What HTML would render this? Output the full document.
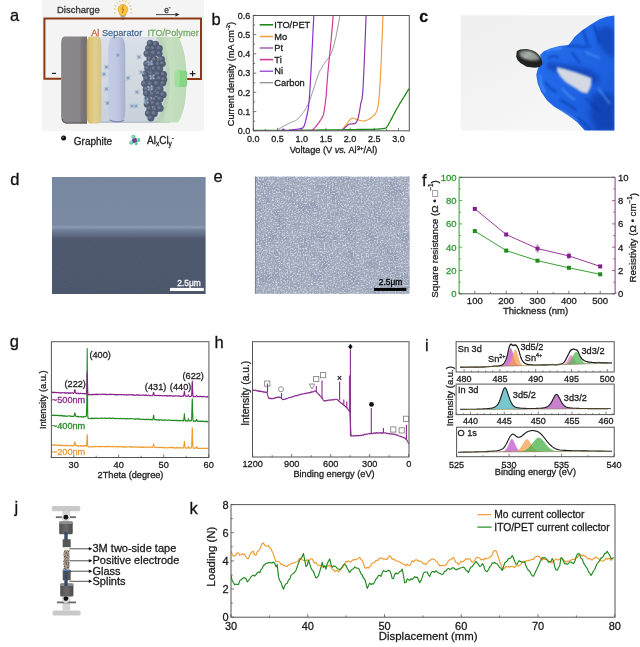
<!DOCTYPE html>
<html><head><meta charset="utf-8"><style>
html,body{margin:0;padding:0;background:#fff;}
body{width:640px;height:647px;overflow:hidden;}
svg{display:block;font-family:"Liberation Sans",sans-serif;will-change:transform;}
</style></head><body>
<svg width="640" height="647" viewBox="0 0 640 647">
<defs><linearGradient id="tube" x1="0" y1="0" x2="0" y2="1"><stop offset="0" stop-color="#d8dfe6"/><stop offset="0.5" stop-color="#d2d9e1"/><stop offset="1" stop-color="#c8d0da"/></linearGradient>
<linearGradient id="grdisk" x1="0" y1="0" x2="1" y2="0"><stop offset="0" stop-color="#827e81"/><stop offset="0.1" stop-color="#8b878a"/><stop offset="0.72" stop-color="#888487"/><stop offset="0.8" stop-color="#7a7679"/><stop offset="1" stop-color="#737072"/></linearGradient>
<linearGradient id="aldisk" x1="0" y1="0" x2="1" y2="0"><stop offset="0" stop-color="#c9a94a"/><stop offset="0.15" stop-color="#d9c074"/><stop offset="0.6" stop-color="#e2cf90"/><stop offset="1" stop-color="#d5c286"/></linearGradient>
<linearGradient id="sepdisk" x1="0" y1="0" x2="1" y2="0"><stop offset="0" stop-color="#c4cbe6"/><stop offset="0.5" stop-color="#c0c7e3"/><stop offset="0.75" stop-color="#b4bcda"/><stop offset="1" stop-color="#a7b0cf"/></linearGradient>
<linearGradient id="itocap" x1="0" y1="0" x2="1" y2="0"><stop offset="0" stop-color="#b9d7b5"/><stop offset="0.4" stop-color="#c6e0c1"/><stop offset="1" stop-color="#bcd9b6"/></linearGradient>
<clipPath id="clipb"><rect x="253.3" y="15.5" width="156.0" height="115.30000000000001"/></clipPath>
<linearGradient id="cbg" x1="0" y1="0" x2="0.6" y2="1"><stop offset="0" stop-color="#efefef"/><stop offset="0.5" stop-color="#f2f2f2"/><stop offset="1" stop-color="#f7f7f7"/></linearGradient>
<linearGradient id="glv" x1="0" y1="0" x2="1" y2="1"><stop offset="0" stop-color="#2a74f0"/><stop offset="0.45" stop-color="#2066e6"/><stop offset="1" stop-color="#1a56d4"/></linearGradient>
<clipPath id="clipglove"><polygon points="614.4,15.6 614.4,130.5 585,130.5 583.4,129.1 577.8,122.8 570.8,117.2 562.3,111.6 553.9,106.6 546.9,100.3 541.2,91.9 537.7,83.4 536.3,75 537.6,69.3 540.3,63.9 540.3,54.8 543.9,51.2 550.2,48.5 559.3,46.1 568.3,44.9 571,42.1 574.7,36.7 581,31.3 590,25 599.1,19.5 606.3,16.8"/></clipPath>
<filter id="blur1"><feGaussianBlur stdDeviation="1.0"/></filter>
<filter id="blur2"><feGaussianBlur stdDeviation="2.2"/></filter>
<linearGradient id="sampg" x1="0" y1="0" x2="1" y2="0.5"><stop offset="0" stop-color="#6a706a"/><stop offset="0.45" stop-color="#a8aea8"/><stop offset="1" stop-color="#8a908a"/></linearGradient>
<linearGradient id="dgrad" x1="0" y1="0" x2="0" y2="1"><stop offset="0" stop-color="#7686a0"/><stop offset="0.413" stop-color="#7888a2"/><stop offset="0.42" stop-color="#8696ae"/><stop offset="0.436" stop-color="#8393ab"/><stop offset="0.452" stop-color="#6f7e98"/><stop offset="0.51" stop-color="#55617a"/><stop offset="0.522" stop-color="#4a556b"/><stop offset="1" stop-color="#485369"/></linearGradient>
<filter id="noiseD" x="0" y="0" width="100%" height="100%"><feTurbulence type="fractalNoise" baseFrequency="0.9" numOctaves="2" seed="3" result="n"/><feColorMatrix type="matrix" values="0 0 0 0 0.5  0 0 0 0 0.5  0 0 0 0 0.55  0 0 0 0.25 0"/></filter>
<filter id="noiseE" x="0" y="0" width="100%" height="100%" color-interpolation-filters="sRGB"><feTurbulence type="fractalNoise" baseFrequency="0.07" numOctaves="2" seed="5" result="lo"/><feColorMatrix in="lo" type="matrix" values="0 0 0 0 0.52  0 0 0 0 0.56  0 0 0 0 0.65  1.5 0 0 0 -0.68" result="dk"/><feTurbulence type="fractalNoise" baseFrequency="0.62" numOctaves="2" seed="11" result="n"/><feColorMatrix in="n" type="matrix" values="0 0 0 0 0.82  0 0 0 0 0.85  0 0 0 0 0.91  3.0 0 0 0 -1.36" result="w"/><feTurbulence type="fractalNoise" baseFrequency="0.7" numOctaves="1" seed="29" result="n2"/><feColorMatrix in="n2" type="matrix" values="0 0 0 0 0.52  0 0 0 0 0.56  0 0 0 0 0.65  2.2 0 0 0 -1.1" result="d2"/><feMerge result="m"><feMergeNode in="dk"/><feMergeNode in="d2"/><feMergeNode in="w"/></feMerge><feGaussianBlur in="m" stdDeviation="0.3"/></filter>
<clipPath id="clipg"><rect x="51.4" y="341.7" width="157.5" height="115.80000000000001"/></clipPath>
<clipPath id="cliph"><rect x="252.5" y="341.7" width="156.5" height="115.30000000000001"/></clipPath>
<clipPath id="clipsn"><rect x="456.1" y="341.7" width="158.10000000000002" height="30.30000000000001"/></clipPath>
<clipPath id="clipin"><rect x="456.1" y="384.1" width="158.10000000000002" height="30.5"/></clipPath>
<clipPath id="clipo"><rect x="456.6" y="427.2" width="157.60000000000002" height="29.5"/></clipPath>
<linearGradient id="clmp" x1="0" y1="0" x2="1" y2="0"><stop offset="0" stop-color="#505050"/><stop offset="0.5" stop-color="#6a6a6a"/><stop offset="1" stop-color="#4a4a4a"/></linearGradient>
<filter id="sandf" x="0" y="0" width="100%" height="100%" color-interpolation-filters="sRGB"><feTurbulence type="fractalNoise" baseFrequency="0.8" numOctaves="2" seed="4"/><feColorMatrix type="matrix" values="0 0 0 0 0.35  0 0 0 0 0.3  0 0 0 0 0.25  3 0 0 0 -1.3"/></filter>
<clipPath id="clipk"><rect x="231.0" y="504.6" width="384.0" height="112.60000000000002"/></clipPath></defs>
<rect width="640" height="647" fill="#fff"/>
<text x="9.9" y="20.6" font-size="16.5" fill="#111" stroke="#111" stroke-width="0.28" text-anchor="start" >a</text>
<text x="211.6" y="24.9" font-size="16.5" fill="#111" stroke="#111" stroke-width="0.28" text-anchor="start" >b</text>
<text x="10.3" y="185" font-size="16.5" fill="#111" stroke="#111" stroke-width="0.28" text-anchor="start" >d</text>
<text x="213.6" y="181.9" font-size="16.5" fill="#111" stroke="#111" stroke-width="0.28" text-anchor="start" >e</text>
<text x="422.1" y="185.6" font-size="16.5" fill="#111" stroke="#111" stroke-width="0.28" text-anchor="start" >f</text>
<text x="9.7" y="347.3" font-size="16.5" fill="#111" stroke="#111" stroke-width="0.28" text-anchor="start" >g</text>
<text x="214.6" y="348.1" font-size="16.5" fill="#111" stroke="#111" stroke-width="0.28" text-anchor="start" >h</text>
<text x="425.1" y="350.9" font-size="16.5" fill="#111" stroke="#111" stroke-width="0.28" text-anchor="start" >i</text>
<text x="14.6" y="512.9" font-size="16.5" fill="#111" stroke="#111" stroke-width="0.28" text-anchor="start" >j</text>
<text x="189.6" y="513.8" font-size="16.5" fill="#111" stroke="#111" stroke-width="0.28" text-anchor="start" >k</text>
<text x="419.2" y="21.6" font-size="16" fill="#111" stroke="#111" stroke-width="0.28" text-anchor="start" font-weight="bold">c</text>
<rect x="42" y="0" width="162" height="130.8" fill="#f4f4f4" stroke="none" stroke-width="1" />
<text x="57" y="12.6" font-size="9.5" fill="#333" stroke="#333" stroke-width="0.28" text-anchor="start" >Discharge</text>
<line x1="115.5" y1="9" x2="113.9" y2="9" stroke="#d8b040" stroke-width="0.9"/>
<line x1="116.1" y1="6.2" x2="114.6" y2="5.6" stroke="#d8b040" stroke-width="0.9"/>
<line x1="117.7" y1="3.8" x2="116.5" y2="2.6" stroke="#d8b040" stroke-width="0.9"/>
<line x1="120.1" y1="2.2" x2="119.5" y2="0.7" stroke="#d8b040" stroke-width="0.9"/>
<line x1="122.9" y1="1.6" x2="122.9" y2="0" stroke="#d8b040" stroke-width="0.9"/>
<line x1="125.7" y1="2.2" x2="126.3" y2="0.7" stroke="#d8b040" stroke-width="0.9"/>
<line x1="128.1" y1="3.8" x2="129.3" y2="2.6" stroke="#d8b040" stroke-width="0.9"/>
<line x1="129.7" y1="6.2" x2="131.2" y2="5.6" stroke="#d8b040" stroke-width="0.9"/>
<line x1="130.3" y1="9" x2="131.9" y2="9" stroke="#d8b040" stroke-width="0.9"/>
<line x1="115.3" y1="12.5" x2="113.9" y2="13.2" stroke="#d8b040" stroke-width="0.9"/>
<line x1="130.5" y1="12.5" x2="131.9" y2="13.2" stroke="#d8b040" stroke-width="0.9"/>
<path d="M119.2,12.6 A4.9,4.9 0 1 1 126.6,12.6 L125.4,15.6 L120.4,15.6 Z" fill="#f8c640" stroke="#e0a020" stroke-width="0.7"/>
<path d="M123.7,5.6 L121.8,9.4 L123.9,9.4 L122.2,13.2" fill="none" stroke="#c85a1a" stroke-width="0.8"/>
<rect x="120.6" y="15.4" width="4.6" height="2" fill="#b0b0b0" stroke="none" stroke-width="1" />
<circle cx="122.9" cy="18.6" r="1.6" fill="#a8a8a8"/>
<text x="164.2" y="12.9" font-size="8.2" fill="#333" stroke="#333" stroke-width="0.28" text-anchor="start" >e</text>
<rect x="168.6" y="7.4" width="2" height="0.8" fill="#333" stroke="none" stroke-width="1" />
<line x1="156" y1="14.6" x2="176" y2="14.6" stroke="#333" stroke-width="0.9"/>
<path d="M179.5,14.6 L175.5,12.8 L175.5,16.4 Z" fill="#222"/>
<path d="M61,78.7 L44.4,78.7 L44.4,18.4 L201,18.4 L201,78.9 L187,78.9" fill="none" stroke="#8c3a14" stroke-width="2"/>
<rect x="52" y="72.8" width="4" height="1.2" fill="#222" stroke="none" stroke-width="1" />
<line x1="192.6" y1="70.8" x2="192.6" y2="76.6" stroke="#111" stroke-width="1.1"/>
<line x1="189.7" y1="73.7" x2="195.5" y2="73.7" stroke="#111" stroke-width="1.1"/>
<path d="M95,36.8 L170,36.8 L170,122.5 L95,122.5 Z" fill="url(#tube)"/>
<line x1="95" y1="122.2" x2="170" y2="122.2" stroke="#aab4c0" stroke-width="1"/>
<path d="M64.5,36.5 L87,36.5 L87,123.4 L65.5,123.4 Q61.2,123 61.2,116 L61.2,43 Q61.2,37 64.5,36.5 Z" fill="url(#grdisk)"/>
<path d="M62.2,119 Q63,122.8 66,123 L87,123" fill="none" stroke="#5a5659" stroke-width="1"/>
<path d="M89.5,36.5 L98.5,36.5 Q101.3,37.5 101.3,45 L101.3,115 Q101.3,122.8 98.5,123.4 L89.5,123.4 Q86.7,122.5 86.7,115 L86.7,45 Q86.7,37.5 89.5,36.5 Z" fill="url(#aldisk)"/>
<path d="M112,37 L121.5,37 Q125.3,39 125.3,50 L125.3,110 Q125.3,121.5 121.5,122.5 L112,122.5 Q108.3,121.5 108.3,110 L108.3,50 Q108.3,39 112,37 Z" fill="url(#sepdisk)"/>
<path d="M109.5,120 Q116,123.5 124,120.5" fill="none" stroke="#8088a8" stroke-width="1.2"/>
<path d="M158.5,37 L178,37 Q186.5,50 186.5,80 Q186.5,110 178,122.5 L158.5,122.5 Q170,108 170,80 Q170,52 158.5,37 Z" fill="url(#itocap)"/>
<path d="M156,37 Q165.5,52 165.5,80 Q165.5,108 156,122.5 L160,122.5 Q170,108 170,80 Q170,52 160,37 Z" fill="#b4d2b0" opacity="0.8"/>
<circle cx="150.2" cy="43.2" r="3.2" fill="#535f75" stroke="#46506a" stroke-width="0.4"/>
<circle cx="155.6" cy="44.4" r="3.4" fill="#535f75" stroke="#46506a" stroke-width="0.4"/>
<circle cx="148.6" cy="48.3" r="3.3" fill="#535f75" stroke="#46506a" stroke-width="0.4"/>
<circle cx="153.2" cy="48.5" r="3.3" fill="#535f75" stroke="#46506a" stroke-width="0.4"/>
<circle cx="159.2" cy="48.5" r="3.4" fill="#535f75" stroke="#46506a" stroke-width="0.4"/>
<circle cx="147.1" cy="53.6" r="3.4" fill="#535f75" stroke="#46506a" stroke-width="0.4"/>
<circle cx="153.5" cy="53.2" r="3.5" fill="#535f75" stroke="#46506a" stroke-width="0.4"/>
<circle cx="159.3" cy="53.7" r="3.1" fill="#535f75" stroke="#46506a" stroke-width="0.4"/>
<circle cx="149.7" cy="58.7" r="3.1" fill="#535f75" stroke="#46506a" stroke-width="0.4"/>
<circle cx="154.4" cy="59.6" r="3.4" fill="#535f75" stroke="#46506a" stroke-width="0.4"/>
<circle cx="161.5" cy="59.4" r="3.3" fill="#535f75" stroke="#46506a" stroke-width="0.4"/>
<circle cx="146.8" cy="63.8" r="3.3" fill="#535f75" stroke="#46506a" stroke-width="0.4"/>
<circle cx="152.5" cy="64.2" r="3.5" fill="#535f75" stroke="#46506a" stroke-width="0.4"/>
<circle cx="158.1" cy="64.3" r="3.0" fill="#535f75" stroke="#46506a" stroke-width="0.4"/>
<circle cx="162.6" cy="63.7" r="3.0" fill="#535f75" stroke="#46506a" stroke-width="0.4"/>
<circle cx="147.6" cy="68.4" r="3.2" fill="#535f75" stroke="#46506a" stroke-width="0.4"/>
<circle cx="154.2" cy="68.8" r="3.2" fill="#535f75" stroke="#46506a" stroke-width="0.4"/>
<circle cx="159.5" cy="68.6" r="3.6" fill="#535f75" stroke="#46506a" stroke-width="0.4"/>
<circle cx="145.2" cy="74.2" r="3.1" fill="#535f75" stroke="#46506a" stroke-width="0.4"/>
<circle cx="151.4" cy="73.5" r="3.2" fill="#535f75" stroke="#46506a" stroke-width="0.4"/>
<circle cx="157.8" cy="74.2" r="3.3" fill="#535f75" stroke="#46506a" stroke-width="0.4"/>
<circle cx="163.3" cy="74.5" r="3.5" fill="#535f75" stroke="#46506a" stroke-width="0.4"/>
<circle cx="146.6" cy="78.3" r="3.2" fill="#535f75" stroke="#46506a" stroke-width="0.4"/>
<circle cx="152.6" cy="78.5" r="3.6" fill="#535f75" stroke="#46506a" stroke-width="0.4"/>
<circle cx="159.6" cy="78.7" r="3.4" fill="#535f75" stroke="#46506a" stroke-width="0.4"/>
<circle cx="163.8" cy="79.7" r="3.3" fill="#535f75" stroke="#46506a" stroke-width="0.4"/>
<circle cx="144.6" cy="83.6" r="3.3" fill="#535f75" stroke="#46506a" stroke-width="0.4"/>
<circle cx="150.6" cy="84.1" r="3.5" fill="#535f75" stroke="#46506a" stroke-width="0.4"/>
<circle cx="156.8" cy="83.6" r="3.6" fill="#535f75" stroke="#46506a" stroke-width="0.4"/>
<circle cx="163.0" cy="83.3" r="3.0" fill="#535f75" stroke="#46506a" stroke-width="0.4"/>
<circle cx="146.4" cy="89.2" r="3.5" fill="#535f75" stroke="#46506a" stroke-width="0.4"/>
<circle cx="152.9" cy="88.3" r="3.2" fill="#535f75" stroke="#46506a" stroke-width="0.4"/>
<circle cx="159.8" cy="89.0" r="3.6" fill="#535f75" stroke="#46506a" stroke-width="0.4"/>
<circle cx="146.6" cy="93.2" r="3.4" fill="#535f75" stroke="#46506a" stroke-width="0.4"/>
<circle cx="152.3" cy="94.1" r="3.2" fill="#535f75" stroke="#46506a" stroke-width="0.4"/>
<circle cx="158.2" cy="93.4" r="3.3" fill="#535f75" stroke="#46506a" stroke-width="0.4"/>
<circle cx="162.9" cy="94.7" r="3.5" fill="#535f75" stroke="#46506a" stroke-width="0.4"/>
<circle cx="147.6" cy="99.0" r="3.1" fill="#535f75" stroke="#46506a" stroke-width="0.4"/>
<circle cx="154.7" cy="99.6" r="3.2" fill="#535f75" stroke="#46506a" stroke-width="0.4"/>
<circle cx="160.2" cy="99.2" r="3.1" fill="#535f75" stroke="#46506a" stroke-width="0.4"/>
<circle cx="147.4" cy="104.1" r="3.5" fill="#535f75" stroke="#46506a" stroke-width="0.4"/>
<circle cx="153.0" cy="103.2" r="3.2" fill="#535f75" stroke="#46506a" stroke-width="0.4"/>
<circle cx="158.2" cy="104.7" r="3.5" fill="#535f75" stroke="#46506a" stroke-width="0.4"/>
<circle cx="149.5" cy="108.7" r="3.0" fill="#535f75" stroke="#46506a" stroke-width="0.4"/>
<circle cx="155.6" cy="109.7" r="3.1" fill="#535f75" stroke="#46506a" stroke-width="0.4"/>
<circle cx="160.0" cy="108.3" r="3.5" fill="#535f75" stroke="#46506a" stroke-width="0.4"/>
<circle cx="148.4" cy="113.4" r="3.3" fill="#535f75" stroke="#46506a" stroke-width="0.4"/>
<circle cx="154.1" cy="113.6" r="3.5" fill="#535f75" stroke="#46506a" stroke-width="0.4"/>
<circle cx="150.9" cy="118.0" r="3.3" fill="#535f75" stroke="#46506a" stroke-width="0.4"/>
<circle cx="149.3" cy="42.3" r="1.6" fill="#74819a" opacity="0.75"/>
<circle cx="154.7" cy="43.5" r="1.7" fill="#74819a" opacity="0.75"/>
<circle cx="147.7" cy="47.4" r="1.6" fill="#74819a" opacity="0.75"/>
<circle cx="152.3" cy="47.6" r="1.7" fill="#74819a" opacity="0.75"/>
<circle cx="158.3" cy="47.6" r="1.7" fill="#74819a" opacity="0.75"/>
<circle cx="146.2" cy="52.7" r="1.7" fill="#74819a" opacity="0.75"/>
<circle cx="152.6" cy="52.3" r="1.7" fill="#74819a" opacity="0.75"/>
<circle cx="158.4" cy="52.8" r="1.5" fill="#74819a" opacity="0.75"/>
<circle cx="148.8" cy="57.8" r="1.5" fill="#74819a" opacity="0.75"/>
<circle cx="153.5" cy="58.7" r="1.7" fill="#74819a" opacity="0.75"/>
<circle cx="160.6" cy="58.5" r="1.7" fill="#74819a" opacity="0.75"/>
<circle cx="145.9" cy="62.9" r="1.7" fill="#74819a" opacity="0.75"/>
<circle cx="151.6" cy="63.3" r="1.8" fill="#74819a" opacity="0.75"/>
<circle cx="157.2" cy="63.4" r="1.5" fill="#74819a" opacity="0.75"/>
<circle cx="161.7" cy="62.8" r="1.5" fill="#74819a" opacity="0.75"/>
<circle cx="146.7" cy="67.5" r="1.6" fill="#74819a" opacity="0.75"/>
<circle cx="153.3" cy="67.9" r="1.6" fill="#74819a" opacity="0.75"/>
<circle cx="158.6" cy="67.7" r="1.8" fill="#74819a" opacity="0.75"/>
<circle cx="144.3" cy="73.3" r="1.6" fill="#74819a" opacity="0.75"/>
<circle cx="150.5" cy="72.6" r="1.6" fill="#74819a" opacity="0.75"/>
<circle cx="156.9" cy="73.3" r="1.7" fill="#74819a" opacity="0.75"/>
<circle cx="162.4" cy="73.6" r="1.7" fill="#74819a" opacity="0.75"/>
<circle cx="145.7" cy="77.4" r="1.6" fill="#74819a" opacity="0.75"/>
<circle cx="151.7" cy="77.6" r="1.8" fill="#74819a" opacity="0.75"/>
<circle cx="158.7" cy="77.8" r="1.7" fill="#74819a" opacity="0.75"/>
<circle cx="162.9" cy="78.8" r="1.6" fill="#74819a" opacity="0.75"/>
<circle cx="143.7" cy="82.7" r="1.7" fill="#74819a" opacity="0.75"/>
<circle cx="149.7" cy="83.2" r="1.8" fill="#74819a" opacity="0.75"/>
<circle cx="155.9" cy="82.7" r="1.8" fill="#74819a" opacity="0.75"/>
<circle cx="162.1" cy="82.4" r="1.5" fill="#74819a" opacity="0.75"/>
<circle cx="145.5" cy="88.3" r="1.7" fill="#74819a" opacity="0.75"/>
<circle cx="152.0" cy="87.4" r="1.6" fill="#74819a" opacity="0.75"/>
<circle cx="158.9" cy="88.1" r="1.8" fill="#74819a" opacity="0.75"/>
<circle cx="145.7" cy="92.3" r="1.7" fill="#74819a" opacity="0.75"/>
<circle cx="151.4" cy="93.2" r="1.6" fill="#74819a" opacity="0.75"/>
<circle cx="157.3" cy="92.5" r="1.6" fill="#74819a" opacity="0.75"/>
<circle cx="162.0" cy="93.8" r="1.8" fill="#74819a" opacity="0.75"/>
<circle cx="146.7" cy="98.1" r="1.6" fill="#74819a" opacity="0.75"/>
<circle cx="153.8" cy="98.7" r="1.6" fill="#74819a" opacity="0.75"/>
<circle cx="159.3" cy="98.3" r="1.5" fill="#74819a" opacity="0.75"/>
<circle cx="146.5" cy="103.2" r="1.7" fill="#74819a" opacity="0.75"/>
<circle cx="152.1" cy="102.3" r="1.6" fill="#74819a" opacity="0.75"/>
<circle cx="157.3" cy="103.8" r="1.8" fill="#74819a" opacity="0.75"/>
<circle cx="148.6" cy="107.8" r="1.5" fill="#74819a" opacity="0.75"/>
<circle cx="154.7" cy="108.8" r="1.5" fill="#74819a" opacity="0.75"/>
<circle cx="159.1" cy="107.4" r="1.7" fill="#74819a" opacity="0.75"/>
<circle cx="147.5" cy="112.5" r="1.6" fill="#74819a" opacity="0.75"/>
<circle cx="153.2" cy="112.7" r="1.8" fill="#74819a" opacity="0.75"/>
<circle cx="150.0" cy="117.1" r="1.7" fill="#74819a" opacity="0.75"/>
<circle cx="108.2" cy="68.3" r="1.1" fill="#98d0c8" opacity="0.75"/>
<circle cx="104.8" cy="65.9" r="1.1" fill="#98d0c8" opacity="0.75"/>
<circle cx="108.0" cy="65.4" r="1.1" fill="#98d0c8" opacity="0.75"/>
<circle cx="105.2" cy="68.7" r="1.1" fill="#98d0c8" opacity="0.75"/>
<circle cx="106.5" cy="67" r="1.5" fill="#9a80c8" opacity="0.8"/>
<circle cx="105.7" cy="75.3" r="1.1" fill="#98d0c8" opacity="0.75"/>
<circle cx="102.3" cy="72.9" r="1.1" fill="#98d0c8" opacity="0.75"/>
<circle cx="105.5" cy="72.4" r="1.1" fill="#98d0c8" opacity="0.75"/>
<circle cx="102.7" cy="75.7" r="1.1" fill="#98d0c8" opacity="0.75"/>
<circle cx="104" cy="74" r="1.5" fill="#9a80c8" opacity="0.8"/>
<circle cx="108.2" cy="90.3" r="1.1" fill="#98d0c8" opacity="0.75"/>
<circle cx="104.8" cy="87.9" r="1.1" fill="#98d0c8" opacity="0.75"/>
<circle cx="108.0" cy="87.4" r="1.1" fill="#98d0c8" opacity="0.75"/>
<circle cx="105.2" cy="90.7" r="1.1" fill="#98d0c8" opacity="0.75"/>
<circle cx="106.5" cy="89" r="1.5" fill="#9a80c8" opacity="0.8"/>
<circle cx="109.2" cy="104.3" r="1.1" fill="#98d0c8" opacity="0.75"/>
<circle cx="105.8" cy="101.9" r="1.1" fill="#98d0c8" opacity="0.75"/>
<circle cx="109.0" cy="101.4" r="1.1" fill="#98d0c8" opacity="0.75"/>
<circle cx="106.2" cy="104.7" r="1.1" fill="#98d0c8" opacity="0.75"/>
<circle cx="107.5" cy="103" r="1.5" fill="#9a80c8" opacity="0.8"/>
<circle cx="119.7" cy="56.3" r="1.1" fill="#98d0c8" opacity="0.75"/>
<circle cx="116.3" cy="53.9" r="1.1" fill="#98d0c8" opacity="0.75"/>
<circle cx="119.5" cy="53.4" r="1.1" fill="#98d0c8" opacity="0.75"/>
<circle cx="116.7" cy="56.7" r="1.1" fill="#98d0c8" opacity="0.75"/>
<circle cx="118" cy="55" r="1.5" fill="#9a80c8" opacity="0.8"/>
<circle cx="129.7" cy="79.3" r="1.1" fill="#98d0c8" opacity="0.75"/>
<circle cx="126.3" cy="76.9" r="1.1" fill="#98d0c8" opacity="0.75"/>
<circle cx="129.5" cy="76.4" r="1.1" fill="#98d0c8" opacity="0.75"/>
<circle cx="126.7" cy="79.7" r="1.1" fill="#98d0c8" opacity="0.75"/>
<circle cx="128" cy="78" r="1.5" fill="#9a80c8" opacity="0.8"/>
<circle cx="140.7" cy="58.3" r="1.1" fill="#98d0c8" opacity="0.75"/>
<circle cx="137.3" cy="55.9" r="1.1" fill="#98d0c8" opacity="0.75"/>
<circle cx="140.5" cy="55.4" r="1.1" fill="#98d0c8" opacity="0.75"/>
<circle cx="137.7" cy="58.7" r="1.1" fill="#98d0c8" opacity="0.75"/>
<circle cx="139" cy="57" r="1.5" fill="#9a80c8" opacity="0.8"/>
<circle cx="142.7" cy="73.3" r="1.1" fill="#98d0c8" opacity="0.75"/>
<circle cx="139.3" cy="70.9" r="1.1" fill="#98d0c8" opacity="0.75"/>
<circle cx="142.5" cy="70.4" r="1.1" fill="#98d0c8" opacity="0.75"/>
<circle cx="139.7" cy="73.7" r="1.1" fill="#98d0c8" opacity="0.75"/>
<circle cx="141" cy="72" r="1.5" fill="#9a80c8" opacity="0.8"/>
<circle cx="138.7" cy="93.3" r="1.1" fill="#98d0c8" opacity="0.75"/>
<circle cx="135.3" cy="90.9" r="1.1" fill="#98d0c8" opacity="0.75"/>
<circle cx="138.5" cy="90.4" r="1.1" fill="#98d0c8" opacity="0.75"/>
<circle cx="135.7" cy="93.7" r="1.1" fill="#98d0c8" opacity="0.75"/>
<circle cx="137" cy="92" r="1.5" fill="#9a80c8" opacity="0.8"/>
<circle cx="137.7" cy="107.3" r="1.1" fill="#98d0c8" opacity="0.75"/>
<circle cx="134.3" cy="104.9" r="1.1" fill="#98d0c8" opacity="0.75"/>
<circle cx="137.5" cy="104.4" r="1.1" fill="#98d0c8" opacity="0.75"/>
<circle cx="134.7" cy="107.7" r="1.1" fill="#98d0c8" opacity="0.75"/>
<circle cx="136" cy="106" r="1.5" fill="#9a80c8" opacity="0.8"/>
<circle cx="133.7" cy="107.3" r="1.1" fill="#98d0c8" opacity="0.75"/>
<circle cx="130.3" cy="104.9" r="1.1" fill="#98d0c8" opacity="0.75"/>
<circle cx="133.5" cy="104.4" r="1.1" fill="#98d0c8" opacity="0.75"/>
<circle cx="130.7" cy="107.7" r="1.1" fill="#98d0c8" opacity="0.75"/>
<circle cx="132" cy="106" r="1.5" fill="#9a80c8" opacity="0.8"/>
<circle cx="151.7" cy="64.3" r="1.1" fill="#98d0c8" opacity="0.75"/>
<circle cx="148.3" cy="61.9" r="1.1" fill="#98d0c8" opacity="0.75"/>
<circle cx="151.5" cy="61.4" r="1.1" fill="#98d0c8" opacity="0.75"/>
<circle cx="148.7" cy="64.7" r="1.1" fill="#98d0c8" opacity="0.75"/>
<circle cx="150" cy="63" r="1.5" fill="#9a80c8" opacity="0.8"/>
<circle cx="151.7" cy="89.3" r="1.1" fill="#98d0c8" opacity="0.75"/>
<circle cx="148.3" cy="86.9" r="1.1" fill="#98d0c8" opacity="0.75"/>
<circle cx="151.5" cy="86.4" r="1.1" fill="#98d0c8" opacity="0.75"/>
<circle cx="148.7" cy="89.7" r="1.1" fill="#98d0c8" opacity="0.75"/>
<circle cx="150" cy="88" r="1.5" fill="#9a80c8" opacity="0.8"/>
<circle cx="147.7" cy="102.3" r="1.1" fill="#98d0c8" opacity="0.75"/>
<circle cx="144.3" cy="99.9" r="1.1" fill="#98d0c8" opacity="0.75"/>
<circle cx="147.5" cy="99.4" r="1.1" fill="#98d0c8" opacity="0.75"/>
<circle cx="144.7" cy="102.7" r="1.1" fill="#98d0c8" opacity="0.75"/>
<circle cx="146" cy="101" r="1.5" fill="#9a80c8" opacity="0.8"/>
<circle cx="153.7" cy="78.3" r="1.1" fill="#98d0c8" opacity="0.75"/>
<circle cx="150.3" cy="75.9" r="1.1" fill="#98d0c8" opacity="0.75"/>
<circle cx="153.5" cy="75.4" r="1.1" fill="#98d0c8" opacity="0.75"/>
<circle cx="150.7" cy="78.7" r="1.1" fill="#98d0c8" opacity="0.75"/>
<circle cx="152" cy="77" r="1.5" fill="#9a80c8" opacity="0.8"/>
<rect x="174.8" y="70.5" width="12.4" height="16.6" rx="3" fill="#86d686"/>
<rect x="174.8" y="70.5" width="5" height="16.6" rx="2.5" fill="#9ee09c"/>
<text x="91.2" y="35.8" font-size="9.2" fill="#cc6428" stroke="#cc6428" stroke-width="0.28" text-anchor="start" >Al</text>
<text x="101.9" y="35.8" font-size="9.2" fill="#4a6d96" stroke="#4a6d96" stroke-width="0.28" text-anchor="start" >Separator</text>
<text x="147.4" y="35.8" font-size="9.2" fill="#76ad66" stroke="#76ad66" stroke-width="0.28" text-anchor="start" >ITO/Polymer</text>
<circle cx="63.6" cy="138.1" r="2.5" fill="#111"/>
<circle cx="63" cy="137.4" r="0.8" fill="#777"/>
<text x="73.8" y="144.5" font-size="10" fill="#222" stroke="#222" stroke-width="0.28" text-anchor="start" >Graphite</text>
<circle cx="134.6" cy="140.4" r="2.6" fill="#7a2a9a"/>
<circle cx="133.4" cy="136.9" r="2.1" fill="#5cc89a"/>
<circle cx="132.9" cy="136.4" r="0.9450000000000001" fill="#8ee8c0"/>
<circle cx="138.4" cy="139.9" r="2.0" fill="#5cc89a"/>
<circle cx="137.9" cy="139.4" r="0.9" fill="#8ee8c0"/>
<circle cx="131.3" cy="142.7" r="2.1" fill="#5cc89a"/>
<circle cx="130.8" cy="142.2" r="0.9450000000000001" fill="#8ee8c0"/>
<circle cx="136.2" cy="143.6" r="1.6" fill="#5cc89a"/>
<circle cx="135.7" cy="143.1" r="0.7200000000000001" fill="#8ee8c0"/>
<circle cx="134.8" cy="140.6" r="1.3" fill="#8a3aa8"/>
<text x="147" y="143.9" font-size="10" fill="#222" stroke="#222" stroke-width="0.28" text-anchor="start" >Al<tspan font-size="6.5" dy="2">x</tspan><tspan dy="-2">Cl</tspan><tspan font-size="6.5" dy="2">y</tspan><tspan font-size="6.5" dy="-6">-</tspan></text>
<line x1="253.3" y1="130.8" x2="256.3" y2="130.8" stroke="#555" stroke-width="0.8"/>
<line x1="253.3" y1="121.2" x2="255.1" y2="121.2" stroke="#555" stroke-width="0.8"/>
<line x1="253.3" y1="111.6" x2="256.3" y2="111.6" stroke="#555" stroke-width="0.8"/>
<line x1="253.3" y1="101.9" x2="255.1" y2="101.9" stroke="#555" stroke-width="0.8"/>
<line x1="253.3" y1="92.3" x2="256.3" y2="92.3" stroke="#555" stroke-width="0.8"/>
<line x1="253.3" y1="82.7" x2="255.1" y2="82.7" stroke="#555" stroke-width="0.8"/>
<line x1="253.3" y1="73.1" x2="256.3" y2="73.1" stroke="#555" stroke-width="0.8"/>
<line x1="253.3" y1="63.4" x2="255.1" y2="63.4" stroke="#555" stroke-width="0.8"/>
<line x1="253.3" y1="53.8" x2="256.3" y2="53.8" stroke="#555" stroke-width="0.8"/>
<line x1="253.3" y1="44.2" x2="255.1" y2="44.2" stroke="#555" stroke-width="0.8"/>
<line x1="253.3" y1="34.6" x2="256.3" y2="34.6" stroke="#555" stroke-width="0.8"/>
<line x1="253.3" y1="24.9" x2="255.1" y2="24.9" stroke="#555" stroke-width="0.8"/>
<line x1="253.3" y1="15.3" x2="256.3" y2="15.3" stroke="#555" stroke-width="0.8"/>
<line x1="253.3" y1="130.8" x2="253.3" y2="127.8" stroke="#555" stroke-width="0.8"/>
<line x1="265.4" y1="130.8" x2="265.4" y2="129" stroke="#555" stroke-width="0.8"/>
<line x1="277.5" y1="130.8" x2="277.5" y2="127.8" stroke="#555" stroke-width="0.8"/>
<line x1="289.6" y1="130.8" x2="289.6" y2="129" stroke="#555" stroke-width="0.8"/>
<line x1="301.7" y1="130.8" x2="301.7" y2="127.8" stroke="#555" stroke-width="0.8"/>
<line x1="313.8" y1="130.8" x2="313.8" y2="129" stroke="#555" stroke-width="0.8"/>
<line x1="325.9" y1="130.8" x2="325.9" y2="127.8" stroke="#555" stroke-width="0.8"/>
<line x1="338" y1="130.8" x2="338" y2="129" stroke="#555" stroke-width="0.8"/>
<line x1="350.1" y1="130.8" x2="350.1" y2="127.8" stroke="#555" stroke-width="0.8"/>
<line x1="362.2" y1="130.8" x2="362.2" y2="129" stroke="#555" stroke-width="0.8"/>
<line x1="374.3" y1="130.8" x2="374.3" y2="127.8" stroke="#555" stroke-width="0.8"/>
<line x1="386.4" y1="130.8" x2="386.4" y2="129" stroke="#555" stroke-width="0.8"/>
<line x1="398.5" y1="130.8" x2="398.5" y2="127.8" stroke="#555" stroke-width="0.8"/>
<text x="250.3" y="134.1" font-size="9" fill="#1a1a1a" stroke="#1a1a1a" stroke-width="0.28" text-anchor="end" >0.0</text>
<text x="250.3" y="114.9" font-size="9" fill="#1a1a1a" stroke="#1a1a1a" stroke-width="0.28" text-anchor="end" >0.1</text>
<text x="250.3" y="95.6" font-size="9" fill="#1a1a1a" stroke="#1a1a1a" stroke-width="0.28" text-anchor="end" >0.2</text>
<text x="250.3" y="76.4" font-size="9" fill="#1a1a1a" stroke="#1a1a1a" stroke-width="0.28" text-anchor="end" >0.3</text>
<text x="250.3" y="57.1" font-size="9" fill="#1a1a1a" stroke="#1a1a1a" stroke-width="0.28" text-anchor="end" >0.4</text>
<text x="250.3" y="37.9" font-size="9" fill="#1a1a1a" stroke="#1a1a1a" stroke-width="0.28" text-anchor="end" >0.5</text>
<text x="250.3" y="18.6" font-size="9" fill="#1a1a1a" stroke="#1a1a1a" stroke-width="0.28" text-anchor="end" >0.6</text>
<text x="253.3" y="141.7" font-size="9" fill="#1a1a1a" stroke="#1a1a1a" stroke-width="0.28" text-anchor="middle" >0.0</text>
<text x="277.5" y="141.7" font-size="9" fill="#1a1a1a" stroke="#1a1a1a" stroke-width="0.28" text-anchor="middle" >0.5</text>
<text x="301.7" y="141.7" font-size="9" fill="#1a1a1a" stroke="#1a1a1a" stroke-width="0.28" text-anchor="middle" >1.0</text>
<text x="325.9" y="141.7" font-size="9" fill="#1a1a1a" stroke="#1a1a1a" stroke-width="0.28" text-anchor="middle" >1.5</text>
<text x="350.1" y="141.7" font-size="9" fill="#1a1a1a" stroke="#1a1a1a" stroke-width="0.28" text-anchor="middle" >2.0</text>
<text x="374.3" y="141.7" font-size="9" fill="#1a1a1a" stroke="#1a1a1a" stroke-width="0.28" text-anchor="middle" >2.5</text>
<text x="398.5" y="141.7" font-size="9" fill="#1a1a1a" stroke="#1a1a1a" stroke-width="0.28" text-anchor="middle" >3.0</text>
<text transform="translate(231.1,74) rotate(-90)" font-size="9.2" fill="#1a1a1a" stroke="#1a1a1a" stroke-width="0.28" text-anchor="middle" dominant-baseline="central">Current density (mA cm<tspan font-size="6" dy="-3.5">-2</tspan><tspan dy="3.5">)</tspan></text>
<text x="333.5" y="153.3" font-size="9.2" fill="#1a1a1a" stroke="#1a1a1a" stroke-width="0.28" text-anchor="middle" >Voltage (V <tspan font-style="italic">vs.</tspan> Al<tspan font-size="6" dy="-3.5">3+</tspan><tspan dy="3.5">/Al)</tspan></text>
<g clip-path="url(#clipb)">
<polyline points="277,130.2 277.4,130 277.9,129.6 278.5,129.3 279.2,128.8 280,128.4 280.7,127.9 281.5,127.4 282.3,127 283.2,126.5 284,126 284.9,125.5 285.9,125 286.8,124.5 287.8,124 288.7,123.5 289.6,123.1 290.5,122.7 291.4,122.3 292.2,122 293.1,121.7 294,121.3 294.8,120.9 295.6,120.5 296.4,120 297.1,119.5 297.8,118.9 298.4,118.3 299.1,117.6 299.7,117 300.3,116.2 301,115.4 301.7,114.4 302.4,113.5 303.2,112.4 304,111.3 304.8,110.2 305.6,109 306.4,107.6 307.2,106.2 308,104.6 308.7,102.9 309.5,101 310.2,99 311,96.8 311.7,94.7 312.4,92.5 313.1,90.5 313.8,88.5 314.4,86.5 315.1,84.5 315.6,82.6 316.2,80.7 316.8,78.8 317.4,77 318,75.3 318.6,73.6 319.3,72.1 320,70.7 320.7,69.4 321.5,68.2 322.2,67 322.9,65.8 323.7,64.6 324.4,63.4 325.2,62.3 326,61.2 326.8,60.3 327.7,59.3 328.5,58.2 329.3,57.1 330,55.8 330.7,54.4 331.4,52.8 332.1,51 332.7,49.2 333.3,47.3 333.9,45.2 334.4,43.1 335,40.8 335.6,38.4 336.2,35.8 336.7,32.9 337.3,29.9 337.9,26.8 338.4,23.7 339,20.7 339.5,17.9 339.9,15.3 340.4,12.9 340.8,10.5 341.3,8.3 341.7,6.2 342,4.2 342.4,2.5 342.6,1 342.8,-0.1" fill="none" stroke="#8a8a8a" stroke-width="0.9" stroke-linejoin="round" />
<polyline points="253.3,130.4 257,130.4 262,130.4 267.9,130.4 274.5,130.4 281.4,130.3 288.5,130.3 295.3,130.3 301.7,130.2 307.9,130.2 314.4,130.1 320.9,130 327.4,129.9 333.7,129.9 339.7,129.8 345.2,129.7 350.1,129.6 354.4,129.6 358.2,129.5 361.6,129.5 364.6,129.5 367.4,129.4 369.8,129.4 372.1,129.3 374.3,129.3 376.3,129.2 377.9,129.1 379.3,129 380.5,128.9 381.5,128.9 382.4,128.7 383.2,128.6 384,128.5 384.7,128.4 385.1,128.3 385.5,128.2 385.8,128.2 386,128 386.2,127.8 386.5,127.4 386.9,127 387.3,126.3 387.8,125.6 388.3,124.8 388.8,123.8 389.3,122.8 389.9,121.7 390.5,120.5 391.2,119.3 392,117.9 392.8,116.4 393.6,114.8 394.5,113.1 395.4,111.4 396.4,109.5 397.4,107.7 398.5,105.8 399.7,103.7 401.2,101.3 402.7,98.8 404.3,96.3 405.8,93.8 407.2,91.7 408.3,89.8 409.1,88.5" fill="none" stroke="#1e8a1e" stroke-width="1.3" stroke-linejoin="round" />
<polyline points="341.4,130.8 341.7,130.4 342.1,130 342.5,129.4 343,128.8 343.6,128.1 344.1,127.4 344.7,126.7 345.3,126 345.8,125.2 346.4,124.4 347.1,123.5 347.7,122.6 348.4,121.7 349,120.9 349.6,120.2 350.1,119.6 350.5,119.2 350.9,118.8 351.3,118.6 351.6,118.4 351.9,118.2 352.2,118.2 352.6,118.1 353,118.1 353.5,118.1 353.9,118.3 354.4,118.5 355,118.7 355.5,118.9 356.1,119.2 356.7,119.4 357.4,119.6 358.1,119.8 358.8,120.1 359.6,120.3 360.4,120.5 361.2,120.7 362.1,120.9 362.9,121 363.7,121 364.4,120.9 365.1,120.8 365.9,120.6 366.6,120.3 367.3,120 368,119.7 368.7,119.3 369.5,118.9 370.2,118.4 371,117.8 371.8,117.3 372.6,116.6 373.3,115.9 374.1,115.3 374.7,114.6 375.3,113.9 375.7,113.2 376.1,112.5 376.5,111.8 376.8,111.1 377,110.4 377.2,109.6 377.5,108.7 377.7,107.7 377.9,106.7 378.1,105.9 378.3,105.1 378.4,104.1 378.6,103 378.8,101.5 378.9,99.6 379.1,97.1 379.4,94.1 379.6,90.7 379.8,86.8 380.1,82.6 380.3,78.1 380.6,73.4 380.8,68.5 381.1,63.4 381.3,57.9 381.6,51.7 381.8,45.2 382.1,38.5 382.4,31.9 382.6,25.6 382.8,20 383,15.3 383.2,11.4 383.3,8 383.5,5.1 383.6,2.7 383.7,0.6 383.8,-1.2 383.9,-2.7 384,-3.9" fill="none" stroke="#f0a040" stroke-width="1.2" stroke-linejoin="round" />
<polyline points="341.4,130.8 341.7,130.5 342.1,130.2 342.6,129.7 343.1,129.3 343.6,128.8 344.2,128.3 344.7,127.8 345.3,127.3 345.7,126.9 346.2,126.5 346.7,126 347.2,125.6 347.7,125.2 348.2,124.8 348.6,124.5 349.1,124.3 349.6,124.1 350.1,124 350.6,123.9 351.1,123.9 351.6,124 352.1,124 352.6,123.9 353,123.9 353.4,123.8 353.8,123.7 354.2,123.7 354.5,123.6 354.9,123.5 355.2,123.3 355.6,123.1 355.9,122.7 356.2,122.3 356.5,121.9 356.9,121.4 357.1,120.8 357.4,120.1 357.7,119.3 358,118.4 358.3,117.3 358.6,116 358.9,114.5 359.3,112.7 359.6,110.9 359.9,109.1 360.2,107.2 360.5,105.5 360.7,103.9 361,102.6 361.3,101.6 361.5,100.9 361.7,100.1 362,99.1 362.2,97.7 362.4,95.8 362.7,93.1 362.9,89.5 363.2,85.2 363.4,80.4 363.7,75.2 363.9,69.7 364.2,64.2 364.4,58.9 364.6,53.8 364.8,48.8 365,43.7 365.2,38.5 365.4,33.3 365.6,28.3 365.8,23.6 365.9,19.2 366.1,15.3 366.2,11.8 366.3,8.7 366.3,5.8 366.4,3.3 366.5,1 366.5,-0.9 366.5,-2.6 366.6,-3.9" fill="none" stroke="#8a3aa0" stroke-width="1.2" stroke-linejoin="round" />
<polyline points="253.3,130.8 257.7,130.8 264,130.8 271.5,130.8 279.6,130.8 287.7,130.9 295.4,130.9 301.8,130.8 306.5,130.8 309.5,130.8 311.3,130.7 312.1,130.7 312.3,130.7 312,130.6 311.7,130.5 311.6,130.3 311.9,130 312.5,129.7 313,129.3 313.5,128.9 314.1,128.4 314.6,127.8 315.1,127.3 315.7,126.6 316.2,126 316.8,125.3 317.5,124.5 318.1,123.6 318.8,122.7 319.4,121.8 320,120.9 320.6,120 321.1,119.3 321.5,118.6 321.8,118.1 322.1,117.7 322.4,117.3 322.7,116.9 322.9,116.2 323.2,115.4 323.5,114.2 323.8,112.8 324.1,111.2 324.4,109.4 324.7,107.4 325,105.3 325.3,103 325.6,100.6 325.9,98.1 326.2,95.4 326.4,92.5 326.6,89.5 326.8,86.4 327.1,83.1 327.3,79.8 327.6,76.4 327.8,73.1 328.2,69.6 328.5,66.1 328.9,62.5 329.3,58.9 329.6,55.2 330,51.5 330.4,47.8 330.7,44.2 331.1,40.5 331.4,36.7 331.7,32.9 332.1,29.1 332.4,25.4 332.7,21.8 332.9,18.4 333.2,15.3 333.4,12.3 333.5,9.4 333.7,6.5 333.8,3.9 333.9,1.4 334,-0.7 334.1,-2.5 334.1,-3.9" fill="none" stroke="#d03a9a" stroke-width="1.2" stroke-linejoin="round" />
<polyline points="281.4,130.8 281.5,130.7 281.6,130.5 281.8,130.3 282,130 282.2,129.8 282.4,129.5 282.6,129.4 282.8,129.3 283,129.2 283.2,129.2 283.3,129.2 283.5,129.3 283.7,129.4 283.9,129.4 284.1,129.5 284.3,129.6 284.5,129.8 284.6,129.9 284.8,130.1 285,130.3 285.2,130.5 285.4,130.6 285.8,130.8 286.2,130.8 286.7,130.8 287.4,130.7 288,130.6 288.8,130.5 289.6,130.3 290.4,130.1 291.2,130 292,129.8 292.9,129.7 293.8,129.6 294.8,129.5 295.8,129.4 296.7,129.3 297.7,129.2 298.5,129 299.3,128.9 299.9,128.7 300.5,128.6 301,128.5 301.5,128.4 302,128.3 302.4,128.1 302.8,127.8 303.2,127.3 303.5,126.9 303.8,126.4 304.1,125.9 304.4,125.3 304.7,124.6 304.9,123.7 305.2,122.6 305.6,121.2 306,119.6 306.4,117.9 306.8,116.1 307.3,114 307.7,111.7 308.2,109.1 308.6,106.1 309,102.7 309.3,98.8 309.6,94.5 309.9,89.9 310.2,84.9 310.5,79.7 310.8,74.4 311.1,68.9 311.4,63.4 311.7,57.6 312,51.3 312.4,44.8 312.7,38.1 313,31.6 313.3,25.5 313.6,20 313.8,15.3 314,11.4 314.2,8 314.3,5.1 314.4,2.7 314.5,0.6 314.6,-1.2 314.7,-2.7 314.8,-3.9" fill="none" stroke="#8a30d0" stroke-width="1.2" stroke-linejoin="round" />
</g>
<rect x="253.3" y="15.5" width="156" height="115.3" fill="none" stroke="#555" stroke-width="1" />
<line x1="259.7" y1="24.8" x2="273.2" y2="24.8" stroke="#1e8a1e" stroke-width="1.6"/>
<text x="274.3" y="27.9" font-size="9.3" fill="#1a1a1a" stroke="#1a1a1a" stroke-width="0.28" text-anchor="start" >ITO/PET</text>
<line x1="259.7" y1="36.5" x2="273.2" y2="36.5" stroke="#f0a040" stroke-width="1.6"/>
<text x="274.3" y="39.6" font-size="9.3" fill="#1a1a1a" stroke="#1a1a1a" stroke-width="0.28" text-anchor="start" >Mo</text>
<line x1="259.7" y1="48" x2="273.2" y2="48" stroke="#8a3aa0" stroke-width="1.2"/>
<text x="274.3" y="51.1" font-size="9.3" fill="#1a1a1a" stroke="#1a1a1a" stroke-width="0.28" text-anchor="start" >Pt</text>
<line x1="259.7" y1="59.6" x2="273.2" y2="59.6" stroke="#d03a9a" stroke-width="1.6"/>
<text x="274.3" y="62.7" font-size="9.3" fill="#1a1a1a" stroke="#1a1a1a" stroke-width="0.28" text-anchor="start" >Ti</text>
<line x1="259.7" y1="71.2" x2="273.2" y2="71.2" stroke="#8a30d0" stroke-width="1.2"/>
<text x="274.3" y="74.3" font-size="9.3" fill="#1a1a1a" stroke="#1a1a1a" stroke-width="0.28" text-anchor="start" >Ni</text>
<line x1="259.7" y1="82.7" x2="273.2" y2="82.7" stroke="#8a8a8a" stroke-width="1.2"/>
<text x="274.3" y="85.8" font-size="9.3" fill="#1a1a1a" stroke="#1a1a1a" stroke-width="0.28" text-anchor="start" >Carbon</text>
<rect x="460.8" y="15.3" width="153.6" height="115.2" fill="url(#cbg)" stroke="none" stroke-width="1" />
<polygon points="614.4,15.6 614.4,130.5 585,130.5 583.4,129.1 577.8,122.8 570.8,117.2 562.3,111.6 553.9,106.6 546.9,100.3 541.2,91.9 537.7,83.4 536.3,75 537.6,69.3 540.3,63.9 540.3,54.8 543.9,51.2 550.2,48.5 559.3,46.1 568.3,44.9 571,42.1 574.7,36.7 581,31.3 590,25 599.1,19.5 606.3,16.8" fill="url(#glv)"/>
<g clip-path="url(#clipglove)">
<g filter="url(#blur2)" opacity="0.6">
<polygon points="548,62 560,64 575,66 590,70 600,78 596,84 585,78 570,74 556,72 546,68" fill="#0a36a0"/>
<polygon points="592,95 605,92 614,96 614,130 596,130 590,115" fill="#0a36a0"/>
<polygon points="596,30 606,26 614,30 614,58 604,52 598,42" fill="#0c3aa8"/>
</g>
<g filter="url(#blur1)" opacity="0.8">
<polyline points="567,46.5 575,46 583,47 591,46" fill="none" stroke="#0a38a8" stroke-width="1.6" stroke-linejoin="round" />
<polyline points="582.5,27.5 585,36 587.5,44" fill="none" stroke="#0a38a8" stroke-width="1.6" stroke-linejoin="round" />
<polyline points="593.5,25 597,34 600,43" fill="none" stroke="#0a38a8" stroke-width="1.6" stroke-linejoin="round" />
<polyline points="572,52 576,58 580,63" fill="none" stroke="#0a38a8" stroke-width="1.6" stroke-linejoin="round" />
<polyline points="548,58 553,56 559,57" fill="none" stroke="#0a38a8" stroke-width="1.6" stroke-linejoin="round" />
<polyline points="545,82 550,88 556,92" fill="none" stroke="#0a38a8" stroke-width="1.6" stroke-linejoin="round" />
<polyline points="560,100 568,104 576,110" fill="none" stroke="#0a38a8" stroke-width="1.6" stroke-linejoin="round" />
<polyline points="585,98 592,104 600,112" fill="none" stroke="#0a38a8" stroke-width="1.6" stroke-linejoin="round" />
<polyline points="578,118 585,124 590,130" fill="none" stroke="#0a38a8" stroke-width="1.6" stroke-linejoin="round" />
</g>
<g filter="url(#blur1)" opacity="0.7">
<polyline points="546,51 553,49 562,48" fill="none" stroke="#58a0ff" stroke-width="1.8" stroke-linejoin="round" />
<polyline points="578,30 586,24 596,20" fill="none" stroke="#58a0ff" stroke-width="1.8" stroke-linejoin="round" />
<polyline points="540,75 541,85 545,93" fill="none" stroke="#58a0ff" stroke-width="1.8" stroke-linejoin="round" />
<polyline points="562,88 568,95 575,100" fill="none" stroke="#58a0ff" stroke-width="1.8" stroke-linejoin="round" />
<polyline points="598,88 604,96 610,104" fill="none" stroke="#58a0ff" stroke-width="1.8" stroke-linejoin="round" />
<polyline points="585,52 592,55 600,58" fill="none" stroke="#58a0ff" stroke-width="1.8" stroke-linejoin="round" />
<polyline points="560,110 570,116 578,122" fill="none" stroke="#58a0ff" stroke-width="1.8" stroke-linejoin="round" />
</g>
</g>
<polygon points="557,67 563,68.5 570,70.5 578,73 585,75.5 591.5,78 591,86 587.5,93.5 582,92.5 576,88.5 570,85 565,81.5 560,76 557,71" fill="#d4d8e2" filter="url(#blur1)"/>
<polygon points="516.8,51.2 520,49.4 526.7,49 532,50.2 535.8,52.1 539,55 541.2,58.4 542.3,62 542.1,64.8 539.5,67 535,67.8 526.7,66.8 520.4,63 517.5,60 516.2,56.6" fill="#202220"/>
<polygon points="518.8,52.2 522,50.6 528.5,50.6 533.5,52.2 537.5,55 540,59.3 536,60.6 530,60.4 524,58.8 520,56.2" fill="url(#sampg)" filter="url(#blur1)"/>
<rect x="52" y="177" width="153.6" height="117" fill="url(#dgrad)" stroke="none" stroke-width="1" />
<rect x="52" y="177" width="153.6" height="117" fill="#000" stroke="none" stroke-width="1" filter="url(#noiseD)" opacity="0.35"/>
<rect x="170" y="287.9" width="33.8" height="3.1" fill="#fff" stroke="none" stroke-width="1" />
<text x="189" y="286.3" font-size="8.4" fill="#fff" stroke="#fff" stroke-width="0.28" text-anchor="middle" >2.5μm</text>
<rect x="255" y="176.8" width="154.5" height="117" fill="#a4acbc" stroke="none" stroke-width="1" />
<rect x="255" y="176.8" width="154.5" height="117" fill="#000" stroke="none" stroke-width="1" filter="url(#noiseE)"/>
<line x1="255.4" y1="176.8" x2="255.4" y2="293.8" stroke="#6a7488" stroke-width="0.8"/>
<rect x="374" y="287.9" width="32.3" height="3" fill="#000" stroke="none" stroke-width="1" />
<text x="390.6" y="285.3" font-size="8.4" fill="#000" stroke="#000" stroke-width="0.28" text-anchor="middle" >2.5μm</text>
<line x1="459.1" y1="293.8" x2="462.1" y2="293.8" stroke="#2e9a2e" stroke-width="0.8"/>
<line x1="615.1" y1="293.8" x2="612.1" y2="293.8" stroke="#96329a" stroke-width="0.8"/>
<line x1="459.1" y1="282.2" x2="460.9" y2="282.2" stroke="#2e9a2e" stroke-width="0.8"/>
<line x1="615.1" y1="282.2" x2="613.3" y2="282.2" stroke="#96329a" stroke-width="0.8"/>
<line x1="459.1" y1="270.5" x2="462.1" y2="270.5" stroke="#2e9a2e" stroke-width="0.8"/>
<line x1="615.1" y1="270.5" x2="612.1" y2="270.5" stroke="#96329a" stroke-width="0.8"/>
<line x1="459.1" y1="258.9" x2="460.9" y2="258.9" stroke="#2e9a2e" stroke-width="0.8"/>
<line x1="615.1" y1="258.9" x2="613.3" y2="258.9" stroke="#96329a" stroke-width="0.8"/>
<line x1="459.1" y1="247.2" x2="462.1" y2="247.2" stroke="#2e9a2e" stroke-width="0.8"/>
<line x1="615.1" y1="247.2" x2="612.1" y2="247.2" stroke="#96329a" stroke-width="0.8"/>
<line x1="459.1" y1="235.6" x2="460.9" y2="235.6" stroke="#2e9a2e" stroke-width="0.8"/>
<line x1="615.1" y1="235.6" x2="613.3" y2="235.6" stroke="#96329a" stroke-width="0.8"/>
<line x1="459.1" y1="223.9" x2="462.1" y2="223.9" stroke="#2e9a2e" stroke-width="0.8"/>
<line x1="615.1" y1="223.9" x2="612.1" y2="223.9" stroke="#96329a" stroke-width="0.8"/>
<line x1="459.1" y1="212.2" x2="460.9" y2="212.2" stroke="#2e9a2e" stroke-width="0.8"/>
<line x1="615.1" y1="212.2" x2="613.3" y2="212.2" stroke="#96329a" stroke-width="0.8"/>
<line x1="459.1" y1="200.6" x2="462.1" y2="200.6" stroke="#2e9a2e" stroke-width="0.8"/>
<line x1="615.1" y1="200.6" x2="612.1" y2="200.6" stroke="#96329a" stroke-width="0.8"/>
<line x1="459.1" y1="188.9" x2="460.9" y2="188.9" stroke="#2e9a2e" stroke-width="0.8"/>
<line x1="615.1" y1="188.9" x2="613.3" y2="188.9" stroke="#96329a" stroke-width="0.8"/>
<line x1="459.1" y1="177.3" x2="462.1" y2="177.3" stroke="#2e9a2e" stroke-width="0.8"/>
<line x1="615.1" y1="177.3" x2="612.1" y2="177.3" stroke="#96329a" stroke-width="0.8"/>
<line x1="459.1" y1="293.8" x2="459.1" y2="292" stroke="#555" stroke-width="0.8"/>
<line x1="474.8" y1="293.8" x2="474.8" y2="290.8" stroke="#555" stroke-width="0.8"/>
<line x1="490.5" y1="293.8" x2="490.5" y2="292" stroke="#555" stroke-width="0.8"/>
<line x1="506.2" y1="293.8" x2="506.2" y2="290.8" stroke="#555" stroke-width="0.8"/>
<line x1="521.8" y1="293.8" x2="521.8" y2="292" stroke="#555" stroke-width="0.8"/>
<line x1="537.5" y1="293.8" x2="537.5" y2="290.8" stroke="#555" stroke-width="0.8"/>
<line x1="553.2" y1="293.8" x2="553.2" y2="292" stroke="#555" stroke-width="0.8"/>
<line x1="568.9" y1="293.8" x2="568.9" y2="290.8" stroke="#555" stroke-width="0.8"/>
<line x1="584.5" y1="293.8" x2="584.5" y2="292" stroke="#555" stroke-width="0.8"/>
<line x1="600.2" y1="293.8" x2="600.2" y2="290.8" stroke="#555" stroke-width="0.8"/>
<line x1="615.9" y1="293.8" x2="615.9" y2="292" stroke="#555" stroke-width="0.8"/>
<line x1="459.1" y1="177.3" x2="615.1" y2="177.3" stroke="#555" stroke-width="1"/>
<line x1="459.1" y1="293.8" x2="615.1" y2="293.8" stroke="#555" stroke-width="1"/>
<line x1="459.1" y1="177.3" x2="459.1" y2="293.8" stroke="#2e9a2e" stroke-width="1"/>
<line x1="615.1" y1="177.3" x2="615.1" y2="293.8" stroke="#96329a" stroke-width="1"/>
<text x="456.6" y="297.2" font-size="9.5" fill="#2e9a2e" stroke="#2e9a2e" stroke-width="0.28" text-anchor="end" >0</text>
<text x="618" y="297.2" font-size="9.5" fill="#1a1a1a" stroke="#1a1a1a" stroke-width="0.28" text-anchor="start" >0</text>
<text x="456.6" y="273.9" font-size="9.5" fill="#2e9a2e" stroke="#2e9a2e" stroke-width="0.28" text-anchor="end" >20</text>
<text x="618" y="273.9" font-size="9.5" fill="#1a1a1a" stroke="#1a1a1a" stroke-width="0.28" text-anchor="start" >2</text>
<text x="456.6" y="250.6" font-size="9.5" fill="#2e9a2e" stroke="#2e9a2e" stroke-width="0.28" text-anchor="end" >40</text>
<text x="618" y="250.6" font-size="9.5" fill="#1a1a1a" stroke="#1a1a1a" stroke-width="0.28" text-anchor="start" >4</text>
<text x="456.6" y="227.3" font-size="9.5" fill="#2e9a2e" stroke="#2e9a2e" stroke-width="0.28" text-anchor="end" >60</text>
<text x="618" y="227.3" font-size="9.5" fill="#1a1a1a" stroke="#1a1a1a" stroke-width="0.28" text-anchor="start" >6</text>
<text x="456.6" y="204" font-size="9.5" fill="#2e9a2e" stroke="#2e9a2e" stroke-width="0.28" text-anchor="end" >80</text>
<text x="618" y="204" font-size="9.5" fill="#1a1a1a" stroke="#1a1a1a" stroke-width="0.28" text-anchor="start" >8</text>
<text x="456.6" y="180.7" font-size="9.5" fill="#2e9a2e" stroke="#2e9a2e" stroke-width="0.28" text-anchor="end" >100</text>
<text x="618" y="180.7" font-size="9.5" fill="#1a1a1a" stroke="#1a1a1a" stroke-width="0.28" text-anchor="start" >10</text>
<text x="474.8" y="304.2" font-size="9.5" fill="#1a1a1a" stroke="#1a1a1a" stroke-width="0.28" text-anchor="middle" >100</text>
<text x="506.2" y="304.2" font-size="9.5" fill="#1a1a1a" stroke="#1a1a1a" stroke-width="0.28" text-anchor="middle" >200</text>
<text x="537.5" y="304.2" font-size="9.5" fill="#1a1a1a" stroke="#1a1a1a" stroke-width="0.28" text-anchor="middle" >300</text>
<text x="568.9" y="304.2" font-size="9.5" fill="#1a1a1a" stroke="#1a1a1a" stroke-width="0.28" text-anchor="middle" >400</text>
<text x="600.2" y="304.2" font-size="9.5" fill="#1a1a1a" stroke="#1a1a1a" stroke-width="0.28" text-anchor="middle" >500</text>
<text x="535.6" y="313.6" font-size="9.55" fill="#1a1a1a" stroke="#1a1a1a" stroke-width="0.28" text-anchor="middle" >Thickness (nm)</text>
<text transform="translate(434,238.9) rotate(-90)" font-size="9.8" fill="#1a1a1a" stroke="#1a1a1a" stroke-width="0.28" text-anchor="middle" dominant-baseline="central">Square resistance (Ω • <tspan fill="#8a8a8a" stroke="#8a8a8a">□</tspan><tspan font-size="6.3" dy="-3.7">−1</tspan><tspan dy="3.7">)</tspan></text>
<text transform="translate(632.7,237.7) rotate(-90)" font-size="9.77" fill="#1a1a1a" stroke="#1a1a1a" stroke-width="0.28" text-anchor="middle" dominant-baseline="central">Resistivity (Ω • cm<tspan font-size="6.3" dy="-3.7">−1</tspan><tspan dy="3.7">)</tspan></text>
<polyline points="474.8,231.1 506.2,250.6 537.5,260.7 568.9,267.8 600.2,274.3" fill="none" stroke="#3aa03a" stroke-width="1" stroke-linejoin="round" />
<polyline points="474.8,208.9 506.2,234.5 537.5,248.6 568.9,255.9 600.2,266.4" fill="none" stroke="#9a3a9e" stroke-width="1" stroke-linejoin="round" />
<line x1="537.5" y1="245.1" x2="537.5" y2="252.1" stroke="#b070b0" stroke-width="0.8"/>
<line x1="536" y1="245.1" x2="539" y2="245.1" stroke="#b070b0" stroke-width="0.6"/>
<line x1="536" y1="252.1" x2="539" y2="252.1" stroke="#b070b0" stroke-width="0.6"/>
<line x1="568.9" y1="253.1" x2="568.9" y2="258.7" stroke="#b070b0" stroke-width="0.8"/>
<line x1="567.4" y1="253.1" x2="570.4" y2="253.1" stroke="#b070b0" stroke-width="0.6"/>
<line x1="567.4" y1="258.7" x2="570.4" y2="258.7" stroke="#b070b0" stroke-width="0.6"/>
<line x1="506.2" y1="233.3" x2="506.2" y2="235.7" stroke="#b070b0" stroke-width="0.8"/>
<line x1="504.7" y1="233.3" x2="507.7" y2="233.3" stroke="#b070b0" stroke-width="0.6"/>
<line x1="504.7" y1="235.7" x2="507.7" y2="235.7" stroke="#b070b0" stroke-width="0.6"/>
<line x1="474.8" y1="207.9" x2="474.8" y2="209.8" stroke="#b070b0" stroke-width="0.8"/>
<line x1="473.3" y1="207.9" x2="476.3" y2="207.9" stroke="#b070b0" stroke-width="0.6"/>
<line x1="473.3" y1="209.8" x2="476.3" y2="209.8" stroke="#b070b0" stroke-width="0.6"/>
<line x1="600.2" y1="265.5" x2="600.2" y2="267.4" stroke="#b070b0" stroke-width="0.8"/>
<line x1="598.7" y1="265.5" x2="601.7" y2="265.5" stroke="#b070b0" stroke-width="0.6"/>
<line x1="598.7" y1="267.4" x2="601.7" y2="267.4" stroke="#b070b0" stroke-width="0.6"/>
<rect x="472.8" y="229.1" width="4" height="4" fill="#1f8a1f" stroke="none" stroke-width="1" />
<rect x="504.2" y="248.6" width="4" height="4" fill="#1f8a1f" stroke="none" stroke-width="1" />
<rect x="535.5" y="258.7" width="4" height="4" fill="#1f8a1f" stroke="none" stroke-width="1" />
<rect x="566.9" y="265.8" width="4" height="4" fill="#1f8a1f" stroke="none" stroke-width="1" />
<rect x="598.2" y="272.3" width="4" height="4" fill="#1f8a1f" stroke="none" stroke-width="1" />
<rect x="472.8" y="206.9" width="4" height="4" fill="#80208a" stroke="none" stroke-width="1" />
<rect x="504.2" y="232.5" width="4" height="4" fill="#80208a" stroke="none" stroke-width="1" />
<rect x="535.5" y="246.6" width="4" height="4" fill="#80208a" stroke="none" stroke-width="1" />
<rect x="566.9" y="253.9" width="4" height="4" fill="#80208a" stroke="none" stroke-width="1" />
<rect x="598.2" y="264.4" width="4" height="4" fill="#80208a" stroke="none" stroke-width="1" />
<line x1="51.2" y1="457.5" x2="51.2" y2="455.7" stroke="#555" stroke-width="0.8"/>
<line x1="73.7" y1="457.5" x2="73.7" y2="454.5" stroke="#555" stroke-width="0.8"/>
<line x1="96.2" y1="457.5" x2="96.2" y2="455.7" stroke="#555" stroke-width="0.8"/>
<line x1="118.7" y1="457.5" x2="118.7" y2="454.5" stroke="#555" stroke-width="0.8"/>
<line x1="141.2" y1="457.5" x2="141.2" y2="455.7" stroke="#555" stroke-width="0.8"/>
<line x1="163.7" y1="457.5" x2="163.7" y2="454.5" stroke="#555" stroke-width="0.8"/>
<line x1="186.2" y1="457.5" x2="186.2" y2="455.7" stroke="#555" stroke-width="0.8"/>
<line x1="208.7" y1="457.5" x2="208.7" y2="454.5" stroke="#555" stroke-width="0.8"/>
<text x="73.7" y="467.5" font-size="9.2" fill="#1a1a1a" stroke="#1a1a1a" stroke-width="0.28" text-anchor="middle" >30</text>
<text x="118.7" y="467.5" font-size="9.2" fill="#1a1a1a" stroke="#1a1a1a" stroke-width="0.28" text-anchor="middle" >40</text>
<text x="163.7" y="467.5" font-size="9.2" fill="#1a1a1a" stroke="#1a1a1a" stroke-width="0.28" text-anchor="middle" >50</text>
<text x="208.7" y="467.5" font-size="9.2" fill="#1a1a1a" stroke="#1a1a1a" stroke-width="0.28" text-anchor="middle" >60</text>
<text x="130.5" y="477.8" font-size="9.2" fill="#1a1a1a" stroke="#1a1a1a" stroke-width="0.28" text-anchor="middle" >2Theta (degree)</text>
<text transform="translate(43,399.8) rotate(-90)" font-size="9.26" fill="#1a1a1a" stroke="#1a1a1a" stroke-width="0.28" text-anchor="middle" dominant-baseline="central">Intensity (a.u.)</text>
<g clip-path="url(#clipg)">
<polyline points="51.2,444.7 51.6,445 52,444.9 52.4,445 52.8,445.1 53.2,444.7 53.6,444.7 54,445.3 54.4,444.9 54.8,444.9 55.2,445.4 55.7,445.1 56.1,445.4 56.5,445.1 56.9,445.2 57.3,444.9 57.7,445.3 58.1,445.4 58.5,445.2 58.9,445.4 59.3,445.3 59.7,444.9 60.1,445.4 60.5,445.3 60.9,445.1 61.3,445 61.7,445.6 62.1,445.3 62.5,445.5 62.9,445.6 63.3,445.5 63.8,445.7 64.2,445.3 64.6,445.6 65,445.4 65.4,445.7 65.8,445.7 66.2,445.2 66.6,445.2 67,445.3 67.4,445.8 67.8,445.4 68.2,445.6 68.6,445.4 69,445.5 69.4,445.4 69.8,445.4 70.2,445.6 70.6,445.6 71,445.9 71.4,445.7 71.9,445.9 72.3,445.8 72.7,446 73.1,445.7 73.5,445.4 73.9,445.7 74.3,444.5 74.6,442.8 74.7,442 74.8,441.8 75.1,442.4 75.1,442.8 75.5,444.9 75.9,445.5 76.3,445.4 76.7,446 77.1,446.1 77.5,445.4 77.9,446 78.3,445.7 78.7,445.5 79.1,445.6 79.5,446 80,446.1 80.4,445.5 80.8,445.9 81.2,445.5 81.6,446 82,445.7 82.4,446.1 82.8,446.2 83.2,445.9 83.6,446.2 84,445.8 84.4,445.6 84.8,446 85.2,445.6 85.6,445.7 86,445.9 86.4,446 86.8,442.6 87,436.7 87.2,434.7 87.2,434.6 87.4,437.3 87.7,445.8 88.1,446.9 88.5,446.9 88.9,446.9 89.3,447 89.7,446.9 90.1,446.9 90.5,446.9 90.9,447.1 91.3,446.8 91.7,446.7 92.1,446.9 92.5,446.6 92.9,446.6 93.3,447.1 93.7,446.7 94.1,446.7 94.5,446.3 94.9,446.6 95.3,446.7 95.8,446.3 96.2,446.7 96.6,446.7 97,446.3 97.4,446.7 97.8,446.6 98.2,446.7 98.6,446.5 99,446.8 99.4,446.8 99.8,446.3 100.2,446.3 100.6,446.7 101,446.9 101.4,446.4 101.8,446.6 102.2,446.7 102.6,446.5 103,446.5 103.4,446.5 103.9,446.5 104.3,446.7 104.7,446.5 105.1,446.5 105.5,446.8 105.9,446.3 106.3,446.6 106.7,446.8 107.1,446.5 107.5,446.4 107.9,446.8 108.3,446.4 108.7,446.4 109.1,446.6 109.5,446.8 109.9,446.3 110.3,446.5 110.7,446.5 111.1,446.9 111.5,446.6 112,446.9 112.4,446.4 112.8,446.5 113.2,446.8 113.6,446.9 114,446.6 114.4,446.5 114.8,446.4 115.2,446.7 115.6,446.5 116,446.9 116.4,446.9 116.8,446.5 117.2,446.6 117.6,446.9 118,446.8 118.4,447 118.8,446.6 119.2,446.5 119.6,446.6 120.1,447 120.5,446.6 120.9,446.7 121.3,446.7 121.7,446.7 122.1,446.7 122.5,447.1 122.9,446.6 123.3,446.5 123.7,447.1 124.1,447.1 124.5,447.2 124.9,446.8 125.3,447.2 125.7,447.2 126.1,446.7 126.5,447 126.9,447.1 127.3,447 127.7,446.9 128.2,446.8 128.6,446.8 129,446.7 129.4,446.6 129.8,447 130.2,446.8 130.6,447.2 131,446.6 131.4,447.2 131.8,447.1 132.2,447.3 132.6,447.3 133,447.3 133.4,447.1 133.8,446.7 134.2,447.2 134.6,446.8 135,446.9 135.4,447.1 135.8,447.1 136.3,447 136.7,447.4 137.1,447.1 137.5,447 137.9,446.9 138.3,447.3 138.7,447.1 139.1,447.3 139.5,447 139.9,446.9 140.3,447.2 140.7,447.4 141.1,446.9 141.5,447.4 141.9,447.5 142.3,447.4 142.7,447.4 143.1,446.8 143.5,447.3 143.9,447.5 144.4,446.9 144.8,447.1 145.2,447.1 145.6,447.2 146,447.2 146.4,447.2 146.8,447.4 147.2,446.9 147.6,447 148,447 148.4,447 148.8,447 149.2,447.6 149.6,447.6 150,447 150.4,447.3 150.8,447.2 151.2,447.2 151.6,447.2 152,447.5 152.5,447.4 152.9,447.1 153.3,445.3 153.4,444.6 153.6,443.7 153.7,444.2 153.8,444.9 154.1,446.5 154.5,447.1 154.9,447.2 155.3,447.3 155.7,447.5 156.1,447.6 156.5,447.4 156.9,447.7 157.3,447.5 157.7,447.4 158.1,447.4 158.5,447.5 158.9,447.6 159.3,447.4 159.7,447.6 160.1,447.5 160.6,447.3 161,447.5 161.4,447.7 161.8,447.2 162.2,447.5 162.6,447.5 163,447.8 163.4,447.9 163.8,447.5 164.2,447.9 164.6,447.8 165,447.4 165.4,447.6 165.8,447.4 166.2,447.8 166.6,447.7 167,447.9 167.4,447.9 167.8,447.8 168.2,447.8 168.7,447.7 169.1,447.4 169.5,447.7 169.9,447.3 170.3,447.4 170.7,447.9 171.1,447.4 171.5,447.4 171.9,447.4 172.3,448 172.7,447.5 173.1,447.4 173.5,448 173.9,447.5 174.3,448 174.7,447.9 175.1,448 175.5,448.1 175.9,447.9 176.3,448 176.8,447.5 177.2,448 177.6,447.8 178,448 178.4,447.6 178.8,448 179.2,448.2 179.6,447.6 180,447.8 180.4,447.9 180.8,448.1 181.2,447.7 181.6,447.7 182,447.7 182.4,448 182.8,448.1 183.2,447.9 183.6,447.7 184,444.9 184.2,442.8 184.4,441.4 184.4,441.2 184.6,442.9 184.9,446.4 185.3,447.8 185.7,448.2 186.1,447.8 186.5,448.1 186.9,448.2 187.3,448.1 187.7,448 188.1,447.5 188.3,447 188.4,446.8 188.5,446.3 188.6,446.6 188.9,447.9 189.3,448.3 189.7,448.1 190.1,448 190.5,448.2 190.9,447.9 191.3,447.9 191.7,445.8 192.1,432.6 192.1,430.6 192.3,427.9 192.5,432.7 192.5,437 193,447.4 193.4,448.3 193.8,448.1 194.2,448.4 194.6,448.2 195,448 195.4,448 195.8,447.8 196.2,447.6 196.4,446.9 196.6,446.5 196.6,446.6 196.7,446.9 197,448.1 197.4,447.9 197.8,448.5 198.2,448.2 198.6,448.3 199,448.2 199.4,448.5 199.8,448.5 200.2,448.3 200.6,448.2 201.1,448.4 201.5,448.5 201.9,448.2 202.3,448.4 202.7,448.6 203.1,448.3 203.5,448.1 203.9,448.1 204.3,448.5 204.7,448.5 205.1,448.7 205.5,448.6 205.9,448.2 206.3,448.1 206.7,448.2 207.1,448.2 207.5,448.5 207.9,448.6 208.3,448.7" fill="none" stroke="#ef9a2a" stroke-width="1.1" stroke-linejoin="round" />
<polyline points="51.2,415.1 51.6,415.2 52,415.3 52.4,415.4 52.8,415.3 53.2,415.5 53.6,414.9 54,415.2 54.4,415.6 54.8,415.4 55.2,415.6 55.7,415.1 56.1,415.4 56.5,415.3 56.9,415.5 57.3,415.5 57.7,415.2 58.1,415.3 58.5,415.4 58.9,415.9 59.3,415.8 59.7,415.4 60.1,415.9 60.5,415.4 60.9,415.8 61.3,415.5 61.7,415.4 62.1,416 62.5,415.6 62.9,415.6 63.3,416.2 63.8,416.1 64.2,415.7 64.6,416.2 65,416 65.4,416.1 65.8,415.8 66.2,416.3 66.6,416.2 67,416.4 67.4,416.3 67.8,416 68.2,416 68.6,415.9 69,415.9 69.4,415.9 69.8,416.1 70.2,416.3 70.6,415.9 71,416.4 71.4,416.2 71.9,416.2 72.3,416.5 72.7,416.3 73.1,416.2 73.5,416.4 73.9,416.4 74.3,414.8 74.6,414 74.7,412.8 74.8,413.1 75.1,414 75.1,413.4 75.5,415.9 75.9,416.3 76.3,416.6 76.7,416.2 77.1,416.2 77.5,416.4 77.9,416.9 78.3,416.4 78.7,416.8 79.1,417 79.5,417 80,416.6 80.4,416.6 80.8,416.7 81.2,416.9 81.6,416.5 82,417 82.4,417 82.8,417.1 83.2,416.5 83.6,417.2 84,416.6 84.4,416.7 84.8,416.8 85.2,416.9 85.6,416.3 86,416.4 86.2,416.1 86.4,415.8 86.8,404.4 87,382.1 87.1,363.3 87.2,348.6 87.2,350.8 87.3,364.1 87.7,413.4 87.8,416.7 88.1,418.4 88.5,418.3 88.9,418.4 89.3,418.4 89.7,418.6 90.1,418.8 90.5,418.5 90.9,418.5 91.3,418.2 91.7,418.8 92.1,418.1 92.5,418.4 92.9,418.6 93.3,418.1 93.7,418.5 94.1,418.7 94.5,418.4 94.9,418.5 95.3,418 95.8,418.2 96.2,418 96.6,418.5 97,418.1 97.4,418.2 97.8,418.6 98.2,418.5 98.6,418.5 99,418.2 99.4,418.2 99.8,418.3 100.2,418.2 100.6,418 101,418.1 101.4,417.9 101.8,418.1 102.2,418.5 102.6,418.5 103,418.3 103.4,418.2 103.9,418.1 104.3,417.9 104.7,418 105.1,418.4 105.5,418.4 105.9,418.1 106.3,418.4 106.7,418.4 107.1,418.3 107.5,418.3 107.9,418.4 108.3,418.1 108.7,418.4 109.1,418.1 109.5,418.2 109.9,418.4 110.3,418.4 110.7,418.1 111.1,418.6 111.5,418.4 112,418.3 112.4,418 112.8,418.3 113.2,418.1 113.6,418.4 114,418.3 114.4,418.6 114.8,418.5 115.2,418.6 115.6,418.3 116,418.5 116.4,418.6 116.8,418.6 117.2,418.3 117.6,418.7 118,418.7 118.4,418.6 118.8,418.8 119.2,418.8 119.6,418.5 120.1,418.5 120.5,418.3 120.9,418.8 121.3,418.8 121.7,418.5 122.1,418.7 122.5,418.7 122.9,418.8 123.3,418.4 123.7,418.8 124.1,418.7 124.5,418.8 124.9,418.6 125.3,418.8 125.7,418.9 126.1,418.8 126.5,418.9 126.9,418.4 127.3,418.5 127.7,418.7 128.2,418.9 128.6,418.6 129,418.9 129.4,418.9 129.8,418.5 130.2,418.8 130.6,418.7 131,418.6 131.4,418.6 131.8,418.8 132.2,418.7 132.6,418.7 133,418.6 133.4,418.9 133.8,418.9 134.2,419.1 134.6,419.1 135,418.8 135.4,419.3 135.8,418.7 136.3,419 136.7,418.9 137.1,419 137.5,418.8 137.9,419.3 138.3,419 138.7,418.8 139.1,419.2 139.5,418.9 139.9,419.2 140.3,419.1 140.7,419.3 141.1,419.6 141.5,419.5 141.9,419.2 142.3,419.5 142.7,419.4 143.1,419.2 143.5,419.1 143.9,419.4 144.4,419.4 144.8,419.7 145.2,419.7 145.6,419.5 146,419.3 146.4,419.7 146.8,419.1 147.2,419.2 147.6,419.5 148,419.6 148.4,419.2 148.8,419.6 149.2,419.8 149.6,419.5 150,419.5 150.4,419.4 150.8,419.4 151.2,419.9 151.6,419.5 152,419.9 152.5,419.9 152.9,419.5 153.3,417 153.4,416.5 153.6,415.2 153.7,415.3 153.8,416.1 154.1,419 154.5,419.7 154.9,419.6 155.3,419.7 155.7,419.5 156.1,419.9 156.5,419.7 156.9,419.7 157.3,420 157.7,420.1 158.1,419.5 158.5,419.9 158.9,419.7 159.3,420.2 159.7,420.1 160.1,419.7 160.6,419.8 161,419.7 161.4,420.3 161.8,419.8 162.2,420.1 162.6,420 163,420.1 163.4,420.1 163.8,420.2 164.2,419.8 164.6,420.3 165,420 165.4,420.1 165.8,420 166.2,420 166.6,420.2 167,420.1 167.4,420.1 167.8,420.4 168.2,420.3 168.7,419.9 169.1,420.1 169.5,420.2 169.9,420.6 170.3,420.5 170.7,420.3 171.1,420 171.5,420.5 171.9,420.3 172.3,420.4 172.7,420.5 173.1,420.5 173.5,420.4 173.9,420.7 174.3,420.3 174.7,420.4 175.1,420.7 175.5,420.3 175.9,420.3 176.3,420.7 176.8,420.2 177.2,420.8 177.6,420.7 178,420.5 178.4,420.4 178.8,420.8 179.2,420.9 179.6,420.4 180,420.6 180.4,420.7 180.8,420.6 181.2,420.5 181.6,420.4 182,420.7 182.4,420.9 182.8,420.4 183.2,420.5 183.6,420.8 184,418 184.2,415.7 184.4,413.8 184.4,414.4 184.6,416 184.9,419.2 185.3,420.9 185.7,420.5 186.1,421.1 186.5,420.6 186.9,421 187.3,421.2 187.7,421 188.1,419.9 188.3,419.2 188.4,419.2 188.5,418.7 188.6,419.4 188.9,420.4 189.3,420.7 189.7,421 190.1,420.6 190.5,420.7 190.9,420.9 191.3,420.7 191.7,418.3 192.1,403.6 192.1,401.7 192.3,398.8 192.5,403.3 192.5,408.2 193,420.3 193.4,421.1 193.8,421.1 194.2,421.4 194.6,421 195,420.8 195.4,421.3 195.8,420.9 196.2,420.5 196.4,419.6 196.6,419.5 196.6,419.3 196.7,419.7 197,420.6 197.4,421.2 197.8,421.1 198.2,421.4 198.6,421.3 199,421 199.4,421.1 199.8,421.2 200.2,421.5 200.6,421.1 201.1,421.5 201.5,421.5 201.9,421.1 202.3,421.5 202.7,421.1 203.1,421.1 203.5,421.5 203.9,421.3 204.3,421.7 204.7,421.5 205.1,421.4 205.5,421.7 205.9,421.2 206.3,421.7 206.7,421.2 207.1,421.3 207.5,421.9 207.9,421.7 208.3,421.4" fill="none" stroke="#1f8a1f" stroke-width="1.1" stroke-linejoin="round" />
<polyline points="51.2,392.3 51.6,392.2 52,392.1 52.4,392.6 52.8,392.1 53.2,392.4 53.6,392.7 54,392.2 54.4,392.5 54.8,392.6 55.2,392.2 55.7,392.5 56.1,392.7 56.5,392.6 56.9,392.8 57.3,392.4 57.7,392.5 58.1,392.4 58.5,392.7 58.9,393 59.3,392.8 59.7,392.9 60.1,392.7 60.5,392.9 60.9,392.5 61.3,392.7 61.7,392.9 62.1,393 62.5,392.8 62.9,392.6 63.3,392.7 63.8,392.7 64.2,392.8 64.6,393.1 65,392.7 65.4,393.2 65.8,393.2 66.2,392.7 66.6,392.9 67,393 67.4,392.7 67.8,393 68.2,393.3 68.6,392.8 69,393.2 69.4,392.8 69.8,393.2 70.2,393.4 70.6,392.9 71,392.8 71.4,392.9 71.9,393.2 72.3,392.9 72.7,392.9 73.1,393.2 73.5,393.5 73.9,393 74.3,391.9 74.6,390.6 74.7,389.7 74.8,389.8 75.1,390.3 75.1,390.6 75.5,392.9 75.9,392.9 76.3,393.4 76.7,393.4 77.1,393.1 77.5,393.2 77.9,393.7 78.3,393.8 78.7,393.2 79.1,393.6 79.5,393.8 80,393.3 80.4,393.5 80.8,393.2 81.2,393.4 81.6,393.6 82,393.6 82.4,393.7 82.8,393.3 83.2,393.5 83.6,393.8 84,393.6 84.4,393.6 84.8,393.5 85.2,394 85.6,393.7 86,393.3 86.4,393.8 86.8,387.7 87,376.9 87.2,372 87.2,372.6 87.4,376.8 87.7,391.6 88.1,394.7 88.5,394.4 88.9,394.8 89.3,394.3 89.7,394.8 90.1,394.8 90.5,394.6 90.9,394.7 91.3,394.4 91.7,394.7 92.1,394.5 92.5,394.3 92.9,394.8 93.3,394.4 93.7,394.4 94.1,394.7 94.5,394.4 94.9,394.6 95.3,394.2 95.8,394.7 96.2,394.3 96.6,394.1 97,394.7 97.4,394.2 97.8,394.7 98.2,394.7 98.6,394.5 99,394.1 99.4,394.1 99.8,394.2 100.2,394.3 100.6,394.5 101,394.7 101.4,394.3 101.8,394.1 102.2,394.4 102.6,394.1 103,394.1 103.4,394.4 103.9,394.5 104.3,394.1 104.7,394.4 105.1,394.6 105.5,394.6 105.9,394.3 106.3,394.7 106.7,394.2 107.1,394.6 107.5,394.6 107.9,394.7 108.3,394.5 108.7,394.2 109.1,394.2 109.5,394.5 109.9,394.3 110.3,394.6 110.7,394.2 111.1,394.7 111.5,394.3 112,394.2 112.4,394.3 112.8,394.5 113.2,394.6 113.6,394.5 114,394.3 114.4,394.5 114.8,394.9 115.2,394.6 115.6,394.9 116,394.3 116.4,394.9 116.8,394.9 117.2,394.6 117.6,394.6 118,394.7 118.4,394.9 118.8,394.3 119.2,394.8 119.6,394.7 120.1,394.5 120.5,394.8 120.9,394.8 121.3,394.4 121.7,394.9 122.1,394.7 122.5,394.7 122.9,394.8 123.3,394.4 123.7,394.8 124.1,394.7 124.5,395 124.9,394.6 125.3,395 125.7,395 126.1,394.9 126.5,395.1 126.9,394.5 127.3,394.9 127.7,394.9 128.2,395 128.6,394.8 129,394.6 129.4,394.7 129.8,395 130.2,394.7 130.6,394.6 131,394.8 131.4,394.9 131.8,395 132.2,394.6 132.6,395.2 133,394.9 133.4,395.2 133.8,394.7 134.2,395.3 134.6,395.1 135,395.4 135.4,395.4 135.8,395.3 136.3,394.8 136.7,395 137.1,394.9 137.5,395.3 137.9,394.9 138.3,394.9 138.7,394.8 139.1,394.9 139.5,395.4 139.9,395.5 140.3,395.1 140.7,395.3 141.1,395.2 141.5,395.2 141.9,395.1 142.3,395.3 142.7,395 143.1,395.1 143.5,395.3 143.9,395 144.4,395.2 144.8,395.6 145.2,394.9 145.6,395 146,395.5 146.4,395 146.8,395.1 147.2,395.6 147.6,395.4 148,395.2 148.4,395.1 148.8,395.2 149.2,395.2 149.6,395.6 150,395.7 150.4,395.6 150.8,395.7 151.2,395.7 151.6,395.7 152,395.7 152.5,395.8 152.9,395.1 153.3,393.6 153.4,392.8 153.6,392.4 153.7,392.4 153.8,392.9 154.1,395 154.5,395.4 154.9,395.3 155.3,395.4 155.7,395.5 156.1,395.6 156.5,395.6 156.9,395.5 157.3,395.4 157.7,395.5 158.1,395.5 158.5,395.4 158.9,395.7 159.3,395.4 159.7,395.8 160.1,395.8 160.6,395.4 161,395.8 161.4,395.6 161.8,395.7 162.2,395.8 162.6,395.9 163,396 163.4,395.9 163.8,395.5 164.2,395.8 164.6,395.6 165,395.4 165.4,395.8 165.8,395.8 166.2,396.1 166.6,395.7 167,396.1 167.4,395.8 167.8,395.6 168.2,396 168.7,395.7 169.1,395.9 169.5,395.6 169.9,395.5 170.3,396.2 170.7,395.6 171.1,395.7 171.5,395.7 171.9,395.7 172.3,396.2 172.7,396.3 173.1,396.1 173.5,395.9 173.9,396.3 174.3,396 174.7,395.7 175.1,396.1 175.5,395.9 175.9,395.9 176.3,395.9 176.8,396 177.2,395.8 177.6,396.2 178,396.3 178.4,396.1 178.8,395.8 179.2,396.2 179.6,395.8 180,396.1 180.4,396.4 180.8,396.3 181.2,396.4 181.6,396.3 182,396 182.4,395.9 182.8,396.2 183.2,396.3 183.6,395.9 184,393.8 184.2,392.5 184.4,391.1 184.4,391.4 184.6,392.4 184.9,395.1 185.3,395.9 185.7,396 186.1,396.5 186.5,396.4 186.9,396 187.3,396 187.7,396.1 188.1,395.9 188.3,395.7 188.4,394.9 188.5,394.9 188.6,395.5 188.9,396 189.3,396.6 189.7,396.7 190.1,396.7 190.5,396.5 190.9,396.4 191.3,396.1 191.7,395 192.1,384.3 192.1,382.9 192.3,381 192.5,384.7 192.5,387.6 193,396.3 193.4,396.8 193.8,396.2 194.2,396.4 194.6,396.7 195,396.7 195.4,396.8 195.8,396.3 196.2,396.1 196.4,395.9 196.6,395.3 196.6,395.5 196.7,395.9 197,396.1 197.4,396.2 197.8,396.8 198.2,396.6 198.6,396.4 199,396.8 199.4,396.4 199.8,396.3 200.2,396.5 200.6,396.3 201.1,396.6 201.5,396.8 201.9,396.6 202.3,397 202.7,396.3 203.1,396.4 203.5,396.4 203.9,396.7 204.3,396.5 204.7,396.8 205.1,396.7 205.5,396.8 205.9,397 206.3,396.9 206.7,397.1 207.1,396.5 207.5,396.7 207.9,397.1 208.3,396.7" fill="none" stroke="#8a1f8e" stroke-width="1.1" stroke-linejoin="round" />
</g>
<rect x="51.4" y="341.7" width="157.5" height="115.8" fill="none" stroke="#555" stroke-width="1" />
<text x="51.8" y="403.2" font-size="9.2" fill="#8a2a8e" stroke="#8a2a8e" stroke-width="0.28" text-anchor="start" >~500nm</text>
<text x="51.8" y="429.1" font-size="9.2" fill="#2a8a2a" stroke="#2a8a2a" stroke-width="0.28" text-anchor="start" >~400nm</text>
<text x="51.8" y="454.7" font-size="9.2" fill="#e89a3a" stroke="#e89a3a" stroke-width="0.28" text-anchor="start" >~200nm</text>
<text x="75.2" y="386.5" font-size="9.2" fill="#1a1a1a" stroke="#1a1a1a" stroke-width="0.28" text-anchor="middle" >(222)</text>
<text x="89.4" y="358.2" font-size="9.2" fill="#1a1a1a" stroke="#1a1a1a" stroke-width="0.28" text-anchor="start" >(400)</text>
<text x="155.6" y="390.4" font-size="9.2" fill="#1a1a1a" stroke="#1a1a1a" stroke-width="0.28" text-anchor="middle" >(431)</text>
<text x="180.6" y="390.2" font-size="9.2" fill="#1a1a1a" stroke="#1a1a1a" stroke-width="0.28" text-anchor="middle" >(440)</text>
<text x="193.2" y="378.8" font-size="9.2" fill="#1a1a1a" stroke="#1a1a1a" stroke-width="0.28" text-anchor="middle" >(622)</text>
<line x1="408.7" y1="457" x2="408.7" y2="454" stroke="#555" stroke-width="0.8"/>
<line x1="389.2" y1="457" x2="389.2" y2="455.2" stroke="#555" stroke-width="0.8"/>
<line x1="369.7" y1="457" x2="369.7" y2="454" stroke="#555" stroke-width="0.8"/>
<line x1="350.2" y1="457" x2="350.2" y2="455.2" stroke="#555" stroke-width="0.8"/>
<line x1="330.7" y1="457" x2="330.7" y2="454" stroke="#555" stroke-width="0.8"/>
<line x1="311.2" y1="457" x2="311.2" y2="455.2" stroke="#555" stroke-width="0.8"/>
<line x1="291.7" y1="457" x2="291.7" y2="454" stroke="#555" stroke-width="0.8"/>
<line x1="272.2" y1="457" x2="272.2" y2="455.2" stroke="#555" stroke-width="0.8"/>
<line x1="252.7" y1="457" x2="252.7" y2="454" stroke="#555" stroke-width="0.8"/>
<text x="252.7" y="466.9" font-size="9.2" fill="#1a1a1a" stroke="#1a1a1a" stroke-width="0.28" text-anchor="middle" >1200</text>
<text x="291.7" y="466.9" font-size="9.2" fill="#1a1a1a" stroke="#1a1a1a" stroke-width="0.28" text-anchor="middle" >900</text>
<text x="330.7" y="466.9" font-size="9.2" fill="#1a1a1a" stroke="#1a1a1a" stroke-width="0.28" text-anchor="middle" >600</text>
<text x="369.7" y="466.9" font-size="9.2" fill="#1a1a1a" stroke="#1a1a1a" stroke-width="0.28" text-anchor="middle" >300</text>
<text x="408.7" y="466.9" font-size="9.2" fill="#1a1a1a" stroke="#1a1a1a" stroke-width="0.28" text-anchor="middle" >0</text>
<text x="334" y="477" font-size="9.2" fill="#1a1a1a" stroke="#1a1a1a" stroke-width="0.28" text-anchor="middle" >Binding energy (eV)</text>
<text transform="translate(245.3,393.3) rotate(-90)" font-size="10.25" fill="#1a1a1a" stroke="#1a1a1a" stroke-width="0.28" text-anchor="middle" dominant-baseline="central">Intensity (a.u.)</text>
<g clip-path="url(#cliph)">
<polyline points="252.5,390 252.8,390.3 253.2,390.4 253.5,390 253.9,390.4 254.2,390.4 254.6,390.4 254.9,390.1 255.3,390.1 255.6,390.4 256,390.7 256.3,390.4 256.7,390.7 257.1,390.6 257.4,391 257.8,391.1 258.1,390.8 258.5,391.3 258.8,390.7 259.2,391.3 259.5,391.4 259.9,390.9 260.2,391.4 260.6,391.3 260.9,391.6 261.3,391.2 261.6,391.5 262,391.8 262.3,391.7 262.7,391.5 263,391.4 263.4,392.1 263.7,391.8 264.1,392.3 264.4,391.7 264.8,392.3 265.1,392.3 265.5,392.5 265.8,391.9 266.2,392.2 266.5,392.1 266.9,392.6 267.2,393.1 267.6,394.8 267.9,395.7 268.3,397.3 268.6,398.3 269,397.9 269.3,398.2 269.7,398.6 270,398.4 270.4,398.3 270.7,398.3 271.1,398.8 271.4,398.4 271.8,398.8 272.1,398.8 272.5,398.7 272.8,398.3 273.2,398.6 273.5,398.7 273.9,398.2 274.2,398.1 274.6,398.4 274.9,398.1 275.3,397.8 275.6,397.5 276,397.9 276.3,397.5 276.7,397.5 277,397.3 277.4,397.5 277.7,397.4 278.1,397.1 278.4,396.9 278.8,397.6 279.1,397.6 279.5,397 279.8,397.4 280.2,397.5 280.5,397.4 280.9,397.6 281.2,398.1 281.6,398.4 281.9,398.8 282.3,399.2 282.6,399.6 283,399.4 283.3,399.3 283.7,399.2 284,399.6 284.4,399.3 284.7,399.3 285.1,399.3 285.4,399.1 285.8,398.5 286.1,399 286.5,398.3 286.8,398.7 287.2,398.6 287.5,398.4 287.9,398.1 288.2,397.8 288.6,397.7 288.9,397.9 289.3,397.5 289.6,397.6 290,397.4 290.3,397.2 290.7,397.2 291,397.4 291.4,397.1 291.7,396.9 292.1,396.9 292.4,396.8 292.8,396.7 293.1,396.5 293.5,396.8 293.8,396.5 294.2,396.1 294.5,396 294.9,395.8 295.2,395.8 295.6,395.5 295.9,395.9 296.3,395.7 296.6,395.5 297,395.7 297.3,395.2 297.7,395.3 298,395.4 298.4,395 298.7,395 299.1,394.7 299.4,395 299.8,394.8 300.1,394.3 300.5,394.3 300.8,394.4 301.2,394.3 301.5,394.2 301.9,393.9 302.2,394.1 302.6,394.1 302.9,394.1 303.3,393.8 303.6,393.7 304,393.7 304.3,393.7 304.7,393.6 305,393.2 305.4,393.3 305.7,393.7 306.1,393.5 306.4,393.2 306.8,393.3 307.1,392.9 307.5,392.8 307.8,393 308.2,393 308.5,392.5 308.9,392.7 309.2,392.9 309.6,392.7 309.9,392.9 310.3,392.2 310.6,392.6 311,392.5 311.3,391.8 311.7,392.1 312,392.1 312.4,391.7 312.7,391.9 313.1,391.9 313.4,391.8 313.8,391.4 314.1,391.1 314.5,391.3 314.8,391 315.2,391.1 315.5,390.8 315.9,391.2 316.2,391.7 316.6,392.3 316.9,392.7 317.3,392.7 317.6,392.8 318,393.6 318.3,393.7 318.7,394.4 319,394.9 319.4,394.7 319.7,395.6 320.1,395.7 320.4,396.1 320.8,396.5 321.1,397.1 321.5,397.3 321.8,397.9 322.2,398.3 322.5,398.6 322.9,399.2 323.2,400 323.6,400.2 323.9,400.7 324.3,400.9 324.6,400.7 325,401.2 325.3,401 325.7,400.5 326,400.5 326.4,400.6 326.7,400.6 327.1,400.4 327.4,400.4 327.8,400.6 328.1,400.1 328.5,400.3 328.8,400 329.2,400.2 329.5,400 329.9,400.2 330.2,400.2 330.6,400.3 330.9,399.9 331.3,400 331.6,399.6 332,400 332.3,400 332.7,399.7 333,399.6 333.4,399.9 333.7,399.9 334.1,399.9 334.4,399.5 334.8,399.4 335.1,399.4 335.5,399.3 335.8,399.2 336.2,399.2 336.5,399.4 336.9,399.4 337.2,399.8 337.6,399.8 337.9,399.9 338.3,400.8 338.6,400.4 339,400.9 339.3,401.5 339.7,401.5 340,402.3 340.4,402.4 340.7,402.4 341.1,403.1 341.4,403.4 341.8,403.4 342.1,403.5 342.5,403.8 342.8,404.6 343.2,404.9 343.5,405 343.9,405.4 344.2,405.7 344.6,405.6 344.9,405.9 345.3,406.6 345.6,406.9 346,406.9 346.3,407.2 346.7,407.5 347,408.2 347.4,409 347.7,408.9 348.1,409.4 348.4,409.6 348.8,410.4 349.1,410.4 349.5,411.2 349.8,411.5 350.2,418.6 350.5,425.6 350.9,432.8 351.2,436.3 351.6,436.3 351.9,436.1 352.3,435.7 352.6,435.7 353,435.8 353.3,436.1 353.7,436.2 354,435.6 354.4,435.9 354.7,435.7 355.1,435.7 355.4,435.5 355.8,435.9 356.1,435.9 356.5,436 356.8,435.7 357.2,435.6 357.5,435.7 357.9,435.4 358.2,435.9 358.6,435.8 358.9,435.4 359.3,435.5 359.6,435.5 360,435.7 360.3,435.6 360.7,435.2 361,435.6 361.4,435.5 361.7,435.4 362.1,435.1 362.4,435 362.8,434.9 363.1,435.2 363.5,434.8 363.8,435.1 364.2,434.5 364.5,434.3 364.9,434.6 365.2,434.3 365.6,434.3 365.9,434.1 366.3,434.1 366.6,434.2 367,433.9 367.3,434 367.7,434.1 368,433.8 368.4,433.8 368.7,433.8 369.1,433.6 369.4,433.8 369.8,433.9 370.1,433.3 370.5,433.6 370.8,433.6 371.2,433.8 371.5,433.6 371.9,433.3 372.2,433.5 372.6,433.6 372.9,433.6 373.3,433.4 373.6,432.9 374,433.1 374.3,433.1 374.7,432.9 375,433.2 375.4,433 375.7,433.3 376.1,432.7 376.4,433.2 376.8,432.7 377.1,433 377.5,432.8 377.8,432.9 378.2,433.1 378.5,433.3 378.9,432.7 379.2,432.9 379.6,432.7 379.9,433.2 380.3,432.8 380.6,432.8 381,433.2 381.3,432.7 381.7,433.3 382,432.8 382.4,433.3 382.7,432.7 383.1,432.7 383.4,433 383.8,432.9 384.1,433.1 384.5,432.9 384.8,432.9 385.2,432.7 385.5,432.8 385.9,432.8 386.2,433.2 386.6,433.5 386.9,433.3 387.3,433.2 387.6,433.4 388,433.6 388.3,433.8 388.7,433.3 389,433.7 389.4,433.5 389.7,434 390.1,433.9 390.4,433.9 390.8,434 391.1,434.1 391.5,433.7 391.8,433.9 392.2,433.7 392.5,433.9 392.9,434.5 393.2,434.3 393.6,434.1 393.9,434.2 394.3,434.3 394.6,434.1 395,434.7 395.3,434.5 395.7,434.4 396,434.9 396.4,434.9 396.7,435.3 397.1,435.1 397.4,435.2 397.8,435.5 398.1,435.5 398.5,435.5 398.8,436 399.2,436.2 399.5,436.3 399.9,436.3 400.2,436.3 400.6,436.7 400.9,436.4 401.3,436.5 401.6,436.7 402,437 402.3,436.9 402.7,437.2 403,437.6 403.4,437.7 403.7,437.5 404.1,437.6 404.4,437.7 404.8,437.9 405.1,438.2 405.5,438.6 405.8,439.1 406.2,439.2 406.5,439.4 406.9,440.2 407.2,440.9 407.6,440.8 407.9,441.9 408.3,442.8 408.6,443.1 409,444" fill="none" stroke="#8a2a8e" stroke-width="1.1" stroke-linejoin="round" />
<line x1="267.5" y1="392.5" x2="267.5" y2="383.5" stroke="#8a2a8e" stroke-width="1.1"/>
<line x1="281.5" y1="398.5" x2="281.5" y2="393" stroke="#8a2a8e" stroke-width="1.1"/>
<line x1="316.3" y1="392" x2="316.3" y2="386" stroke="#8a2a8e" stroke-width="1.1"/>
<line x1="322" y1="398.5" x2="322" y2="380.5" stroke="#8a2a8e" stroke-width="1.1"/>
<line x1="339.6" y1="400" x2="339.6" y2="381.6" stroke="#8a2a8e" stroke-width="1.1"/>
<line x1="343.8" y1="405" x2="343.8" y2="399.5" stroke="#8a2a8e" stroke-width="1.1"/>
<line x1="346.8" y1="408" x2="346.8" y2="401.5" stroke="#8a2a8e" stroke-width="1.1"/>
<line x1="350.4" y1="436" x2="350.4" y2="349.5" stroke="#8a2a8e" stroke-width="1.1"/>
<line x1="371.3" y1="433.8" x2="371.3" y2="408" stroke="#8a2a8e" stroke-width="1.1"/>
<line x1="383.4" y1="433" x2="383.4" y2="428" stroke="#8a2a8e" stroke-width="1.1"/>
<line x1="406.4" y1="440" x2="406.4" y2="425" stroke="#8a2a8e" stroke-width="1.1"/>
<line x1="349.4" y1="375.5" x2="349.4" y2="412" stroke="#8a2a8e" stroke-width="1.0"/>
</g>
<rect x="252.5" y="341.7" width="156.5" height="115.3" fill="none" stroke="#555" stroke-width="1" />
<rect x="264.7" y="381" width="5.2" height="5.2" fill="none" stroke="#777" stroke-width="0.8" />
<rect x="313.6" y="376.4" width="5.2" height="5.2" fill="none" stroke="#777" stroke-width="0.8" />
<rect x="320.5" y="372.6" width="5.2" height="5.2" fill="none" stroke="#777" stroke-width="0.8" />
<rect x="390.7" y="426.9" width="5.2" height="5.2" fill="none" stroke="#777" stroke-width="0.8" />
<rect x="399.1" y="427.8" width="5.2" height="5.2" fill="none" stroke="#777" stroke-width="0.8" />
<rect x="403.4" y="416.2" width="5.2" height="5.2" fill="none" stroke="#777" stroke-width="0.8" />
<circle cx="281" cy="389.3" r="2.5" fill="none" stroke="#777" stroke-width="0.8"/>
<path d="M309.3,384 L314.7,384 L312,389 Z" fill="none" stroke="#777" stroke-width="0.8"/>
<text x="339.6" y="380.5" font-size="8.5" fill="#111" stroke="#111" stroke-width="0.28" text-anchor="middle" >×</text>
<path d="M350.4,343.8 L352.6,346.7 L350.4,349.6 L348.2,346.7 Z" fill="#111"/>
<circle cx="371.5" cy="404.4" r="2.4" fill="#111"/>
<g clip-path="url(#clipsn)">
<polygon points="460.1,367.3 460.7,367.3 461.3,367.3 461.9,367.2 462.5,367.2 463.1,367.2 463.7,367.2 464.3,367.2 464.9,367.2 465.5,367.1 466.1,367.1 466.7,367.1 467.3,367.1 467.9,367.1 468.5,367.1 469.1,367 469.7,367 470.3,367 470.9,367 471.5,367 472.1,367 472.7,366.9 473.3,366.9 473.9,366.9 474.5,366.9 475.1,366.9 475.7,366.9 476.3,366.8 476.9,366.8 477.5,366.8 478.1,366.8 478.7,366.8 479.3,366.8 479.9,366.8 480.5,366.7 481.1,366.7 481.7,366.7 482.3,366.7 482.9,366.7 483.5,366.7 484.1,366.6 484.7,366.6 485.3,366.6 485.9,366.6 486.5,366.6 487.1,366.5 487.7,366.5 488.3,366.5 488.9,366.5 489.5,366.5 490.1,366.5 490.7,366.4 491.3,366.4 491.9,366.4 492.5,366.4 493.1,366.4 493.7,366.3 494.3,366.3 494.9,366.3 495.5,366.3 496.1,366.3 496.7,366.2 497.3,366.2 497.9,366.2 498.5,366.2 499.1,366.1 499.7,366.1 500.3,366.1 500.9,366 501.5,365.9 502.1,365.8 502.7,365.6 503.3,365.3 503.9,364.8 504.5,364.2 505.1,363.2 505.7,362 506.3,360.4 506.9,358.5 507.5,356.4 508.1,354.2 508.7,352.1 509.3,350.2 509.9,348.9 510.5,348.2 511.1,348.3 511.7,349.2 512.3,350.7 512.9,352.6 513.5,354.8 514.1,357 514.7,359 515.3,360.7 515.9,362.1 516.5,363.3 517.1,364.1 517.7,364.6 518.3,365 518.9,365.2 519.5,365.4 520.1,365.5 520.7,365.5 521.3,365.5 521.9,365.5 522.5,365.5 523.1,365.5 523.7,365.5 524.3,365.5 524.9,365.5 525.5,365.5 526.1,365.5 526.7,365.5 527.3,365.5 527.9,365.4 528.5,365.4 529.1,365.4 529.7,365.4 530.3,365.4 530.9,365.4 531.5,365.4 532.1,365.3 532.7,365.3 533.3,365.3 533.9,365.3 534.5,365.3 535.1,365.3 535.7,365.3 536.3,365.2 536.9,365.2 537.5,365.2 538.1,365.2 538.7,365.2 539.3,365.2 539.9,365.2 540.5,365.1 541.1,365.1 541.7,365.1 542.3,365.1 542.9,365.1 543.5,365.1 544.1,365 544.7,365 545.3,365 545.9,365 546.5,365 547.1,365 547.7,365 548.3,364.9 548.9,364.9 549.5,364.9 550.1,364.9 550.7,364.9 551.3,364.9 551.9,364.8 552.5,364.8 553.1,364.8 553.7,364.8 554.3,364.8 554.9,364.8 555.5,364.8 556.1,364.7 556.7,364.7 557.3,364.7 557.9,364.7 558.5,364.7 559.1,364.7 559.7,364.6 560.3,364.6 560.9,364.6 561.5,364.6 562.1,364.6 562.7,364.6 563.3,364.5 563.9,364.5 564.5,364.5 565.1,364.5 565.7,364.5 566.3,364.5 566.9,364.5 567.5,364.4 568.1,364.4 568.7,364.4 569.3,364.4 569.9,364.4 570.5,364.4 571.1,364.3 571.7,364.3 572.3,364.3 572.9,364.3 573.5,364.3 574.1,364.3 574.7,364.2 575.3,364.2 575.9,364.2 576.5,364.2 577.1,364.2 577.7,364.2 578.3,364.2 578.9,364.1 579.5,364.1 580.1,364.1 580.7,364.1 581.3,364.1 581.9,364.1 582.5,364 583.1,364 583.7,364 584.3,364 584.9,364 585.5,364 586.1,363.9 586.7,363.9 587.3,363.9 587.9,363.9 588.5,363.9 589.1,363.9 589.7,363.8 590.3,363.8 590.9,363.8 591.5,363.8 592.1,363.8 592.7,363.8 593.3,363.8 593.9,363.7 594.5,363.7 595.1,363.7 595.7,363.7 596.3,363.7 596.9,363.7 597.5,363.6 598.1,363.6 598.7,363.6 599.3,363.6 599.9,363.6 600.5,363.6 601.1,363.5 601.7,363.5 602.3,363.5 602.9,363.5 603.5,363.5 604.1,363.5 604.7,363.5 605.3,363.4 605.9,363.4 606.5,363.4 607.1,363.4 607.7,363.4 608.3,363.4 608.9,363.3 609.5,363.3 610.1,363.3 610.7,363.3 610.7,363.3 610.1,363.3 609.5,363.3 608.9,363.3 608.3,363.4 607.7,363.4 607.1,363.4 606.5,363.4 605.9,363.4 605.3,363.4 604.7,363.5 604.1,363.5 603.5,363.5 602.9,363.5 602.3,363.5 601.7,363.5 601.1,363.5 600.5,363.6 599.9,363.6 599.3,363.6 598.7,363.6 598.1,363.6 597.5,363.6 596.9,363.7 596.3,363.7 595.7,363.7 595.1,363.7 594.5,363.7 593.9,363.7 593.3,363.8 592.7,363.8 592.1,363.8 591.5,363.8 590.9,363.8 590.3,363.8 589.7,363.9 589.1,363.9 588.5,363.9 587.9,363.9 587.3,363.9 586.7,363.9 586.1,363.9 585.5,364 584.9,364 584.3,364 583.7,364 583.1,364 582.5,364 581.9,364.1 581.3,364.1 580.7,364.1 580.1,364.1 579.5,364.1 578.9,364.1 578.3,364.2 577.7,364.2 577.1,364.2 576.5,364.2 575.9,364.2 575.3,364.2 574.7,364.2 574.1,364.3 573.5,364.3 572.9,364.3 572.3,364.3 571.7,364.3 571.1,364.3 570.5,364.4 569.9,364.4 569.3,364.4 568.7,364.4 568.1,364.4 567.5,364.4 566.9,364.5 566.3,364.5 565.7,364.5 565.1,364.5 564.5,364.5 563.9,364.5 563.3,364.6 562.7,364.6 562.1,364.6 561.5,364.6 560.9,364.6 560.3,364.6 559.7,364.6 559.1,364.7 558.5,364.7 557.9,364.7 557.3,364.7 556.7,364.7 556.1,364.7 555.5,364.8 554.9,364.8 554.3,364.8 553.7,364.8 553.1,364.8 552.5,364.8 551.9,364.9 551.3,364.9 550.7,364.9 550.1,364.9 549.5,364.9 548.9,364.9 548.3,365 547.7,365 547.1,365 546.5,365 545.9,365 545.3,365 544.7,365 544.1,365.1 543.5,365.1 542.9,365.1 542.3,365.1 541.7,365.1 541.1,365.1 540.5,365.2 539.9,365.2 539.3,365.2 538.7,365.2 538.1,365.2 537.5,365.2 536.9,365.3 536.3,365.3 535.7,365.3 535.1,365.3 534.5,365.3 533.9,365.3 533.3,365.3 532.7,365.4 532.1,365.4 531.5,365.4 530.9,365.4 530.3,365.4 529.7,365.4 529.1,365.5 528.5,365.5 527.9,365.5 527.3,365.5 526.7,365.5 526.1,365.5 525.5,365.6 524.9,365.6 524.3,365.6 523.7,365.6 523.1,365.6 522.5,365.6 521.9,365.7 521.3,365.7 520.7,365.7 520.1,365.7 519.5,365.7 518.9,365.7 518.3,365.7 517.7,365.8 517.1,365.8 516.5,365.8 515.9,365.8 515.3,365.8 514.7,365.8 514.1,365.9 513.5,365.9 512.9,365.9 512.3,365.9 511.7,365.9 511.1,365.9 510.5,366 509.9,366 509.3,366 508.7,366 508.1,366 507.5,366 506.9,366.1 506.3,366.1 505.7,366.1 505.1,366.1 504.5,366.1 503.9,366.1 503.3,366.1 502.7,366.2 502.1,366.2 501.5,366.2 500.9,366.2 500.3,366.2 499.7,366.2 499.1,366.3 498.5,366.3 497.9,366.3 497.3,366.3 496.7,366.3 496.1,366.3 495.5,366.4 494.9,366.4 494.3,366.4 493.7,366.4 493.1,366.4 492.5,366.4 491.9,366.4 491.3,366.5 490.7,366.5 490.1,366.5 489.5,366.5 488.9,366.5 488.3,366.5 487.7,366.6 487.1,366.6 486.5,366.6 485.9,366.6 485.3,366.6 484.7,366.6 484.1,366.7 483.5,366.7 482.9,366.7 482.3,366.7 481.7,366.7 481.1,366.7 480.5,366.8 479.9,366.8 479.3,366.8 478.7,366.8 478.1,366.8 477.5,366.8 476.9,366.8 476.3,366.9 475.7,366.9 475.1,366.9 474.5,366.9 473.9,366.9 473.3,366.9 472.7,367 472.1,367 471.5,367 470.9,367 470.3,367 469.7,367 469.1,367.1 468.5,367.1 467.9,367.1 467.3,367.1 466.7,367.1 466.1,367.1 465.5,367.2 464.9,367.2 464.3,367.2 463.7,367.2 463.1,367.2 462.5,367.2 461.9,367.2 461.3,367.3 460.7,367.3 460.1,367.3" fill="#c050c8" fill-opacity="0.75"/>
<polygon points="460.1,367.3 460.7,367.3 461.3,367.3 461.9,367.2 462.5,367.2 463.1,367.2 463.7,367.2 464.3,367.2 464.9,367.2 465.5,367.1 466.1,367.1 466.7,367.1 467.3,367.1 467.9,367.1 468.5,367.1 469.1,367 469.7,367 470.3,367 470.9,367 471.5,367 472.1,367 472.7,367 473.3,366.9 473.9,366.9 474.5,366.9 475.1,366.9 475.7,366.9 476.3,366.9 476.9,366.8 477.5,366.8 478.1,366.8 478.7,366.8 479.3,366.8 479.9,366.8 480.5,366.7 481.1,366.7 481.7,366.7 482.3,366.7 482.9,366.7 483.5,366.7 484.1,366.6 484.7,366.6 485.3,366.6 485.9,366.6 486.5,366.6 487.1,366.6 487.7,366.5 488.3,366.5 488.9,366.5 489.5,366.5 490.1,366.5 490.7,366.5 491.3,366.4 491.9,366.4 492.5,366.4 493.1,366.4 493.7,366.4 494.3,366.4 494.9,366.3 495.5,366.3 496.1,366.3 496.7,366.3 497.3,366.3 497.9,366.2 498.5,366.2 499.1,366.2 499.7,366.2 500.3,366.2 500.9,366.1 501.5,366.1 502.1,366.1 502.7,366.1 503.3,366.1 503.9,366 504.5,366 505.1,366 505.7,365.9 506.3,365.9 506.9,365.8 507.5,365.6 508.1,365.4 508.7,365 509.3,364.5 509.9,363.7 510.5,362.6 511.1,361.2 511.7,359.4 512.3,357.4 512.9,355.3 513.5,353.2 514.1,351.4 514.7,350.1 515.3,349.5 515.9,349.8 516.5,350.8 517.1,352.4 517.7,354.4 518.3,356.5 518.9,358.6 519.5,360.4 520.1,361.9 520.7,363.1 521.3,364 521.9,364.5 522.5,364.9 523.1,365.2 523.7,365.3 524.3,365.4 524.9,365.4 525.5,365.4 526.1,365.4 526.7,365.4 527.3,365.4 527.9,365.4 528.5,365.4 529.1,365.4 529.7,365.4 530.3,365.4 530.9,365.4 531.5,365.3 532.1,365.3 532.7,365.3 533.3,365.3 533.9,365.3 534.5,365.3 535.1,365.3 535.7,365.3 536.3,365.2 536.9,365.2 537.5,365.2 538.1,365.2 538.7,365.2 539.3,365.2 539.9,365.2 540.5,365.1 541.1,365.1 541.7,365.1 542.3,365.1 542.9,365.1 543.5,365.1 544.1,365 544.7,365 545.3,365 545.9,365 546.5,365 547.1,365 547.7,365 548.3,364.9 548.9,364.9 549.5,364.9 550.1,364.9 550.7,364.9 551.3,364.9 551.9,364.8 552.5,364.8 553.1,364.8 553.7,364.8 554.3,364.8 554.9,364.8 555.5,364.8 556.1,364.7 556.7,364.7 557.3,364.7 557.9,364.7 558.5,364.7 559.1,364.7 559.7,364.6 560.3,364.6 560.9,364.6 561.5,364.6 562.1,364.6 562.7,364.6 563.3,364.5 563.9,364.5 564.5,364.5 565.1,364.5 565.7,364.5 566.3,364.5 566.9,364.5 567.5,364.4 568.1,364.4 568.7,364.4 569.3,364.4 569.9,364.4 570.5,364.4 571.1,364.3 571.7,364.3 572.3,364.3 572.9,364.3 573.5,364.3 574.1,364.3 574.7,364.2 575.3,364.2 575.9,364.2 576.5,364.2 577.1,364.2 577.7,364.2 578.3,364.2 578.9,364.1 579.5,364.1 580.1,364.1 580.7,364.1 581.3,364.1 581.9,364.1 582.5,364 583.1,364 583.7,364 584.3,364 584.9,364 585.5,364 586.1,363.9 586.7,363.9 587.3,363.9 587.9,363.9 588.5,363.9 589.1,363.9 589.7,363.8 590.3,363.8 590.9,363.8 591.5,363.8 592.1,363.8 592.7,363.8 593.3,363.8 593.9,363.7 594.5,363.7 595.1,363.7 595.7,363.7 596.3,363.7 596.9,363.7 597.5,363.6 598.1,363.6 598.7,363.6 599.3,363.6 599.9,363.6 600.5,363.6 601.1,363.5 601.7,363.5 602.3,363.5 602.9,363.5 603.5,363.5 604.1,363.5 604.7,363.5 605.3,363.4 605.9,363.4 606.5,363.4 607.1,363.4 607.7,363.4 608.3,363.4 608.9,363.3 609.5,363.3 610.1,363.3 610.7,363.3 610.7,363.3 610.1,363.3 609.5,363.3 608.9,363.3 608.3,363.4 607.7,363.4 607.1,363.4 606.5,363.4 605.9,363.4 605.3,363.4 604.7,363.5 604.1,363.5 603.5,363.5 602.9,363.5 602.3,363.5 601.7,363.5 601.1,363.5 600.5,363.6 599.9,363.6 599.3,363.6 598.7,363.6 598.1,363.6 597.5,363.6 596.9,363.7 596.3,363.7 595.7,363.7 595.1,363.7 594.5,363.7 593.9,363.7 593.3,363.8 592.7,363.8 592.1,363.8 591.5,363.8 590.9,363.8 590.3,363.8 589.7,363.9 589.1,363.9 588.5,363.9 587.9,363.9 587.3,363.9 586.7,363.9 586.1,363.9 585.5,364 584.9,364 584.3,364 583.7,364 583.1,364 582.5,364 581.9,364.1 581.3,364.1 580.7,364.1 580.1,364.1 579.5,364.1 578.9,364.1 578.3,364.2 577.7,364.2 577.1,364.2 576.5,364.2 575.9,364.2 575.3,364.2 574.7,364.2 574.1,364.3 573.5,364.3 572.9,364.3 572.3,364.3 571.7,364.3 571.1,364.3 570.5,364.4 569.9,364.4 569.3,364.4 568.7,364.4 568.1,364.4 567.5,364.4 566.9,364.5 566.3,364.5 565.7,364.5 565.1,364.5 564.5,364.5 563.9,364.5 563.3,364.6 562.7,364.6 562.1,364.6 561.5,364.6 560.9,364.6 560.3,364.6 559.7,364.6 559.1,364.7 558.5,364.7 557.9,364.7 557.3,364.7 556.7,364.7 556.1,364.7 555.5,364.8 554.9,364.8 554.3,364.8 553.7,364.8 553.1,364.8 552.5,364.8 551.9,364.9 551.3,364.9 550.7,364.9 550.1,364.9 549.5,364.9 548.9,364.9 548.3,365 547.7,365 547.1,365 546.5,365 545.9,365 545.3,365 544.7,365 544.1,365.1 543.5,365.1 542.9,365.1 542.3,365.1 541.7,365.1 541.1,365.1 540.5,365.2 539.9,365.2 539.3,365.2 538.7,365.2 538.1,365.2 537.5,365.2 536.9,365.3 536.3,365.3 535.7,365.3 535.1,365.3 534.5,365.3 533.9,365.3 533.3,365.3 532.7,365.4 532.1,365.4 531.5,365.4 530.9,365.4 530.3,365.4 529.7,365.4 529.1,365.5 528.5,365.5 527.9,365.5 527.3,365.5 526.7,365.5 526.1,365.5 525.5,365.6 524.9,365.6 524.3,365.6 523.7,365.6 523.1,365.6 522.5,365.6 521.9,365.7 521.3,365.7 520.7,365.7 520.1,365.7 519.5,365.7 518.9,365.7 518.3,365.7 517.7,365.8 517.1,365.8 516.5,365.8 515.9,365.8 515.3,365.8 514.7,365.8 514.1,365.9 513.5,365.9 512.9,365.9 512.3,365.9 511.7,365.9 511.1,365.9 510.5,366 509.9,366 509.3,366 508.7,366 508.1,366 507.5,366 506.9,366.1 506.3,366.1 505.7,366.1 505.1,366.1 504.5,366.1 503.9,366.1 503.3,366.1 502.7,366.2 502.1,366.2 501.5,366.2 500.9,366.2 500.3,366.2 499.7,366.2 499.1,366.3 498.5,366.3 497.9,366.3 497.3,366.3 496.7,366.3 496.1,366.3 495.5,366.4 494.9,366.4 494.3,366.4 493.7,366.4 493.1,366.4 492.5,366.4 491.9,366.4 491.3,366.5 490.7,366.5 490.1,366.5 489.5,366.5 488.9,366.5 488.3,366.5 487.7,366.6 487.1,366.6 486.5,366.6 485.9,366.6 485.3,366.6 484.7,366.6 484.1,366.7 483.5,366.7 482.9,366.7 482.3,366.7 481.7,366.7 481.1,366.7 480.5,366.8 479.9,366.8 479.3,366.8 478.7,366.8 478.1,366.8 477.5,366.8 476.9,366.8 476.3,366.9 475.7,366.9 475.1,366.9 474.5,366.9 473.9,366.9 473.3,366.9 472.7,367 472.1,367 471.5,367 470.9,367 470.3,367 469.7,367 469.1,367.1 468.5,367.1 467.9,367.1 467.3,367.1 466.7,367.1 466.1,367.1 465.5,367.2 464.9,367.2 464.3,367.2 463.7,367.2 463.1,367.2 462.5,367.2 461.9,367.2 461.3,367.3 460.7,367.3 460.1,367.3" fill="#f5a050" fill-opacity="0.75"/>
<polygon points="460.1,367.3 460.7,367.3 461.3,367.3 461.9,367.2 462.5,367.2 463.1,367.2 463.7,367.2 464.3,367.2 464.9,367.2 465.5,367.1 466.1,367.1 466.7,367.1 467.3,367.1 467.9,367.1 468.5,367.1 469.1,367.1 469.7,367 470.3,367 470.9,367 471.5,367 472.1,367 472.7,367 473.3,366.9 473.9,366.9 474.5,366.9 475.1,366.9 475.7,366.9 476.3,366.9 476.9,366.8 477.5,366.8 478.1,366.8 478.7,366.8 479.3,366.8 479.9,366.8 480.5,366.8 481.1,366.7 481.7,366.7 482.3,366.7 482.9,366.7 483.5,366.7 484.1,366.7 484.7,366.6 485.3,366.6 485.9,366.6 486.5,366.6 487.1,366.6 487.7,366.6 488.3,366.5 488.9,366.5 489.5,366.5 490.1,366.5 490.7,366.5 491.3,366.5 491.9,366.4 492.5,366.4 493.1,366.4 493.7,366.4 494.3,366.4 494.9,366.4 495.5,366.4 496.1,366.3 496.7,366.3 497.3,366.3 497.9,366.3 498.5,366.3 499.1,366.3 499.7,366.2 500.3,366.2 500.9,366.2 501.5,366.2 502.1,366.2 502.7,366.2 503.3,366.1 503.9,366.1 504.5,366.1 505.1,366.1 505.7,366.1 506.3,366.1 506.9,366 507.5,366 508.1,366 508.7,366 509.3,366 509.9,366 510.5,366 511.1,365.9 511.7,365.9 512.3,365.9 512.9,365.9 513.5,365.9 514.1,365.9 514.7,365.8 515.3,365.8 515.9,365.8 516.5,365.8 517.1,365.8 517.7,365.8 518.3,365.7 518.9,365.7 519.5,365.7 520.1,365.7 520.7,365.7 521.3,365.7 521.9,365.6 522.5,365.6 523.1,365.6 523.7,365.6 524.3,365.6 524.9,365.6 525.5,365.6 526.1,365.5 526.7,365.5 527.3,365.5 527.9,365.5 528.5,365.5 529.1,365.5 529.7,365.4 530.3,365.4 530.9,365.4 531.5,365.4 532.1,365.4 532.7,365.4 533.3,365.3 533.9,365.3 534.5,365.3 535.1,365.3 535.7,365.3 536.3,365.3 536.9,365.2 537.5,365.2 538.1,365.2 538.7,365.2 539.3,365.2 539.9,365.2 540.5,365.1 541.1,365.1 541.7,365.1 542.3,365.1 542.9,365.1 543.5,365.1 544.1,365 544.7,365 545.3,365 545.9,365 546.5,365 547.1,365 547.7,364.9 548.3,364.9 548.9,364.9 549.5,364.9 550.1,364.9 550.7,364.9 551.3,364.8 551.9,364.8 552.5,364.8 553.1,364.8 553.7,364.8 554.3,364.8 554.9,364.7 555.5,364.7 556.1,364.7 556.7,364.7 557.3,364.7 557.9,364.6 558.5,364.6 559.1,364.6 559.7,364.6 560.3,364.5 560.9,364.5 561.5,364.5 562.1,364.4 562.7,364.3 563.3,364.2 563.9,364 564.5,363.8 565.1,363.4 565.7,362.8 566.3,362.1 566.9,361.2 567.5,360.2 568.1,359 568.7,357.8 569.3,356.7 569.9,355.8 570.5,355.2 571.1,355.1 571.7,355.3 572.3,356 572.9,356.9 573.5,358.1 574.1,359.2 574.7,360.3 575.3,361.3 575.9,362.1 576.5,362.7 577.1,363.2 577.7,363.5 578.3,363.7 578.9,363.8 579.5,363.9 580.1,364 580.7,364 581.3,364 581.9,364 582.5,364 583.1,364 583.7,364 584.3,363.9 584.9,363.9 585.5,363.9 586.1,363.9 586.7,363.9 587.3,363.9 587.9,363.9 588.5,363.9 589.1,363.8 589.7,363.8 590.3,363.8 590.9,363.8 591.5,363.8 592.1,363.8 592.7,363.8 593.3,363.7 593.9,363.7 594.5,363.7 595.1,363.7 595.7,363.7 596.3,363.7 596.9,363.6 597.5,363.6 598.1,363.6 598.7,363.6 599.3,363.6 599.9,363.6 600.5,363.6 601.1,363.5 601.7,363.5 602.3,363.5 602.9,363.5 603.5,363.5 604.1,363.5 604.7,363.4 605.3,363.4 605.9,363.4 606.5,363.4 607.1,363.4 607.7,363.4 608.3,363.3 608.9,363.3 609.5,363.3 610.1,363.3 610.7,363.3 610.7,363.3 610.1,363.3 609.5,363.3 608.9,363.3 608.3,363.4 607.7,363.4 607.1,363.4 606.5,363.4 605.9,363.4 605.3,363.4 604.7,363.5 604.1,363.5 603.5,363.5 602.9,363.5 602.3,363.5 601.7,363.5 601.1,363.5 600.5,363.6 599.9,363.6 599.3,363.6 598.7,363.6 598.1,363.6 597.5,363.6 596.9,363.7 596.3,363.7 595.7,363.7 595.1,363.7 594.5,363.7 593.9,363.7 593.3,363.8 592.7,363.8 592.1,363.8 591.5,363.8 590.9,363.8 590.3,363.8 589.7,363.9 589.1,363.9 588.5,363.9 587.9,363.9 587.3,363.9 586.7,363.9 586.1,363.9 585.5,364 584.9,364 584.3,364 583.7,364 583.1,364 582.5,364 581.9,364.1 581.3,364.1 580.7,364.1 580.1,364.1 579.5,364.1 578.9,364.1 578.3,364.2 577.7,364.2 577.1,364.2 576.5,364.2 575.9,364.2 575.3,364.2 574.7,364.2 574.1,364.3 573.5,364.3 572.9,364.3 572.3,364.3 571.7,364.3 571.1,364.3 570.5,364.4 569.9,364.4 569.3,364.4 568.7,364.4 568.1,364.4 567.5,364.4 566.9,364.5 566.3,364.5 565.7,364.5 565.1,364.5 564.5,364.5 563.9,364.5 563.3,364.6 562.7,364.6 562.1,364.6 561.5,364.6 560.9,364.6 560.3,364.6 559.7,364.6 559.1,364.7 558.5,364.7 557.9,364.7 557.3,364.7 556.7,364.7 556.1,364.7 555.5,364.8 554.9,364.8 554.3,364.8 553.7,364.8 553.1,364.8 552.5,364.8 551.9,364.9 551.3,364.9 550.7,364.9 550.1,364.9 549.5,364.9 548.9,364.9 548.3,365 547.7,365 547.1,365 546.5,365 545.9,365 545.3,365 544.7,365 544.1,365.1 543.5,365.1 542.9,365.1 542.3,365.1 541.7,365.1 541.1,365.1 540.5,365.2 539.9,365.2 539.3,365.2 538.7,365.2 538.1,365.2 537.5,365.2 536.9,365.3 536.3,365.3 535.7,365.3 535.1,365.3 534.5,365.3 533.9,365.3 533.3,365.3 532.7,365.4 532.1,365.4 531.5,365.4 530.9,365.4 530.3,365.4 529.7,365.4 529.1,365.5 528.5,365.5 527.9,365.5 527.3,365.5 526.7,365.5 526.1,365.5 525.5,365.6 524.9,365.6 524.3,365.6 523.7,365.6 523.1,365.6 522.5,365.6 521.9,365.7 521.3,365.7 520.7,365.7 520.1,365.7 519.5,365.7 518.9,365.7 518.3,365.7 517.7,365.8 517.1,365.8 516.5,365.8 515.9,365.8 515.3,365.8 514.7,365.8 514.1,365.9 513.5,365.9 512.9,365.9 512.3,365.9 511.7,365.9 511.1,365.9 510.5,366 509.9,366 509.3,366 508.7,366 508.1,366 507.5,366 506.9,366.1 506.3,366.1 505.7,366.1 505.1,366.1 504.5,366.1 503.9,366.1 503.3,366.1 502.7,366.2 502.1,366.2 501.5,366.2 500.9,366.2 500.3,366.2 499.7,366.2 499.1,366.3 498.5,366.3 497.9,366.3 497.3,366.3 496.7,366.3 496.1,366.3 495.5,366.4 494.9,366.4 494.3,366.4 493.7,366.4 493.1,366.4 492.5,366.4 491.9,366.4 491.3,366.5 490.7,366.5 490.1,366.5 489.5,366.5 488.9,366.5 488.3,366.5 487.7,366.6 487.1,366.6 486.5,366.6 485.9,366.6 485.3,366.6 484.7,366.6 484.1,366.7 483.5,366.7 482.9,366.7 482.3,366.7 481.7,366.7 481.1,366.7 480.5,366.8 479.9,366.8 479.3,366.8 478.7,366.8 478.1,366.8 477.5,366.8 476.9,366.8 476.3,366.9 475.7,366.9 475.1,366.9 474.5,366.9 473.9,366.9 473.3,366.9 472.7,367 472.1,367 471.5,367 470.9,367 470.3,367 469.7,367 469.1,367.1 468.5,367.1 467.9,367.1 467.3,367.1 466.7,367.1 466.1,367.1 465.5,367.2 464.9,367.2 464.3,367.2 463.7,367.2 463.1,367.2 462.5,367.2 461.9,367.2 461.3,367.3 460.7,367.3 460.1,367.3" fill="#f070c8" fill-opacity="0.75"/>
<polygon points="460.1,367.3 460.7,367.3 461.3,367.3 461.9,367.2 462.5,367.2 463.1,367.2 463.7,367.2 464.3,367.2 464.9,367.2 465.5,367.1 466.1,367.1 466.7,367.1 467.3,367.1 467.9,367.1 468.5,367.1 469.1,367.1 469.7,367 470.3,367 470.9,367 471.5,367 472.1,367 472.7,367 473.3,366.9 473.9,366.9 474.5,366.9 475.1,366.9 475.7,366.9 476.3,366.9 476.9,366.8 477.5,366.8 478.1,366.8 478.7,366.8 479.3,366.8 479.9,366.8 480.5,366.7 481.1,366.7 481.7,366.7 482.3,366.7 482.9,366.7 483.5,366.7 484.1,366.7 484.7,366.6 485.3,366.6 485.9,366.6 486.5,366.6 487.1,366.6 487.7,366.6 488.3,366.5 488.9,366.5 489.5,366.5 490.1,366.5 490.7,366.5 491.3,366.5 491.9,366.4 492.5,366.4 493.1,366.4 493.7,366.4 494.3,366.4 494.9,366.4 495.5,366.3 496.1,366.3 496.7,366.3 497.3,366.3 497.9,366.3 498.5,366.3 499.1,366.3 499.7,366.2 500.3,366.2 500.9,366.2 501.5,366.2 502.1,366.2 502.7,366.2 503.3,366.1 503.9,366.1 504.5,366.1 505.1,366.1 505.7,366.1 506.3,366.1 506.9,366 507.5,366 508.1,366 508.7,366 509.3,366 509.9,366 510.5,365.9 511.1,365.9 511.7,365.9 512.3,365.9 512.9,365.9 513.5,365.9 514.1,365.9 514.7,365.8 515.3,365.8 515.9,365.8 516.5,365.8 517.1,365.8 517.7,365.8 518.3,365.7 518.9,365.7 519.5,365.7 520.1,365.7 520.7,365.7 521.3,365.7 521.9,365.6 522.5,365.6 523.1,365.6 523.7,365.6 524.3,365.6 524.9,365.6 525.5,365.5 526.1,365.5 526.7,365.5 527.3,365.5 527.9,365.5 528.5,365.5 529.1,365.4 529.7,365.4 530.3,365.4 530.9,365.4 531.5,365.4 532.1,365.4 532.7,365.4 533.3,365.3 533.9,365.3 534.5,365.3 535.1,365.3 535.7,365.3 536.3,365.3 536.9,365.2 537.5,365.2 538.1,365.2 538.7,365.2 539.3,365.2 539.9,365.2 540.5,365.1 541.1,365.1 541.7,365.1 542.3,365.1 542.9,365.1 543.5,365.1 544.1,365 544.7,365 545.3,365 545.9,365 546.5,365 547.1,365 547.7,364.9 548.3,364.9 548.9,364.9 549.5,364.9 550.1,364.9 550.7,364.9 551.3,364.8 551.9,364.8 552.5,364.8 553.1,364.8 553.7,364.8 554.3,364.7 554.9,364.7 555.5,364.7 556.1,364.7 556.7,364.7 557.3,364.6 557.9,364.6 558.5,364.6 559.1,364.6 559.7,364.6 560.3,364.5 560.9,364.5 561.5,364.5 562.1,364.5 562.7,364.4 563.3,364.4 563.9,364.3 564.5,364.3 565.1,364.2 565.7,364.1 566.3,363.9 566.9,363.7 567.5,363.4 568.1,363 568.7,362.5 569.3,361.9 569.9,361.1 570.5,360.2 571.1,359.2 571.7,358.1 572.3,357 572.9,355.8 573.5,354.7 574.1,353.7 574.7,352.9 575.3,352.3 575.9,352 576.5,352.1 577.1,352.4 577.7,353.1 578.3,353.9 578.9,354.9 579.5,356 580.1,357.2 580.7,358.3 581.3,359.3 581.9,360.2 582.5,361 583.1,361.7 583.7,362.2 584.3,362.7 584.9,363 585.5,363.2 586.1,363.4 586.7,363.5 587.3,363.6 587.9,363.7 588.5,363.7 589.1,363.7 589.7,363.7 590.3,363.7 590.9,363.7 591.5,363.7 592.1,363.7 592.7,363.7 593.3,363.7 593.9,363.7 594.5,363.7 595.1,363.6 595.7,363.6 596.3,363.6 596.9,363.6 597.5,363.6 598.1,363.6 598.7,363.6 599.3,363.6 599.9,363.5 600.5,363.5 601.1,363.5 601.7,363.5 602.3,363.5 602.9,363.5 603.5,363.5 604.1,363.4 604.7,363.4 605.3,363.4 605.9,363.4 606.5,363.4 607.1,363.4 607.7,363.3 608.3,363.3 608.9,363.3 609.5,363.3 610.1,363.3 610.7,363.3 610.7,363.3 610.1,363.3 609.5,363.3 608.9,363.3 608.3,363.4 607.7,363.4 607.1,363.4 606.5,363.4 605.9,363.4 605.3,363.4 604.7,363.5 604.1,363.5 603.5,363.5 602.9,363.5 602.3,363.5 601.7,363.5 601.1,363.5 600.5,363.6 599.9,363.6 599.3,363.6 598.7,363.6 598.1,363.6 597.5,363.6 596.9,363.7 596.3,363.7 595.7,363.7 595.1,363.7 594.5,363.7 593.9,363.7 593.3,363.8 592.7,363.8 592.1,363.8 591.5,363.8 590.9,363.8 590.3,363.8 589.7,363.9 589.1,363.9 588.5,363.9 587.9,363.9 587.3,363.9 586.7,363.9 586.1,363.9 585.5,364 584.9,364 584.3,364 583.7,364 583.1,364 582.5,364 581.9,364.1 581.3,364.1 580.7,364.1 580.1,364.1 579.5,364.1 578.9,364.1 578.3,364.2 577.7,364.2 577.1,364.2 576.5,364.2 575.9,364.2 575.3,364.2 574.7,364.2 574.1,364.3 573.5,364.3 572.9,364.3 572.3,364.3 571.7,364.3 571.1,364.3 570.5,364.4 569.9,364.4 569.3,364.4 568.7,364.4 568.1,364.4 567.5,364.4 566.9,364.5 566.3,364.5 565.7,364.5 565.1,364.5 564.5,364.5 563.9,364.5 563.3,364.6 562.7,364.6 562.1,364.6 561.5,364.6 560.9,364.6 560.3,364.6 559.7,364.6 559.1,364.7 558.5,364.7 557.9,364.7 557.3,364.7 556.7,364.7 556.1,364.7 555.5,364.8 554.9,364.8 554.3,364.8 553.7,364.8 553.1,364.8 552.5,364.8 551.9,364.9 551.3,364.9 550.7,364.9 550.1,364.9 549.5,364.9 548.9,364.9 548.3,365 547.7,365 547.1,365 546.5,365 545.9,365 545.3,365 544.7,365 544.1,365.1 543.5,365.1 542.9,365.1 542.3,365.1 541.7,365.1 541.1,365.1 540.5,365.2 539.9,365.2 539.3,365.2 538.7,365.2 538.1,365.2 537.5,365.2 536.9,365.3 536.3,365.3 535.7,365.3 535.1,365.3 534.5,365.3 533.9,365.3 533.3,365.3 532.7,365.4 532.1,365.4 531.5,365.4 530.9,365.4 530.3,365.4 529.7,365.4 529.1,365.5 528.5,365.5 527.9,365.5 527.3,365.5 526.7,365.5 526.1,365.5 525.5,365.6 524.9,365.6 524.3,365.6 523.7,365.6 523.1,365.6 522.5,365.6 521.9,365.7 521.3,365.7 520.7,365.7 520.1,365.7 519.5,365.7 518.9,365.7 518.3,365.7 517.7,365.8 517.1,365.8 516.5,365.8 515.9,365.8 515.3,365.8 514.7,365.8 514.1,365.9 513.5,365.9 512.9,365.9 512.3,365.9 511.7,365.9 511.1,365.9 510.5,366 509.9,366 509.3,366 508.7,366 508.1,366 507.5,366 506.9,366.1 506.3,366.1 505.7,366.1 505.1,366.1 504.5,366.1 503.9,366.1 503.3,366.1 502.7,366.2 502.1,366.2 501.5,366.2 500.9,366.2 500.3,366.2 499.7,366.2 499.1,366.3 498.5,366.3 497.9,366.3 497.3,366.3 496.7,366.3 496.1,366.3 495.5,366.4 494.9,366.4 494.3,366.4 493.7,366.4 493.1,366.4 492.5,366.4 491.9,366.4 491.3,366.5 490.7,366.5 490.1,366.5 489.5,366.5 488.9,366.5 488.3,366.5 487.7,366.6 487.1,366.6 486.5,366.6 485.9,366.6 485.3,366.6 484.7,366.6 484.1,366.7 483.5,366.7 482.9,366.7 482.3,366.7 481.7,366.7 481.1,366.7 480.5,366.8 479.9,366.8 479.3,366.8 478.7,366.8 478.1,366.8 477.5,366.8 476.9,366.8 476.3,366.9 475.7,366.9 475.1,366.9 474.5,366.9 473.9,366.9 473.3,366.9 472.7,367 472.1,367 471.5,367 470.9,367 470.3,367 469.7,367 469.1,367.1 468.5,367.1 467.9,367.1 467.3,367.1 466.7,367.1 466.1,367.1 465.5,367.2 464.9,367.2 464.3,367.2 463.7,367.2 463.1,367.2 462.5,367.2 461.9,367.2 461.3,367.3 460.7,367.3 460.1,367.3" fill="#50b850" fill-opacity="0.75"/>
<polyline points="460,367 462.2,366.7 465.4,367.1 469.1,366.7 473,366.5 476.7,366.9 480,367.7 482.9,367.4 485.7,367.2 488.4,366.2 490.9,366.6 493.1,366.1 495,365.8 496.4,365.6 497.5,365.6 498.3,366.6 498.9,366.4 499.4,366.2 500,366.1 500.6,365 501,365.1 501.4,365.5 501.8,365.6 502.1,365.6 502.5,365.4 502.9,363.8 503.4,364.2 503.8,363.9 504.2,363.1 504.6,361.9 505,361.8 505.4,360.4 505.7,360.9 506.1,359.9 506.4,358.5 506.7,357.1 507,357.2 507.3,355.6 507.6,355 507.8,353.8 508,352.2 508.3,351 508.5,350.4 508.7,349.2 508.9,348 509.1,347.5 509.3,347.6 509.4,345.8 509.6,345.3 509.8,345.8 509.9,344.9 510.1,345.1 510.2,344.8 510.4,344.4 510.5,345.3 510.6,343.9 510.7,344.1 510.9,343.7 511,344.4 511.1,343.8 511.2,344 511.3,344.7 511.5,344.1 511.6,344.6 511.8,345.3 511.9,344.1 512.1,344.2 512.2,344.6 512.4,345.6 512.5,345.5 512.7,345 512.8,345.3 513,345.1 513.2,345.5 513.3,344.8 513.5,345.8 513.7,346.1 513.8,346.1 514,345.7 514.2,346 514.3,344.4 514.5,344.7 514.7,345.7 514.8,345.4 515,344.8 515.2,345.6 515.3,345.1 515.5,345.5 515.7,344.7 515.8,344.7 516,345.2 516.2,344.9 516.4,345.4 516.6,346.6 516.8,345.8 517,345.6 517.2,346 517.4,346.6 517.6,348 517.9,347.8 518.1,348.2 518.3,348.4 518.5,350.4 518.7,350.1 518.9,350.4 519.1,350.8 519.3,351.5 519.5,352.4 519.7,353.9 519.9,353.7 520.1,354.3 520.3,355.7 520.5,356 520.8,357.9 521,357.2 521.3,358.5 521.5,359.5 521.8,359.5 522.2,361 522.5,360.8 522.8,360.9 523.1,361.6 523.5,361.4 523.8,362.4 524.2,362.4 524.6,363.7 525,363.9 525.4,363.6 525.8,363.1 526.2,363.7 526.7,363.8 527.3,363.9 528,364.1 528.8,365.2 529.7,364.2 530.8,364.1 531.9,365.6 533.3,365.1 535,365.8 537.1,364.9 539.7,365.6 542.4,365.2 545.2,365.4 547.8,365.2 550,364.8 551.8,364.1 553.3,364.3 554.6,365.4 555.8,365.4 556.9,365.4 558,364.3 559,364.7 559.9,364.7 560.8,364.3 561.5,364.3 562.2,363.5 562.8,363.4 563.3,363.2 563.7,362.2 564,362.9 564.3,362.5 564.6,360.7 565,361.6 565.4,360.9 565.8,359.7 566.3,357.9 566.7,358.4 567.1,356.4 567.5,356.9 567.9,355.7 568.2,354 568.6,353.5 568.9,353.6 569.2,352.8 569.5,352.6 569.8,352.4 570,350.9 570.2,350.2 570.4,351.4 570.6,349.7 570.8,350.9 571,349.5 571.2,350.5 571.4,350.3 571.6,350.4 571.8,349.8 572,350.2 572.2,349 572.4,349.6 572.7,349 572.9,349.7 573.2,349.5 573.4,349 573.7,349.1 573.9,348.3 574.2,348.4 574.4,349.4 574.7,349.4 575,350.1 575.3,349.8 575.6,349.1 575.9,349.5 576.3,350.3 576.6,350 576.9,349.4 577.2,351 577.4,351.3 577.7,350.5 577.9,351.6 578.2,351.9 578.5,353.1 578.8,353 579.2,353.7 579.6,355 580,356.6 580.4,356.1 580.8,356.8 581.2,358.1 581.5,359 581.8,358.8 582.2,359 582.6,360 583,360.2 583.5,359.4 584,361 584.6,360.2 585.1,360.6 585.7,361.7 586.3,361.3 586.8,362.1 587.3,361.2 587.7,362.5 588.3,361.5 589,361.6 590,362.3 591.3,362.2 592.8,362.6 594.5,363.2 596.3,363 598.1,361.9 600,362.5 602,362.9 604.3,362.9 606.6,363.3 608.8,362.9 610.7,362.3 612,362.6" fill="none" stroke="#8a8a7a" stroke-width="0.7" stroke-linejoin="round" />
<polyline points="460,367.4 462.2,367.4 465.4,367.3 469.1,367.2 473,367.2 476.7,367.1 480,367 482.9,366.9 485.7,366.8 488.4,366.7 490.9,366.5 493.1,366.4 495,366.3 496.4,366.2 497.5,366.1 498.3,366 498.9,365.8 499.4,365.7 500,365.6 500.6,365.5 501,365.4 501.4,365.3 501.8,365.2 502.1,365.1 502.5,364.8 502.9,364.5 503.4,364 503.8,363.6 504.2,363.1 504.6,362.5 505,361.8 505.4,361.1 505.7,360.2 506.1,359.4 506.4,358.4 506.7,357.5 507,356.5 507.3,355.5 507.6,354.4 507.8,353.3 508,352.2 508.3,351.1 508.5,350.2 508.7,349.3 508.9,348.5 509.1,347.8 509.3,347.1 509.4,346.5 509.6,346 509.8,345.6 509.9,345.3 510.1,345 510.2,344.8 510.4,344.6 510.5,344.5 510.6,344.4 510.7,344.3 510.9,344.2 511,344.2 511.1,344.2 511.2,344.2 511.3,344.3 511.5,344.4 511.6,344.5 511.8,344.6 511.9,344.8 512.1,344.9 512.2,345 512.4,345.2 512.5,345.3 512.7,345.4 512.8,345.5 513,345.6 513.2,345.6 513.3,345.6 513.5,345.5 513.7,345.4 513.8,345.4 514,345.3 514.2,345.2 514.3,345.1 514.5,345.1 514.7,345 514.8,344.9 515,344.9 515.2,344.9 515.3,344.9 515.5,345 515.7,345.1 515.8,345.2 516,345.3 516.2,345.5 516.4,345.6 516.6,345.8 516.8,346.1 517,346.4 517.2,346.7 517.4,347.1 517.6,347.5 517.9,348 518.1,348.5 518.3,349 518.5,349.6 518.7,350.2 518.9,350.8 519.1,351.5 519.3,352.2 519.5,352.9 519.7,353.6 519.9,354.3 520.1,355 520.3,355.7 520.5,356.4 520.8,357.1 521,357.8 521.3,358.4 521.5,359.1 521.8,359.7 522.2,360.3 522.5,360.8 522.8,361.3 523.1,361.7 523.5,362.1 523.8,362.5 524.2,362.8 524.6,363.1 525,363.4 525.4,363.6 525.8,363.9 526.2,364 526.7,364.2 527.3,364.4 528,364.5 528.8,364.6 529.7,364.7 530.8,364.8 531.9,364.9 533.3,365 535,365 537.1,365 539.7,365 542.4,364.9 545.2,364.9 547.8,364.8 550,364.8 551.8,364.8 553.3,364.8 554.6,364.8 555.8,364.8 556.9,364.7 558,364.6 559,364.4 559.9,364.3 560.8,364 561.5,363.8 562.2,363.5 562.8,363.2 563.3,362.9 563.7,362.6 564,362.2 564.3,361.8 564.6,361.3 565,360.8 565.4,360.2 565.8,359.4 566.3,358.6 566.7,357.8 567.1,357 567.5,356.2 567.9,355.5 568.2,354.7 568.6,354 568.9,353.4 569.2,352.7 569.5,352.2 569.8,351.7 570,351.4 570.2,351 570.4,350.8 570.6,350.5 570.8,350.3 571,350.1 571.2,350 571.4,349.9 571.6,349.8 571.8,349.7 572,349.6 572.2,349.5 572.4,349.4 572.7,349.2 572.9,349.1 573.2,349 573.4,349 573.7,349 573.9,349.1 574.2,349.2 574.4,349.3 574.7,349.4 575,349.5 575.3,349.6 575.6,349.7 575.9,349.7 576.3,349.8 576.6,350 576.9,350.2 577.2,350.5 577.4,350.8 577.7,351.1 577.9,351.6 578.2,352 578.5,352.6 578.8,353.3 579.2,354.1 579.6,355 580,355.9 580.4,356.7 580.8,357.4 581.2,357.9 581.5,358.4 581.8,358.8 582.2,359.1 582.6,359.5 583,359.8 583.5,360.1 584,360.4 584.6,360.7 585.1,360.9 585.7,361.2 586.3,361.4 586.8,361.6 587.3,361.8 587.7,361.9 588.3,362.1 589,362.2 590,362.3 591.3,362.4 592.8,362.5 594.5,362.6 596.3,362.7 598.1,362.7 600,362.8 602,362.9 604.3,362.9 606.6,362.9 608.8,363 610.7,363 612,363" fill="none" stroke="#1a1a1a" stroke-width="1.1" stroke-linejoin="round" />
<line x1="460.1" y1="367.4" x2="611.2" y2="363.2" stroke="#8a7a4a" stroke-width="0.6"/>
</g>
<rect x="456.1" y="341.7" width="158.1" height="30.3" fill="none" stroke="#555" stroke-width="1" />
<line x1="464.1" y1="372" x2="464.1" y2="369" stroke="#555" stroke-width="0.7"/>
<line x1="471.3" y1="372" x2="471.3" y2="370.5" stroke="#555" stroke-width="0.7"/>
<line x1="478.4" y1="372" x2="478.4" y2="370.5" stroke="#555" stroke-width="0.7"/>
<line x1="485.6" y1="372" x2="485.6" y2="370.5" stroke="#555" stroke-width="0.7"/>
<line x1="492.7" y1="372" x2="492.7" y2="370.5" stroke="#555" stroke-width="0.7"/>
<line x1="499.9" y1="372" x2="499.9" y2="369" stroke="#555" stroke-width="0.7"/>
<line x1="507.1" y1="372" x2="507.1" y2="370.5" stroke="#555" stroke-width="0.7"/>
<line x1="514.2" y1="372" x2="514.2" y2="370.5" stroke="#555" stroke-width="0.7"/>
<line x1="521.4" y1="372" x2="521.4" y2="370.5" stroke="#555" stroke-width="0.7"/>
<line x1="528.5" y1="372" x2="528.5" y2="370.5" stroke="#555" stroke-width="0.7"/>
<line x1="535.7" y1="372" x2="535.7" y2="369" stroke="#555" stroke-width="0.7"/>
<line x1="542.9" y1="372" x2="542.9" y2="370.5" stroke="#555" stroke-width="0.7"/>
<line x1="550" y1="372" x2="550" y2="370.5" stroke="#555" stroke-width="0.7"/>
<line x1="557.2" y1="372" x2="557.2" y2="370.5" stroke="#555" stroke-width="0.7"/>
<line x1="564.3" y1="372" x2="564.3" y2="370.5" stroke="#555" stroke-width="0.7"/>
<line x1="571.5" y1="372" x2="571.5" y2="369" stroke="#555" stroke-width="0.7"/>
<line x1="578.7" y1="372" x2="578.7" y2="370.5" stroke="#555" stroke-width="0.7"/>
<line x1="585.8" y1="372" x2="585.8" y2="370.5" stroke="#555" stroke-width="0.7"/>
<line x1="593" y1="372" x2="593" y2="370.5" stroke="#555" stroke-width="0.7"/>
<line x1="600.1" y1="372" x2="600.1" y2="370.5" stroke="#555" stroke-width="0.7"/>
<line x1="607.3" y1="372" x2="607.3" y2="369" stroke="#555" stroke-width="0.7"/>
<text x="464.1" y="382.2" font-size="9" fill="#1a1a1a" stroke="#1a1a1a" stroke-width="0.28" text-anchor="middle" >480</text>
<text x="499.9" y="382.2" font-size="9" fill="#1a1a1a" stroke="#1a1a1a" stroke-width="0.28" text-anchor="middle" >485</text>
<text x="535.7" y="382.2" font-size="9" fill="#1a1a1a" stroke="#1a1a1a" stroke-width="0.28" text-anchor="middle" >490</text>
<text x="571.5" y="382.2" font-size="9" fill="#1a1a1a" stroke="#1a1a1a" stroke-width="0.28" text-anchor="middle" >495</text>
<text x="607.3" y="382.2" font-size="9" fill="#1a1a1a" stroke="#1a1a1a" stroke-width="0.28" text-anchor="middle" >500</text>
<text x="457.8" y="352" font-size="9.2" fill="#1a1a1a" stroke="#1a1a1a" stroke-width="0.28" text-anchor="start" >Sn 3d</text>
<text x="488" y="362.2" font-size="9.2" fill="#1a1a1a" stroke="#1a1a1a" stroke-width="0.28" text-anchor="start" >Sn<tspan font-size="5.5" dy="-4">2+</tspan></text>
<text x="520.4" y="349.5" font-size="9.2" fill="#1a1a1a" stroke="#1a1a1a" stroke-width="0.28" text-anchor="start" >3d5/2</text>
<text x="524.8" y="361" font-size="9.2" fill="#1a1a1a" stroke="#1a1a1a" stroke-width="0.28" text-anchor="start" >Sn<tspan font-size="5.5" dy="-4">4+</tspan></text>
<text x="581.5" y="353.8" font-size="9.2" fill="#1a1a1a" stroke="#1a1a1a" stroke-width="0.28" text-anchor="start" >3d3/2</text>
<g clip-path="url(#clipin)">
<polygon points="460.1,409.5 460.7,409.5 461.3,409.4 461.9,409.4 462.5,409.4 463.1,409.4 463.7,409.4 464.3,409.4 464.9,409.4 465.5,409.4 466.1,409.4 466.7,409.4 467.3,409.4 467.9,409.4 468.5,409.3 469.1,409.3 469.7,409.3 470.3,409.3 470.9,409.3 471.5,409.3 472.1,409.3 472.7,409.3 473.3,409.3 473.9,409.2 474.5,409.2 475.1,409.2 475.7,409.2 476.3,409.2 476.9,409.2 477.5,409.2 478.1,409.1 478.7,409.1 479.3,409.1 479.9,409.1 480.5,409.1 481.1,409 481.7,409 482.3,409 482.9,409 483.5,408.9 484.1,408.9 484.7,408.9 485.3,408.8 485.9,408.8 486.5,408.7 487.1,408.7 487.7,408.6 488.3,408.6 488.9,408.5 489.5,408.5 490.1,408.4 490.7,408.3 491.3,408.2 491.9,408.1 492.5,408 493.1,407.8 493.7,407.6 494.3,407.4 494.9,407.1 495.5,406.7 496.1,406.3 496.7,405.7 497.3,405 497.9,404.2 498.5,403.2 499.1,402 499.7,400.6 500.3,399.1 500.9,397.3 501.5,395.5 502.1,393.6 502.7,391.8 503.3,390.1 503.9,388.8 504.5,388 505.1,387.8 505.7,388.3 506.3,389.3 506.9,390.8 507.5,392.5 508.1,394.4 508.7,396.2 509.3,398 509.9,399.7 510.5,401.1 511.1,402.4 511.7,403.5 512.3,404.5 512.9,405.2 513.5,405.9 514.1,406.4 514.7,406.8 515.3,407.1 515.9,407.3 516.5,407.6 517.1,407.7 517.7,407.9 518.3,408 518.9,408.1 519.5,408.2 520.1,408.2 520.7,408.3 521.3,408.4 521.9,408.4 522.5,408.4 523.1,408.5 523.7,408.5 524.3,408.6 524.9,408.6 525.5,408.6 526.1,408.6 526.7,408.7 527.3,408.7 527.9,408.7 528.5,408.7 529.1,408.7 529.7,408.8 530.3,408.8 530.9,408.8 531.5,408.8 532.1,408.8 532.7,408.8 533.3,408.8 533.9,408.8 534.5,408.8 535.1,408.8 535.7,408.8 536.3,408.9 536.9,408.9 537.5,408.9 538.1,408.9 538.7,408.9 539.3,408.9 539.9,408.9 540.5,408.9 541.1,408.9 541.7,408.9 542.3,408.9 542.9,408.9 543.5,408.9 544.1,408.9 544.7,408.9 545.3,408.9 545.9,408.9 546.5,408.9 547.1,408.9 547.7,408.9 548.3,408.9 548.9,408.9 549.5,408.9 550.1,408.9 550.7,408.9 551.3,408.9 551.9,408.9 552.5,408.9 553.1,408.9 553.7,408.9 554.3,408.9 554.9,408.9 555.5,408.9 556.1,408.9 556.7,408.9 557.3,408.9 557.9,408.9 558.5,408.9 559.1,408.9 559.7,408.9 560.3,408.9 560.9,408.9 561.5,408.9 562.1,408.9 562.7,408.9 563.3,408.9 563.9,408.8 564.5,408.8 565.1,408.8 565.7,408.8 566.3,408.8 566.9,408.8 567.5,408.8 568.1,408.8 568.7,408.8 569.3,408.8 569.9,408.8 570.5,408.8 571.1,408.8 571.7,408.8 572.3,408.8 572.9,408.8 573.5,408.8 574.1,408.8 574.7,408.8 575.3,408.8 575.9,408.8 576.5,408.8 577.1,408.8 577.7,408.8 578.3,408.8 578.9,408.8 579.5,408.8 580.1,408.8 580.7,408.8 581.3,408.8 581.9,408.8 582.5,408.8 583.1,408.8 583.7,408.8 584.3,408.8 584.9,408.7 585.5,408.7 586.1,408.7 586.7,408.7 587.3,408.7 587.9,408.7 588.5,408.7 589.1,408.7 589.7,408.7 590.3,408.7 590.9,408.7 591.5,408.7 592.1,408.7 592.7,408.7 593.3,408.7 593.9,408.7 594.5,408.7 595.1,408.7 595.7,408.7 596.3,408.7 596.9,408.7 597.5,408.7 598.1,408.7 598.7,408.7 599.3,408.7 599.9,408.7 600.5,408.7 601.1,408.7 601.7,408.7 602.3,408.7 602.9,408.6 603.5,408.6 604.1,408.6 604.7,408.6 605.3,408.6 605.9,408.6 606.5,408.6 607.1,408.6 607.7,408.6 608.3,408.6 608.9,408.6 609.5,408.6 610.1,408.6 610.7,408.6 610.7,408.6 610.1,408.6 609.5,408.6 608.9,408.6 608.3,408.6 607.7,408.6 607.1,408.6 606.5,408.6 605.9,408.7 605.3,408.7 604.7,408.7 604.1,408.7 603.5,408.7 602.9,408.7 602.3,408.7 601.7,408.7 601.1,408.7 600.5,408.7 599.9,408.7 599.3,408.7 598.7,408.7 598.1,408.7 597.5,408.7 596.9,408.7 596.3,408.7 595.7,408.7 595.1,408.7 594.5,408.7 593.9,408.7 593.3,408.7 592.7,408.7 592.1,408.7 591.5,408.7 590.9,408.7 590.3,408.8 589.7,408.8 589.1,408.8 588.5,408.8 587.9,408.8 587.3,408.8 586.7,408.8 586.1,408.8 585.5,408.8 584.9,408.8 584.3,408.8 583.7,408.8 583.1,408.8 582.5,408.8 581.9,408.8 581.3,408.8 580.7,408.8 580.1,408.8 579.5,408.8 578.9,408.8 578.3,408.8 577.7,408.8 577.1,408.8 576.5,408.8 575.9,408.8 575.3,408.8 574.7,408.8 574.1,408.9 573.5,408.9 572.9,408.9 572.3,408.9 571.7,408.9 571.1,408.9 570.5,408.9 569.9,408.9 569.3,408.9 568.7,408.9 568.1,408.9 567.5,408.9 566.9,408.9 566.3,408.9 565.7,408.9 565.1,408.9 564.5,408.9 563.9,408.9 563.3,408.9 562.7,408.9 562.1,408.9 561.5,408.9 560.9,408.9 560.3,408.9 559.7,408.9 559.1,408.9 558.5,409 557.9,409 557.3,409 556.7,409 556.1,409 555.5,409 554.9,409 554.3,409 553.7,409 553.1,409 552.5,409 551.9,409 551.3,409 550.7,409 550.1,409 549.5,409 548.9,409 548.3,409 547.7,409 547.1,409 546.5,409 545.9,409 545.3,409 544.7,409 544.1,409 543.5,409 542.9,409.1 542.3,409.1 541.7,409.1 541.1,409.1 540.5,409.1 539.9,409.1 539.3,409.1 538.7,409.1 538.1,409.1 537.5,409.1 536.9,409.1 536.3,409.1 535.7,409.1 535.1,409.1 534.5,409.1 533.9,409.1 533.3,409.1 532.7,409.1 532.1,409.1 531.5,409.1 530.9,409.1 530.3,409.1 529.7,409.1 529.1,409.1 528.5,409.1 527.9,409.1 527.3,409.1 526.7,409.2 526.1,409.2 525.5,409.2 524.9,409.2 524.3,409.2 523.7,409.2 523.1,409.2 522.5,409.2 521.9,409.2 521.3,409.2 520.7,409.2 520.1,409.2 519.5,409.2 518.9,409.2 518.3,409.2 517.7,409.2 517.1,409.2 516.5,409.2 515.9,409.2 515.3,409.2 514.7,409.2 514.1,409.2 513.5,409.2 512.9,409.2 512.3,409.2 511.7,409.2 511.1,409.3 510.5,409.3 509.9,409.3 509.3,409.3 508.7,409.3 508.1,409.3 507.5,409.3 506.9,409.3 506.3,409.3 505.7,409.3 505.1,409.3 504.5,409.3 503.9,409.3 503.3,409.3 502.7,409.3 502.1,409.3 501.5,409.3 500.9,409.3 500.3,409.3 499.7,409.3 499.1,409.3 498.5,409.3 497.9,409.3 497.3,409.3 496.7,409.3 496.1,409.3 495.5,409.4 494.9,409.4 494.3,409.4 493.7,409.4 493.1,409.4 492.5,409.4 491.9,409.4 491.3,409.4 490.7,409.4 490.1,409.4 489.5,409.4 488.9,409.4 488.3,409.4 487.7,409.4 487.1,409.4 486.5,409.4 485.9,409.4 485.3,409.4 484.7,409.4 484.1,409.4 483.5,409.4 482.9,409.4 482.3,409.4 481.7,409.4 481.1,409.4 480.5,409.4 479.9,409.4 479.3,409.5 478.7,409.5 478.1,409.5 477.5,409.5 476.9,409.5 476.3,409.5 475.7,409.5 475.1,409.5 474.5,409.5 473.9,409.5 473.3,409.5 472.7,409.5 472.1,409.5 471.5,409.5 470.9,409.5 470.3,409.5 469.7,409.5 469.1,409.5 468.5,409.5 467.9,409.5 467.3,409.5 466.7,409.5 466.1,409.5 465.5,409.5 464.9,409.5 464.3,409.5 463.7,409.6 463.1,409.6 462.5,409.6 461.9,409.6 461.3,409.6 460.7,409.6 460.1,409.6" fill="#4cb4bc" fill-opacity="0.75"/>
<polygon points="460.1,409.6 460.7,409.6 461.3,409.5 461.9,409.5 462.5,409.5 463.1,409.5 463.7,409.5 464.3,409.5 464.9,409.5 465.5,409.5 466.1,409.5 466.7,409.5 467.3,409.5 467.9,409.5 468.5,409.5 469.1,409.5 469.7,409.5 470.3,409.5 470.9,409.5 471.5,409.5 472.1,409.5 472.7,409.5 473.3,409.5 473.9,409.5 474.5,409.5 475.1,409.5 475.7,409.4 476.3,409.4 476.9,409.4 477.5,409.4 478.1,409.4 478.7,409.4 479.3,409.4 479.9,409.4 480.5,409.4 481.1,409.4 481.7,409.4 482.3,409.4 482.9,409.4 483.5,409.4 484.1,409.4 484.7,409.4 485.3,409.4 485.9,409.4 486.5,409.4 487.1,409.4 487.7,409.4 488.3,409.4 488.9,409.4 489.5,409.3 490.1,409.3 490.7,409.3 491.3,409.3 491.9,409.3 492.5,409.3 493.1,409.3 493.7,409.3 494.3,409.3 494.9,409.3 495.5,409.3 496.1,409.3 496.7,409.3 497.3,409.3 497.9,409.3 498.5,409.3 499.1,409.3 499.7,409.3 500.3,409.3 500.9,409.3 501.5,409.3 502.1,409.2 502.7,409.2 503.3,409.2 503.9,409.2 504.5,409.2 505.1,409.2 505.7,409.2 506.3,409.2 506.9,409.2 507.5,409.2 508.1,409.2 508.7,409.2 509.3,409.2 509.9,409.2 510.5,409.2 511.1,409.2 511.7,409.2 512.3,409.2 512.9,409.1 513.5,409.1 514.1,409.1 514.7,409.1 515.3,409.1 515.9,409.1 516.5,409.1 517.1,409.1 517.7,409.1 518.3,409.1 518.9,409.1 519.5,409.1 520.1,409.1 520.7,409.1 521.3,409 521.9,409 522.5,409 523.1,409 523.7,409 524.3,409 524.9,409 525.5,409 526.1,409 526.7,409 527.3,408.9 527.9,408.9 528.5,408.9 529.1,408.9 529.7,408.9 530.3,408.9 530.9,408.9 531.5,408.8 532.1,408.8 532.7,408.8 533.3,408.8 533.9,408.8 534.5,408.7 535.1,408.7 535.7,408.7 536.3,408.7 536.9,408.6 537.5,408.6 538.1,408.6 538.7,408.5 539.3,408.5 539.9,408.5 540.5,408.4 541.1,408.4 541.7,408.3 542.3,408.2 542.9,408.2 543.5,408.1 544.1,408 544.7,407.8 545.3,407.7 545.9,407.5 546.5,407.3 547.1,407 547.7,406.6 548.3,406.2 548.9,405.7 549.5,405.1 550.1,404.3 550.7,403.5 551.3,402.5 551.9,401.5 552.5,400.3 553.1,399.2 553.7,397.9 554.3,396.8 554.9,395.8 555.5,395 556.1,394.6 556.7,394.5 557.3,394.8 557.9,395.5 558.5,396.4 559.1,397.5 559.7,398.7 560.3,399.9 560.9,401 561.5,402.1 562.1,403.1 562.7,404 563.3,404.7 563.9,405.4 564.5,405.9 565.1,406.4 565.7,406.7 566.3,407 566.9,407.3 567.5,407.5 568.1,407.6 568.7,407.8 569.3,407.9 569.9,408 570.5,408 571.1,408.1 571.7,408.2 572.3,408.2 572.9,408.2 573.5,408.3 574.1,408.3 574.7,408.3 575.3,408.4 575.9,408.4 576.5,408.4 577.1,408.4 577.7,408.4 578.3,408.5 578.9,408.5 579.5,408.5 580.1,408.5 580.7,408.5 581.3,408.5 581.9,408.5 582.5,408.5 583.1,408.6 583.7,408.6 584.3,408.6 584.9,408.6 585.5,408.6 586.1,408.6 586.7,408.6 587.3,408.6 587.9,408.6 588.5,408.6 589.1,408.6 589.7,408.6 590.3,408.6 590.9,408.6 591.5,408.6 592.1,408.6 592.7,408.6 593.3,408.6 593.9,408.6 594.5,408.6 595.1,408.6 595.7,408.6 596.3,408.6 596.9,408.6 597.5,408.6 598.1,408.6 598.7,408.6 599.3,408.6 599.9,408.6 600.5,408.6 601.1,408.6 601.7,408.6 602.3,408.6 602.9,408.6 603.5,408.6 604.1,408.6 604.7,408.6 605.3,408.6 605.9,408.6 606.5,408.6 607.1,408.6 607.7,408.6 608.3,408.6 608.9,408.6 609.5,408.6 610.1,408.6 610.7,408.6 610.7,408.6 610.1,408.6 609.5,408.6 608.9,408.6 608.3,408.6 607.7,408.6 607.1,408.6 606.5,408.6 605.9,408.7 605.3,408.7 604.7,408.7 604.1,408.7 603.5,408.7 602.9,408.7 602.3,408.7 601.7,408.7 601.1,408.7 600.5,408.7 599.9,408.7 599.3,408.7 598.7,408.7 598.1,408.7 597.5,408.7 596.9,408.7 596.3,408.7 595.7,408.7 595.1,408.7 594.5,408.7 593.9,408.7 593.3,408.7 592.7,408.7 592.1,408.7 591.5,408.7 590.9,408.7 590.3,408.8 589.7,408.8 589.1,408.8 588.5,408.8 587.9,408.8 587.3,408.8 586.7,408.8 586.1,408.8 585.5,408.8 584.9,408.8 584.3,408.8 583.7,408.8 583.1,408.8 582.5,408.8 581.9,408.8 581.3,408.8 580.7,408.8 580.1,408.8 579.5,408.8 578.9,408.8 578.3,408.8 577.7,408.8 577.1,408.8 576.5,408.8 575.9,408.8 575.3,408.8 574.7,408.8 574.1,408.9 573.5,408.9 572.9,408.9 572.3,408.9 571.7,408.9 571.1,408.9 570.5,408.9 569.9,408.9 569.3,408.9 568.7,408.9 568.1,408.9 567.5,408.9 566.9,408.9 566.3,408.9 565.7,408.9 565.1,408.9 564.5,408.9 563.9,408.9 563.3,408.9 562.7,408.9 562.1,408.9 561.5,408.9 560.9,408.9 560.3,408.9 559.7,408.9 559.1,408.9 558.5,409 557.9,409 557.3,409 556.7,409 556.1,409 555.5,409 554.9,409 554.3,409 553.7,409 553.1,409 552.5,409 551.9,409 551.3,409 550.7,409 550.1,409 549.5,409 548.9,409 548.3,409 547.7,409 547.1,409 546.5,409 545.9,409 545.3,409 544.7,409 544.1,409 543.5,409 542.9,409.1 542.3,409.1 541.7,409.1 541.1,409.1 540.5,409.1 539.9,409.1 539.3,409.1 538.7,409.1 538.1,409.1 537.5,409.1 536.9,409.1 536.3,409.1 535.7,409.1 535.1,409.1 534.5,409.1 533.9,409.1 533.3,409.1 532.7,409.1 532.1,409.1 531.5,409.1 530.9,409.1 530.3,409.1 529.7,409.1 529.1,409.1 528.5,409.1 527.9,409.1 527.3,409.1 526.7,409.2 526.1,409.2 525.5,409.2 524.9,409.2 524.3,409.2 523.7,409.2 523.1,409.2 522.5,409.2 521.9,409.2 521.3,409.2 520.7,409.2 520.1,409.2 519.5,409.2 518.9,409.2 518.3,409.2 517.7,409.2 517.1,409.2 516.5,409.2 515.9,409.2 515.3,409.2 514.7,409.2 514.1,409.2 513.5,409.2 512.9,409.2 512.3,409.2 511.7,409.2 511.1,409.3 510.5,409.3 509.9,409.3 509.3,409.3 508.7,409.3 508.1,409.3 507.5,409.3 506.9,409.3 506.3,409.3 505.7,409.3 505.1,409.3 504.5,409.3 503.9,409.3 503.3,409.3 502.7,409.3 502.1,409.3 501.5,409.3 500.9,409.3 500.3,409.3 499.7,409.3 499.1,409.3 498.5,409.3 497.9,409.3 497.3,409.3 496.7,409.3 496.1,409.3 495.5,409.4 494.9,409.4 494.3,409.4 493.7,409.4 493.1,409.4 492.5,409.4 491.9,409.4 491.3,409.4 490.7,409.4 490.1,409.4 489.5,409.4 488.9,409.4 488.3,409.4 487.7,409.4 487.1,409.4 486.5,409.4 485.9,409.4 485.3,409.4 484.7,409.4 484.1,409.4 483.5,409.4 482.9,409.4 482.3,409.4 481.7,409.4 481.1,409.4 480.5,409.4 479.9,409.4 479.3,409.5 478.7,409.5 478.1,409.5 477.5,409.5 476.9,409.5 476.3,409.5 475.7,409.5 475.1,409.5 474.5,409.5 473.9,409.5 473.3,409.5 472.7,409.5 472.1,409.5 471.5,409.5 470.9,409.5 470.3,409.5 469.7,409.5 469.1,409.5 468.5,409.5 467.9,409.5 467.3,409.5 466.7,409.5 466.1,409.5 465.5,409.5 464.9,409.5 464.3,409.5 463.7,409.6 463.1,409.6 462.5,409.6 461.9,409.6 461.3,409.6 460.7,409.6 460.1,409.6" fill="#b458bc" fill-opacity="0.75"/>
<polyline points="460.1,409.4 460.7,409.4 461.3,409.4 461.9,409.4 462.5,409.4 463.1,409.4 463.7,409.4 464.3,409.4 464.9,409.4 465.5,409.4 466.1,409.4 466.7,409.3 467.3,409.3 467.9,409.3 468.5,409.3 469.1,409.3 469.7,409.3 470.3,409.3 470.9,409.3 471.5,409.3 472.1,409.3 472.7,409.2 473.3,409.2 473.9,409.2 474.5,409.2 475.1,409.2 475.7,409.2 476.3,409.2 476.9,409.1 477.5,409.1 478.1,409.1 478.7,409.1 479.3,409.1 479.9,409.1 480.5,409 481.1,409 481.7,409 482.3,409 482.9,408.9 483.5,408.9 484.1,408.9 484.7,408.8 485.3,408.8 485.9,408.8 486.5,408.7 487.1,408.7 487.7,408.6 488.3,408.6 488.9,408.5 489.5,408.4 490.1,408.3 490.7,408.3 491.3,408.2 491.9,408.1 492.5,407.9 493.1,407.8 493.7,407.6 494.3,407.3 494.9,407 495.5,406.7 496.1,406.2 496.7,405.7 497.3,405 497.9,404.1 498.5,403.1 499.1,401.9 499.7,400.6 500.3,399 500.9,397.3 501.5,395.5 502.1,393.6 502.7,391.7 503.3,390.1 503.9,388.8 504.5,387.9 505.1,387.7 505.7,388.2 506.3,389.2 506.9,390.7 507.5,392.4 508.1,394.3 508.7,396.1 509.3,397.9 509.9,399.6 510.5,401 511.1,402.3 511.7,403.4 512.3,404.4 512.9,405.1 513.5,405.8 514.1,406.3 514.7,406.7 515.3,407 515.9,407.2 516.5,407.4 517.1,407.6 517.7,407.7 518.3,407.9 518.9,407.9 519.5,408 520.1,408.1 520.7,408.2 521.3,408.2 521.9,408.3 522.5,408.3 523.1,408.3 523.7,408.4 524.3,408.4 524.9,408.4 525.5,408.4 526.1,408.5 526.7,408.5 527.3,408.5 527.9,408.5 528.5,408.5 529.1,408.5 529.7,408.5 530.3,408.5 530.9,408.5 531.5,408.5 532.1,408.5 532.7,408.5 533.3,408.5 533.9,408.5 534.5,408.5 535.1,408.5 535.7,408.5 536.3,408.4 536.9,408.4 537.5,408.4 538.1,408.4 538.7,408.3 539.3,408.3 539.9,408.3 540.5,408.2 541.1,408.2 541.7,408.1 542.3,408.1 542.9,408 543.5,407.9 544.1,407.8 544.7,407.7 545.3,407.5 545.9,407.4 546.5,407.1 547.1,406.8 547.7,406.5 548.3,406.1 548.9,405.5 549.5,404.9 550.1,404.2 550.7,403.4 551.3,402.4 551.9,401.4 552.5,400.2 553.1,399 553.7,397.8 554.3,396.7 554.9,395.7 555.5,394.9 556.1,394.5 556.7,394.4 557.3,394.7 557.9,395.4 558.5,396.3 559.1,397.4 559.7,398.6 560.3,399.8 560.9,401 561.5,402 562.1,403 562.7,403.9 563.3,404.7 563.9,405.3 564.5,405.9 565.1,406.3 565.7,406.7 566.3,407 566.9,407.2 567.5,407.4 568.1,407.6 568.7,407.7 569.3,407.8 569.9,407.9 570.5,408 571.1,408 571.7,408.1 572.3,408.1 572.9,408.2 573.5,408.2 574.1,408.3 574.7,408.3 575.3,408.3 575.9,408.3 576.5,408.4 577.1,408.4 577.7,408.4 578.3,408.4 578.9,408.4 579.5,408.5 580.1,408.5 580.7,408.5 581.3,408.5 581.9,408.5 582.5,408.5 583.1,408.5 583.7,408.5 584.3,408.5 584.9,408.5 585.5,408.5 586.1,408.5 586.7,408.5 587.3,408.5 587.9,408.6 588.5,408.6 589.1,408.6 589.7,408.6 590.3,408.6 590.9,408.6 591.5,408.6 592.1,408.6 592.7,408.6 593.3,408.6 593.9,408.6 594.5,408.6 595.1,408.6 595.7,408.6 596.3,408.6 596.9,408.6 597.5,408.6 598.1,408.6 598.7,408.6 599.3,408.6 599.9,408.6 600.5,408.6 601.1,408.6 601.7,408.6 602.3,408.6 602.9,408.6 603.5,408.6 604.1,408.6 604.7,408.6 605.3,408.6 605.9,408.6 606.5,408.6 607.1,408.6 607.7,408.6 608.3,408.5 608.9,408.5 609.5,408.5 610.1,408.5 610.7,408.5" fill="none" stroke="#1a1a1a" stroke-width="1.1" stroke-linejoin="round" />
<line x1="460.1" y1="409.6" x2="611.2" y2="408.6" stroke="#8a7a4a" stroke-width="0.6"/>
</g>
<rect x="456.1" y="384.1" width="158.1" height="30.5" fill="none" stroke="#555" stroke-width="1" />
<line x1="456.8" y1="414.6" x2="456.8" y2="413.1" stroke="#555" stroke-width="0.7"/>
<line x1="463.6" y1="414.6" x2="463.6" y2="413.1" stroke="#555" stroke-width="0.7"/>
<line x1="470.4" y1="414.6" x2="470.4" y2="411.6" stroke="#555" stroke-width="0.7"/>
<line x1="477.2" y1="414.6" x2="477.2" y2="413.1" stroke="#555" stroke-width="0.7"/>
<line x1="484" y1="414.6" x2="484" y2="413.1" stroke="#555" stroke-width="0.7"/>
<line x1="490.7" y1="414.6" x2="490.7" y2="413.1" stroke="#555" stroke-width="0.7"/>
<line x1="497.5" y1="414.6" x2="497.5" y2="413.1" stroke="#555" stroke-width="0.7"/>
<line x1="504.3" y1="414.6" x2="504.3" y2="411.6" stroke="#555" stroke-width="0.7"/>
<line x1="511.1" y1="414.6" x2="511.1" y2="413.1" stroke="#555" stroke-width="0.7"/>
<line x1="517.9" y1="414.6" x2="517.9" y2="413.1" stroke="#555" stroke-width="0.7"/>
<line x1="524.6" y1="414.6" x2="524.6" y2="413.1" stroke="#555" stroke-width="0.7"/>
<line x1="531.4" y1="414.6" x2="531.4" y2="413.1" stroke="#555" stroke-width="0.7"/>
<line x1="538.2" y1="414.6" x2="538.2" y2="411.6" stroke="#555" stroke-width="0.7"/>
<line x1="545" y1="414.6" x2="545" y2="413.1" stroke="#555" stroke-width="0.7"/>
<line x1="551.8" y1="414.6" x2="551.8" y2="413.1" stroke="#555" stroke-width="0.7"/>
<line x1="558.5" y1="414.6" x2="558.5" y2="413.1" stroke="#555" stroke-width="0.7"/>
<line x1="565.3" y1="414.6" x2="565.3" y2="413.1" stroke="#555" stroke-width="0.7"/>
<line x1="572.1" y1="414.6" x2="572.1" y2="411.6" stroke="#555" stroke-width="0.7"/>
<line x1="578.9" y1="414.6" x2="578.9" y2="413.1" stroke="#555" stroke-width="0.7"/>
<line x1="585.7" y1="414.6" x2="585.7" y2="413.1" stroke="#555" stroke-width="0.7"/>
<line x1="592.4" y1="414.6" x2="592.4" y2="413.1" stroke="#555" stroke-width="0.7"/>
<line x1="599.2" y1="414.6" x2="599.2" y2="413.1" stroke="#555" stroke-width="0.7"/>
<line x1="606" y1="414.6" x2="606" y2="411.6" stroke="#555" stroke-width="0.7"/>
<line x1="612.8" y1="414.6" x2="612.8" y2="413.1" stroke="#555" stroke-width="0.7"/>
<text x="470.4" y="424.3" font-size="9" fill="#1a1a1a" stroke="#1a1a1a" stroke-width="0.28" text-anchor="middle" >440</text>
<text x="504.3" y="424.3" font-size="9" fill="#1a1a1a" stroke="#1a1a1a" stroke-width="0.28" text-anchor="middle" >445</text>
<text x="538.2" y="424.3" font-size="9" fill="#1a1a1a" stroke="#1a1a1a" stroke-width="0.28" text-anchor="middle" >450</text>
<text x="572.1" y="424.3" font-size="9" fill="#1a1a1a" stroke="#1a1a1a" stroke-width="0.28" text-anchor="middle" >455</text>
<text x="606" y="424.3" font-size="9" fill="#1a1a1a" stroke="#1a1a1a" stroke-width="0.28" text-anchor="middle" >460</text>
<text x="458" y="393.2" font-size="9.2" fill="#1a1a1a" stroke="#1a1a1a" stroke-width="0.28" text-anchor="start" >In 3d</text>
<text x="512.8" y="397.8" font-size="9.2" fill="#1a1a1a" stroke="#1a1a1a" stroke-width="0.28" text-anchor="start" >3d5/2</text>
<text x="563.8" y="401.2" font-size="9.2" fill="#1a1a1a" stroke="#1a1a1a" stroke-width="0.28" text-anchor="start" >3d3/2</text>
<g clip-path="url(#clipo)">
<polygon points="460.6,452.2 461.2,452.2 461.8,452.2 462.4,452.2 463,452.1 463.6,452.1 464.2,452.1 464.8,452.1 465.4,452.1 466,452.1 466.6,452.1 467.2,452.1 467.8,452.1 468.4,452.1 469,452.1 469.6,452.1 470.2,452.1 470.8,452.1 471.4,452.1 472,452.1 472.6,452.1 473.2,452.1 473.8,452.1 474.4,452.1 475,452.1 475.6,452.1 476.2,452.1 476.8,452 477.4,452 478,452 478.6,452 479.2,452 479.8,452 480.4,452 481,452 481.6,452 482.2,452 482.8,452 483.4,452 484,452 484.6,452 485.2,452 485.8,452 486.4,452 487,452 487.6,452 488.2,452 488.8,451.9 489.4,451.9 490,451.9 490.6,451.9 491.2,451.9 491.8,451.9 492.4,451.9 493,451.9 493.6,451.9 494.2,451.9 494.8,451.9 495.4,451.9 496,451.8 496.6,451.8 497.2,451.8 497.8,451.8 498.4,451.8 499,451.8 499.6,451.8 500.2,451.7 500.8,451.7 501.4,451.6 502,451.6 502.6,451.5 503.2,451.3 503.8,451.1 504.4,450.8 505,450.4 505.6,449.8 506.2,449.1 506.8,448.2 507.4,447 508,445.8 508.6,444.4 509.2,442.9 509.8,441.6 510.4,440.4 511,439.5 511.6,439 512.2,439 512.8,439.5 513.4,440.4 514,441.5 514.6,442.9 515.2,444.3 515.8,445.7 516.4,447 517,448.1 517.6,449 518.2,449.8 518.8,450.3 519.4,450.7 520,451 520.6,451.2 521.2,451.4 521.8,451.5 522.4,451.5 523,451.6 523.6,451.6 524.2,451.6 524.8,451.6 525.4,451.6 526,451.6 526.6,451.6 527.2,451.6 527.8,451.6 528.4,451.6 529,451.7 529.6,451.7 530.2,451.7 530.8,451.7 531.4,451.7 532,451.7 532.6,451.7 533.2,451.7 533.8,451.7 534.4,451.7 535,451.7 535.6,451.7 536.2,451.6 536.8,451.6 537.4,451.6 538,451.6 538.6,451.6 539.2,451.6 539.8,451.6 540.4,451.6 541,451.6 541.6,451.6 542.2,451.6 542.8,451.6 543.4,451.6 544,451.6 544.6,451.6 545.2,451.6 545.8,451.6 546.4,451.6 547,451.6 547.6,451.6 548.2,451.6 548.8,451.6 549.4,451.6 550,451.6 550.6,451.6 551.2,451.6 551.8,451.6 552.4,451.6 553,451.6 553.6,451.6 554.2,451.6 554.8,451.6 555.4,451.6 556,451.6 556.6,451.6 557.2,451.5 557.8,451.5 558.4,451.5 559,451.5 559.6,451.5 560.2,451.5 560.8,451.5 561.4,451.5 562,451.5 562.6,451.5 563.2,451.5 563.8,451.5 564.4,451.5 565,451.5 565.6,451.5 566.2,451.5 566.8,451.5 567.4,451.5 568,451.5 568.6,451.5 569.2,451.5 569.8,451.5 570.4,451.5 571,451.5 571.6,451.5 572.2,451.5 572.8,451.5 573.4,451.5 574,451.4 574.6,451.4 575.2,451.4 575.8,451.4 576.4,451.4 577,451.4 577.6,451.4 578.2,451.4 578.8,451.4 579.4,451.4 580,451.4 580.6,451.4 581.2,451.4 581.8,451.4 582.4,451.4 583,451.4 583.6,451.4 584.2,451.4 584.8,451.4 585.4,451.4 586,451.4 586.6,451.4 587.2,451.4 587.8,451.4 588.4,451.4 589,451.4 589.6,451.4 590.2,451.3 590.8,451.3 591.4,451.3 592,451.3 592.6,451.3 593.2,451.3 593.8,451.3 594.4,451.3 595,451.3 595.6,451.3 596.2,451.3 596.8,451.3 597.4,451.3 598,451.3 598.6,451.3 599.2,451.3 599.8,451.3 600.4,451.3 601,451.3 601.6,451.3 602.2,451.3 602.8,451.3 603.4,451.3 604,451.3 604.6,451.3 605.2,451.3 605.8,451.3 606.4,451.2 607,451.2 607.6,451.2 608.2,451.2 608.8,451.2 609.4,451.2 610,451.2 610.6,451.2 610.6,451.2 610,451.2 609.4,451.2 608.8,451.2 608.2,451.2 607.6,451.2 607,451.2 606.4,451.2 605.8,451.3 605.2,451.3 604.6,451.3 604,451.3 603.4,451.3 602.8,451.3 602.2,451.3 601.6,451.3 601,451.3 600.4,451.3 599.8,451.3 599.2,451.3 598.6,451.3 598,451.3 597.4,451.3 596.8,451.3 596.2,451.3 595.6,451.3 595,451.3 594.4,451.3 593.8,451.3 593.2,451.3 592.6,451.3 592,451.3 591.4,451.3 590.8,451.3 590.2,451.4 589.6,451.4 589,451.4 588.4,451.4 587.8,451.4 587.2,451.4 586.6,451.4 586,451.4 585.4,451.4 584.8,451.4 584.2,451.4 583.6,451.4 583,451.4 582.4,451.4 581.8,451.4 581.2,451.4 580.6,451.4 580,451.4 579.4,451.4 578.8,451.4 578.2,451.4 577.6,451.4 577,451.4 576.4,451.4 575.8,451.4 575.2,451.4 574.6,451.5 574,451.5 573.4,451.5 572.8,451.5 572.2,451.5 571.6,451.5 571,451.5 570.4,451.5 569.8,451.5 569.2,451.5 568.6,451.5 568,451.5 567.4,451.5 566.8,451.5 566.2,451.5 565.6,451.5 565,451.5 564.4,451.5 563.8,451.5 563.2,451.5 562.6,451.5 562,451.5 561.4,451.5 560.8,451.5 560.2,451.5 559.6,451.5 559,451.6 558.4,451.6 557.8,451.6 557.2,451.6 556.6,451.6 556,451.6 555.4,451.6 554.8,451.6 554.2,451.6 553.6,451.6 553,451.6 552.4,451.6 551.8,451.6 551.2,451.6 550.6,451.6 550,451.6 549.4,451.6 548.8,451.6 548.2,451.6 547.6,451.6 547,451.6 546.4,451.6 545.8,451.6 545.2,451.6 544.6,451.6 544,451.6 543.4,451.6 542.8,451.7 542.2,451.7 541.6,451.7 541,451.7 540.4,451.7 539.8,451.7 539.2,451.7 538.6,451.7 538,451.7 537.4,451.7 536.8,451.7 536.2,451.7 535.6,451.7 535,451.7 534.4,451.7 533.8,451.7 533.2,451.7 532.6,451.7 532,451.7 531.4,451.7 530.8,451.7 530.2,451.7 529.6,451.7 529,451.7 528.4,451.7 527.8,451.7 527.2,451.8 526.6,451.8 526,451.8 525.4,451.8 524.8,451.8 524.2,451.8 523.6,451.8 523,451.8 522.4,451.8 521.8,451.8 521.2,451.8 520.6,451.8 520,451.8 519.4,451.8 518.8,451.8 518.2,451.8 517.6,451.8 517,451.8 516.4,451.8 515.8,451.8 515.2,451.8 514.6,451.8 514,451.8 513.4,451.8 512.8,451.8 512.2,451.8 511.6,451.9 511,451.9 510.4,451.9 509.8,451.9 509.2,451.9 508.6,451.9 508,451.9 507.4,451.9 506.8,451.9 506.2,451.9 505.6,451.9 505,451.9 504.4,451.9 503.8,451.9 503.2,451.9 502.6,451.9 502,451.9 501.4,451.9 500.8,451.9 500.2,451.9 499.6,451.9 499,451.9 498.4,451.9 497.8,451.9 497.2,451.9 496.6,451.9 496,451.9 495.4,452 494.8,452 494.2,452 493.6,452 493,452 492.4,452 491.8,452 491.2,452 490.6,452 490,452 489.4,452 488.8,452 488.2,452 487.6,452 487,452 486.4,452 485.8,452 485.2,452 484.6,452 484,452 483.4,452 482.8,452 482.2,452 481.6,452 481,452 480.4,452 479.8,452.1 479.2,452.1 478.6,452.1 478,452.1 477.4,452.1 476.8,452.1 476.2,452.1 475.6,452.1 475,452.1 474.4,452.1 473.8,452.1 473.2,452.1 472.6,452.1 472,452.1 471.4,452.1 470.8,452.1 470.2,452.1 469.6,452.1 469,452.1 468.4,452.1 467.8,452.1 467.2,452.1 466.6,452.1 466,452.1 465.4,452.1 464.8,452.1 464.2,452.2 463.6,452.2 463,452.2 462.4,452.2 461.8,452.2 461.2,452.2 460.6,452.2" fill="#c058c8" fill-opacity="0.75"/>
<polygon points="460.6,452.2 461.2,452.2 461.8,452.2 462.4,452.2 463,452.1 463.6,452.1 464.2,452.1 464.8,452.1 465.4,452.1 466,452.1 466.6,452.1 467.2,452.1 467.8,452.1 468.4,452.1 469,452.1 469.6,452.1 470.2,452.1 470.8,452.1 471.4,452.1 472,452.1 472.6,452.1 473.2,452.1 473.8,452.1 474.4,452.1 475,452.1 475.6,452.1 476.2,452.1 476.8,452.1 477.4,452 478,452 478.6,452 479.2,452 479.8,452 480.4,452 481,452 481.6,452 482.2,452 482.8,452 483.4,452 484,452 484.6,452 485.2,452 485.8,452 486.4,452 487,452 487.6,452 488.2,452 488.8,452 489.4,452 490,452 490.6,451.9 491.2,451.9 491.8,451.9 492.4,451.9 493,451.9 493.6,451.9 494.2,451.9 494.8,451.9 495.4,451.9 496,451.9 496.6,451.9 497.2,451.9 497.8,451.9 498.4,451.9 499,451.9 499.6,451.9 500.2,451.9 500.8,451.9 501.4,451.8 502,451.8 502.6,451.8 503.2,451.8 503.8,451.8 504.4,451.8 505,451.8 505.6,451.8 506.2,451.8 506.8,451.8 507.4,451.8 508,451.7 508.6,451.7 509.2,451.7 509.8,451.7 510.4,451.7 511,451.7 511.6,451.7 512.2,451.6 512.8,451.6 513.4,451.5 514,451.5 514.6,451.4 515.2,451.3 515.8,451.2 516.4,451 517,450.7 517.6,450.4 518.2,450 518.8,449.5 519.4,449 520,448.3 520.6,447.5 521.2,446.6 521.8,445.7 522.4,444.6 523,443.6 523.6,442.5 524.2,441.6 524.8,440.7 525.4,440 526,439.5 526.6,439.2 527.2,439.2 527.8,439.4 528.4,439.9 529,440.7 529.6,441.5 530.2,442.5 530.8,443.5 531.4,444.6 532,445.6 532.6,446.5 533.2,447.4 533.8,448.2 534.4,448.9 535,449.4 535.6,449.9 536.2,450.3 536.8,450.6 537.4,450.8 538,451 538.6,451.1 539.2,451.2 539.8,451.3 540.4,451.4 541,451.4 541.6,451.4 542.2,451.5 542.8,451.5 543.4,451.5 544,451.5 544.6,451.5 545.2,451.5 545.8,451.5 546.4,451.5 547,451.5 547.6,451.5 548.2,451.5 548.8,451.5 549.4,451.5 550,451.5 550.6,451.5 551.2,451.5 551.8,451.5 552.4,451.5 553,451.5 553.6,451.5 554.2,451.5 554.8,451.5 555.4,451.5 556,451.5 556.6,451.5 557.2,451.5 557.8,451.5 558.4,451.5 559,451.5 559.6,451.5 560.2,451.5 560.8,451.5 561.4,451.5 562,451.5 562.6,451.5 563.2,451.5 563.8,451.5 564.4,451.5 565,451.5 565.6,451.5 566.2,451.5 566.8,451.5 567.4,451.5 568,451.5 568.6,451.5 569.2,451.5 569.8,451.5 570.4,451.5 571,451.5 571.6,451.4 572.2,451.4 572.8,451.4 573.4,451.4 574,451.4 574.6,451.4 575.2,451.4 575.8,451.4 576.4,451.4 577,451.4 577.6,451.4 578.2,451.4 578.8,451.4 579.4,451.4 580,451.4 580.6,451.4 581.2,451.4 581.8,451.4 582.4,451.4 583,451.4 583.6,451.4 584.2,451.4 584.8,451.4 585.4,451.4 586,451.4 586.6,451.4 587.2,451.4 587.8,451.4 588.4,451.4 589,451.3 589.6,451.3 590.2,451.3 590.8,451.3 591.4,451.3 592,451.3 592.6,451.3 593.2,451.3 593.8,451.3 594.4,451.3 595,451.3 595.6,451.3 596.2,451.3 596.8,451.3 597.4,451.3 598,451.3 598.6,451.3 599.2,451.3 599.8,451.3 600.4,451.3 601,451.3 601.6,451.3 602.2,451.3 602.8,451.3 603.4,451.3 604,451.3 604.6,451.3 605.2,451.2 605.8,451.2 606.4,451.2 607,451.2 607.6,451.2 608.2,451.2 608.8,451.2 609.4,451.2 610,451.2 610.6,451.2 610.6,451.2 610,451.2 609.4,451.2 608.8,451.2 608.2,451.2 607.6,451.2 607,451.2 606.4,451.2 605.8,451.3 605.2,451.3 604.6,451.3 604,451.3 603.4,451.3 602.8,451.3 602.2,451.3 601.6,451.3 601,451.3 600.4,451.3 599.8,451.3 599.2,451.3 598.6,451.3 598,451.3 597.4,451.3 596.8,451.3 596.2,451.3 595.6,451.3 595,451.3 594.4,451.3 593.8,451.3 593.2,451.3 592.6,451.3 592,451.3 591.4,451.3 590.8,451.3 590.2,451.4 589.6,451.4 589,451.4 588.4,451.4 587.8,451.4 587.2,451.4 586.6,451.4 586,451.4 585.4,451.4 584.8,451.4 584.2,451.4 583.6,451.4 583,451.4 582.4,451.4 581.8,451.4 581.2,451.4 580.6,451.4 580,451.4 579.4,451.4 578.8,451.4 578.2,451.4 577.6,451.4 577,451.4 576.4,451.4 575.8,451.4 575.2,451.4 574.6,451.5 574,451.5 573.4,451.5 572.8,451.5 572.2,451.5 571.6,451.5 571,451.5 570.4,451.5 569.8,451.5 569.2,451.5 568.6,451.5 568,451.5 567.4,451.5 566.8,451.5 566.2,451.5 565.6,451.5 565,451.5 564.4,451.5 563.8,451.5 563.2,451.5 562.6,451.5 562,451.5 561.4,451.5 560.8,451.5 560.2,451.5 559.6,451.5 559,451.6 558.4,451.6 557.8,451.6 557.2,451.6 556.6,451.6 556,451.6 555.4,451.6 554.8,451.6 554.2,451.6 553.6,451.6 553,451.6 552.4,451.6 551.8,451.6 551.2,451.6 550.6,451.6 550,451.6 549.4,451.6 548.8,451.6 548.2,451.6 547.6,451.6 547,451.6 546.4,451.6 545.8,451.6 545.2,451.6 544.6,451.6 544,451.6 543.4,451.6 542.8,451.7 542.2,451.7 541.6,451.7 541,451.7 540.4,451.7 539.8,451.7 539.2,451.7 538.6,451.7 538,451.7 537.4,451.7 536.8,451.7 536.2,451.7 535.6,451.7 535,451.7 534.4,451.7 533.8,451.7 533.2,451.7 532.6,451.7 532,451.7 531.4,451.7 530.8,451.7 530.2,451.7 529.6,451.7 529,451.7 528.4,451.7 527.8,451.7 527.2,451.8 526.6,451.8 526,451.8 525.4,451.8 524.8,451.8 524.2,451.8 523.6,451.8 523,451.8 522.4,451.8 521.8,451.8 521.2,451.8 520.6,451.8 520,451.8 519.4,451.8 518.8,451.8 518.2,451.8 517.6,451.8 517,451.8 516.4,451.8 515.8,451.8 515.2,451.8 514.6,451.8 514,451.8 513.4,451.8 512.8,451.8 512.2,451.8 511.6,451.9 511,451.9 510.4,451.9 509.8,451.9 509.2,451.9 508.6,451.9 508,451.9 507.4,451.9 506.8,451.9 506.2,451.9 505.6,451.9 505,451.9 504.4,451.9 503.8,451.9 503.2,451.9 502.6,451.9 502,451.9 501.4,451.9 500.8,451.9 500.2,451.9 499.6,451.9 499,451.9 498.4,451.9 497.8,451.9 497.2,451.9 496.6,451.9 496,451.9 495.4,452 494.8,452 494.2,452 493.6,452 493,452 492.4,452 491.8,452 491.2,452 490.6,452 490,452 489.4,452 488.8,452 488.2,452 487.6,452 487,452 486.4,452 485.8,452 485.2,452 484.6,452 484,452 483.4,452 482.8,452 482.2,452 481.6,452 481,452 480.4,452 479.8,452.1 479.2,452.1 478.6,452.1 478,452.1 477.4,452.1 476.8,452.1 476.2,452.1 475.6,452.1 475,452.1 474.4,452.1 473.8,452.1 473.2,452.1 472.6,452.1 472,452.1 471.4,452.1 470.8,452.1 470.2,452.1 469.6,452.1 469,452.1 468.4,452.1 467.8,452.1 467.2,452.1 466.6,452.1 466,452.1 465.4,452.1 464.8,452.1 464.2,452.2 463.6,452.2 463,452.2 462.4,452.2 461.8,452.2 461.2,452.2 460.6,452.2" fill="#f5a050" fill-opacity="0.75"/>
<polygon points="460.6,452.2 461.2,452.2 461.8,452.1 462.4,452.1 463,452.1 463.6,452.1 464.2,452.1 464.8,452.1 465.4,452.1 466,452.1 466.6,452.1 467.2,452.1 467.8,452.1 468.4,452.1 469,452.1 469.6,452.1 470.2,452.1 470.8,452.1 471.4,452.1 472,452.1 472.6,452.1 473.2,452.1 473.8,452.1 474.4,452.1 475,452.1 475.6,452.1 476.2,452 476.8,452 477.4,452 478,452 478.6,452 479.2,452 479.8,452 480.4,452 481,452 481.6,452 482.2,452 482.8,452 483.4,452 484,452 484.6,452 485.2,452 485.8,452 486.4,452 487,452 487.6,452 488.2,452 488.8,451.9 489.4,451.9 490,451.9 490.6,451.9 491.2,451.9 491.8,451.9 492.4,451.9 493,451.9 493.6,451.9 494.2,451.9 494.8,451.9 495.4,451.9 496,451.9 496.6,451.9 497.2,451.9 497.8,451.9 498.4,451.9 499,451.9 499.6,451.9 500.2,451.8 500.8,451.8 501.4,451.8 502,451.8 502.6,451.8 503.2,451.8 503.8,451.8 504.4,451.8 505,451.8 505.6,451.8 506.2,451.8 506.8,451.8 507.4,451.8 508,451.8 508.6,451.7 509.2,451.7 509.8,451.7 510.4,451.7 511,451.7 511.6,451.7 512.2,451.7 512.8,451.7 513.4,451.7 514,451.7 514.6,451.6 515.2,451.6 515.8,451.6 516.4,451.6 517,451.6 517.6,451.5 518.2,451.5 518.8,451.5 519.4,451.4 520,451.4 520.6,451.3 521.2,451.2 521.8,451.1 522.4,451 523,450.8 523.6,450.7 524.2,450.5 524.8,450.2 525.4,449.9 526,449.6 526.6,449.2 527.2,448.8 527.8,448.4 528.4,447.8 529,447.3 529.6,446.7 530.2,446 530.8,445.3 531.4,444.5 532,443.8 532.6,443 533.2,442.2 533.8,441.4 534.4,440.7 535,440 535.6,439.4 536.2,438.8 536.8,438.4 537.4,438 538,437.8 538.6,437.7 539.2,437.7 539.8,437.9 540.4,438.2 541,438.6 541.6,439.1 542.2,439.6 542.8,440.3 543.4,441 544,441.8 544.6,442.5 545.2,443.3 545.8,444.1 546.4,444.8 547,445.5 547.6,446.2 548.2,446.8 548.8,447.4 549.4,448 550,448.5 550.6,448.9 551.2,449.3 551.8,449.6 552.4,449.9 553,450.2 553.6,450.4 554.2,450.6 554.8,450.7 555.4,450.8 556,450.9 556.6,451 557.2,451.1 557.8,451.1 558.4,451.2 559,451.2 559.6,451.2 560.2,451.3 560.8,451.3 561.4,451.3 562,451.3 562.6,451.3 563.2,451.3 563.8,451.3 564.4,451.3 565,451.4 565.6,451.4 566.2,451.4 566.8,451.4 567.4,451.4 568,451.4 568.6,451.4 569.2,451.4 569.8,451.4 570.4,451.4 571,451.4 571.6,451.4 572.2,451.4 572.8,451.4 573.4,451.4 574,451.4 574.6,451.4 575.2,451.4 575.8,451.4 576.4,451.4 577,451.4 577.6,451.4 578.2,451.4 578.8,451.4 579.4,451.4 580,451.3 580.6,451.3 581.2,451.3 581.8,451.3 582.4,451.3 583,451.3 583.6,451.3 584.2,451.3 584.8,451.3 585.4,451.3 586,451.3 586.6,451.3 587.2,451.3 587.8,451.3 588.4,451.3 589,451.3 589.6,451.3 590.2,451.3 590.8,451.3 591.4,451.3 592,451.3 592.6,451.3 593.2,451.3 593.8,451.3 594.4,451.3 595,451.3 595.6,451.3 596.2,451.3 596.8,451.3 597.4,451.3 598,451.3 598.6,451.3 599.2,451.3 599.8,451.3 600.4,451.3 601,451.3 601.6,451.3 602.2,451.2 602.8,451.2 603.4,451.2 604,451.2 604.6,451.2 605.2,451.2 605.8,451.2 606.4,451.2 607,451.2 607.6,451.2 608.2,451.2 608.8,451.2 609.4,451.2 610,451.2 610.6,451.2 610.6,451.2 610,451.2 609.4,451.2 608.8,451.2 608.2,451.2 607.6,451.2 607,451.2 606.4,451.2 605.8,451.3 605.2,451.3 604.6,451.3 604,451.3 603.4,451.3 602.8,451.3 602.2,451.3 601.6,451.3 601,451.3 600.4,451.3 599.8,451.3 599.2,451.3 598.6,451.3 598,451.3 597.4,451.3 596.8,451.3 596.2,451.3 595.6,451.3 595,451.3 594.4,451.3 593.8,451.3 593.2,451.3 592.6,451.3 592,451.3 591.4,451.3 590.8,451.3 590.2,451.4 589.6,451.4 589,451.4 588.4,451.4 587.8,451.4 587.2,451.4 586.6,451.4 586,451.4 585.4,451.4 584.8,451.4 584.2,451.4 583.6,451.4 583,451.4 582.4,451.4 581.8,451.4 581.2,451.4 580.6,451.4 580,451.4 579.4,451.4 578.8,451.4 578.2,451.4 577.6,451.4 577,451.4 576.4,451.4 575.8,451.4 575.2,451.4 574.6,451.5 574,451.5 573.4,451.5 572.8,451.5 572.2,451.5 571.6,451.5 571,451.5 570.4,451.5 569.8,451.5 569.2,451.5 568.6,451.5 568,451.5 567.4,451.5 566.8,451.5 566.2,451.5 565.6,451.5 565,451.5 564.4,451.5 563.8,451.5 563.2,451.5 562.6,451.5 562,451.5 561.4,451.5 560.8,451.5 560.2,451.5 559.6,451.5 559,451.6 558.4,451.6 557.8,451.6 557.2,451.6 556.6,451.6 556,451.6 555.4,451.6 554.8,451.6 554.2,451.6 553.6,451.6 553,451.6 552.4,451.6 551.8,451.6 551.2,451.6 550.6,451.6 550,451.6 549.4,451.6 548.8,451.6 548.2,451.6 547.6,451.6 547,451.6 546.4,451.6 545.8,451.6 545.2,451.6 544.6,451.6 544,451.6 543.4,451.6 542.8,451.7 542.2,451.7 541.6,451.7 541,451.7 540.4,451.7 539.8,451.7 539.2,451.7 538.6,451.7 538,451.7 537.4,451.7 536.8,451.7 536.2,451.7 535.6,451.7 535,451.7 534.4,451.7 533.8,451.7 533.2,451.7 532.6,451.7 532,451.7 531.4,451.7 530.8,451.7 530.2,451.7 529.6,451.7 529,451.7 528.4,451.7 527.8,451.7 527.2,451.8 526.6,451.8 526,451.8 525.4,451.8 524.8,451.8 524.2,451.8 523.6,451.8 523,451.8 522.4,451.8 521.8,451.8 521.2,451.8 520.6,451.8 520,451.8 519.4,451.8 518.8,451.8 518.2,451.8 517.6,451.8 517,451.8 516.4,451.8 515.8,451.8 515.2,451.8 514.6,451.8 514,451.8 513.4,451.8 512.8,451.8 512.2,451.8 511.6,451.9 511,451.9 510.4,451.9 509.8,451.9 509.2,451.9 508.6,451.9 508,451.9 507.4,451.9 506.8,451.9 506.2,451.9 505.6,451.9 505,451.9 504.4,451.9 503.8,451.9 503.2,451.9 502.6,451.9 502,451.9 501.4,451.9 500.8,451.9 500.2,451.9 499.6,451.9 499,451.9 498.4,451.9 497.8,451.9 497.2,451.9 496.6,451.9 496,451.9 495.4,452 494.8,452 494.2,452 493.6,452 493,452 492.4,452 491.8,452 491.2,452 490.6,452 490,452 489.4,452 488.8,452 488.2,452 487.6,452 487,452 486.4,452 485.8,452 485.2,452 484.6,452 484,452 483.4,452 482.8,452 482.2,452 481.6,452 481,452 480.4,452 479.8,452.1 479.2,452.1 478.6,452.1 478,452.1 477.4,452.1 476.8,452.1 476.2,452.1 475.6,452.1 475,452.1 474.4,452.1 473.8,452.1 473.2,452.1 472.6,452.1 472,452.1 471.4,452.1 470.8,452.1 470.2,452.1 469.6,452.1 469,452.1 468.4,452.1 467.8,452.1 467.2,452.1 466.6,452.1 466,452.1 465.4,452.1 464.8,452.1 464.2,452.2 463.6,452.2 463,452.2 462.4,452.2 461.8,452.2 461.2,452.2 460.6,452.2" fill="#48b048" fill-opacity="0.75"/>
<polyline points="458,452.2 460.5,452.2 464,452.1 468.1,452.1 472.4,452 476.5,451.9 480,451.8 483,451.7 485.9,451.6 488.6,451.4 491,451.3 493.2,451.1 495,451 496.4,450.9 497.5,450.7 498.2,450.5 498.9,450.4 499.4,450.2 500,450 500.6,449.8 501.2,449.6 501.7,449.4 502.1,449.1 502.6,448.8 503,448.5 503.4,448.1 503.9,447.7 504.3,447.2 504.7,446.7 505.1,446.1 505.5,445.5 505.9,444.8 506.3,444 506.8,443.1 507.2,442.2 507.6,441.3 508,440.5 508.4,439.7 508.9,438.9 509.3,438.1 509.7,437.3 510.1,436.6 510.5,436 510.9,435.5 511.2,435.1 511.5,434.8 511.9,434.5 512.2,434.3 512.5,434.2 512.8,434.1 513.2,434.2 513.5,434.3 513.8,434.4 514.2,434.6 514.5,434.8 514.8,435 515.2,435.4 515.5,435.7 515.8,436 516.2,436.3 516.5,436.6 516.9,436.8 517.2,437 517.6,437.1 518,437.2 518.4,437.3 518.8,437.3 519.1,437.3 519.5,437.2 519.8,437.1 520.2,437 520.6,436.8 521,436.6 521.5,436.3 521.9,435.9 522.5,435.5 523,435 523.5,434.6 524,434.2 524.5,433.8 525,433.4 525.5,433 526,432.6 526.5,432.3 527,432 527.5,431.7 528,431.5 528.5,431.3 529,431.2 529.5,431 530,430.9 530.4,430.8 530.9,430.7 531.3,430.6 531.7,430.5 532.1,430.5 532.5,430.5 532.9,430.5 533.3,430.6 533.8,430.6 534.2,430.7 534.6,430.8 535,430.9 535.4,431 535.8,431.1 536.2,431.2 536.7,431.3 537.1,431.4 537.5,431.6 537.9,431.8 538.3,432 538.8,432.3 539.2,432.6 539.6,432.9 540,433.2 540.4,433.5 540.8,433.9 541.2,434.2 541.7,434.6 542.1,435.1 542.5,435.5 542.9,436 543.3,436.5 543.7,437 544.1,437.6 544.6,438.1 545,438.7 545.5,439.3 546,440 546.5,440.6 547,441.3 547.5,441.9 548,442.5 548.5,443 549,443.6 549.4,444.1 549.9,444.5 550.4,445 551,445.5 551.6,446 552.2,446.6 552.9,447.1 553.6,447.6 554.3,448.1 555,448.5 555.7,448.8 556.4,449.1 557.1,449.4 557.9,449.6 558.9,449.8 560,450 561.3,450.2 562.6,450.3 564.1,450.4 565.7,450.4 567.7,450.5 570,450.6 572.7,450.7 575.9,450.8 579.2,450.8 582.8,450.9 586.4,450.9 590,451 593.8,451 598,451.1 602.2,451.1 606.2,451.2 609.6,451.2 612,451.2" fill="none" stroke="#1a1a1a" stroke-width="1.1" stroke-linejoin="round" />
<line x1="460.6" y1="452.2" x2="611.2" y2="451.2" stroke="#8a7a4a" stroke-width="0.6"/>
</g>
<rect x="456.6" y="427.2" width="157.6" height="29.5" fill="none" stroke="#555" stroke-width="1" />
<line x1="456.6" y1="456.7" x2="456.6" y2="453.7" stroke="#555" stroke-width="0.7"/>
<line x1="482.9" y1="456.7" x2="482.9" y2="455.2" stroke="#555" stroke-width="0.7"/>
<line x1="509.1" y1="456.7" x2="509.1" y2="453.7" stroke="#555" stroke-width="0.7"/>
<line x1="535.4" y1="456.7" x2="535.4" y2="455.2" stroke="#555" stroke-width="0.7"/>
<line x1="561.6" y1="456.7" x2="561.6" y2="453.7" stroke="#555" stroke-width="0.7"/>
<line x1="587.9" y1="456.7" x2="587.9" y2="455.2" stroke="#555" stroke-width="0.7"/>
<line x1="614.1" y1="456.7" x2="614.1" y2="453.7" stroke="#555" stroke-width="0.7"/>
<text x="456.6" y="467.7" font-size="9" fill="#1a1a1a" stroke="#1a1a1a" stroke-width="0.28" text-anchor="middle" >525</text>
<text x="509.1" y="467.7" font-size="9" fill="#1a1a1a" stroke="#1a1a1a" stroke-width="0.28" text-anchor="middle" >530</text>
<text x="561.6" y="467.7" font-size="9" fill="#1a1a1a" stroke="#1a1a1a" stroke-width="0.28" text-anchor="middle" >535</text>
<text x="614.1" y="467.7" font-size="9" fill="#1a1a1a" stroke="#1a1a1a" stroke-width="0.28" text-anchor="middle" >540</text>
<text x="457.5" y="436.3" font-size="9.2" fill="#1a1a1a" stroke="#1a1a1a" stroke-width="0.28" text-anchor="start" >O 1s</text>
<text x="535.4" y="475.1" font-size="9.2" fill="#1a1a1a" stroke="#1a1a1a" stroke-width="0.28" text-anchor="middle" >Binding energy (eV)</text>
<text transform="translate(449.4,396.2) rotate(-90)" font-size="9.5" fill="#1a1a1a" stroke="#1a1a1a" stroke-width="0.28" text-anchor="middle" dominant-baseline="central">Intensity (a.u.)</text>
<rect x="51.8" y="506" width="28.5" height="5.2" rx="1.5" fill="#c9c9c9"/>
<rect x="52.6" y="610.4" width="28.1" height="5.2" rx="1.5" fill="#c9c9c9"/>
<rect x="62.5" y="511" width="7.6" height="7" fill="#d4d4d4" stroke="none" stroke-width="1" />
<rect x="62.5" y="597" width="7.6" height="13.5" fill="#d4d4d4" stroke="none" stroke-width="1" />
<rect x="55.8" y="516.3" width="20.1" height="1.8" fill="#6a6a6a" stroke="none" stroke-width="1" />
<rect x="57" y="601.5" width="19" height="1.8" fill="#6a6a6a" stroke="none" stroke-width="1" />
<circle cx="65.9" cy="517.6" r="4.2" fill="#d8d8d8"/>
<circle cx="65.9" cy="598.8" r="4.2" fill="#d8d8d8"/>
<circle cx="65.9" cy="517.2" r="2.4" fill="#111"/>
<circle cx="65.9" cy="598.6" r="2.4" fill="#111"/>
<rect x="59.2" y="521.5" width="13.5" height="12.8" rx="1.5" fill="url(#clmp)"/>
<rect x="60.2" y="583.4" width="13.2" height="13" rx="1.5" fill="url(#clmp)"/>
<rect x="59.2" y="521.5" width="13.5" height="2.5" fill="#8a8a8a" stroke="none" stroke-width="1" />
<rect x="60.2" y="583.4" width="13.2" height="2.5" fill="#8a8a8a" stroke="none" stroke-width="1" />
<rect x="64.3" y="532" width="3.4" height="8.5" fill="#3c4a66" stroke="none" stroke-width="1" />
<rect x="64.3" y="577.5" width="3.4" height="8.5" fill="#3c4a66" stroke="none" stroke-width="1" />
<rect x="62.7" y="539.3" width="8" height="8" fill="#565656" stroke="none" stroke-width="1" />
<rect x="62.7" y="570.3" width="8" height="10" fill="#565656" stroke="none" stroke-width="1" />
<rect x="64.5" y="571" width="3" height="9" fill="#3c4a66" stroke="none" stroke-width="1" />
<rect x="63.9" y="547.2" width="5.4" height="3.2" fill="#eeeeee" stroke="none" stroke-width="1" />
<rect x="63.9" y="550.3" width="5.4" height="19.3" fill="#a89e90" stroke="none" stroke-width="1" />
<rect x="63.9" y="550.3" width="5.4" height="19.3" fill="#000" stroke="none" stroke-width="1" filter="url(#sandf)"/>
<rect x="62.7" y="569.8" width="8" height="1.2" fill="#5a7ab0" stroke="none" stroke-width="1" />
<line x1="69.5" y1="548.8" x2="89.5" y2="548.8" stroke="#222" stroke-width="0.8"/>
<path d="M92.3,548.8 L88.8,547.1 L88.8,550.5 Z" fill="#111"/>
<line x1="69.5" y1="560.8" x2="89.5" y2="560.8" stroke="#222" stroke-width="0.8"/>
<path d="M92.3,560.8 L88.8,559.1 L88.8,562.5 Z" fill="#111"/>
<line x1="69.5" y1="571.2" x2="89.5" y2="571.2" stroke="#222" stroke-width="0.8"/>
<path d="M92.3,571.2 L88.8,569.5 L88.8,572.9 Z" fill="#111"/>
<line x1="69.5" y1="581.3" x2="89.5" y2="581.3" stroke="#222" stroke-width="0.8"/>
<path d="M92.3,581.3 L88.8,579.6 L88.8,583 Z" fill="#111"/>
<text x="92.5" y="551.8" font-size="11" fill="#1a1a1a" stroke="#1a1a1a" stroke-width="0.28" text-anchor="start" >3M two-side tape</text>
<text x="92.5" y="564.3" font-size="11" fill="#1a1a1a" stroke="#1a1a1a" stroke-width="0.28" text-anchor="start" >Positive electrode</text>
<text x="92.5" y="574.9" font-size="11" fill="#1a1a1a" stroke="#1a1a1a" stroke-width="0.28" text-anchor="start" >Glass</text>
<text x="92.5" y="585.4" font-size="11" fill="#1a1a1a" stroke="#1a1a1a" stroke-width="0.28" text-anchor="start" >Splints</text>
<line x1="231" y1="617.2" x2="231" y2="614.2" stroke="#555" stroke-width="0.8"/>
<line x1="269.4" y1="617.2" x2="269.4" y2="615.4" stroke="#555" stroke-width="0.8"/>
<line x1="307.8" y1="617.2" x2="307.8" y2="614.2" stroke="#555" stroke-width="0.8"/>
<line x1="346.1" y1="617.2" x2="346.1" y2="615.4" stroke="#555" stroke-width="0.8"/>
<line x1="384.5" y1="617.2" x2="384.5" y2="614.2" stroke="#555" stroke-width="0.8"/>
<line x1="422.9" y1="617.2" x2="422.9" y2="615.4" stroke="#555" stroke-width="0.8"/>
<line x1="461.2" y1="617.2" x2="461.2" y2="614.2" stroke="#555" stroke-width="0.8"/>
<line x1="499.6" y1="617.2" x2="499.6" y2="615.4" stroke="#555" stroke-width="0.8"/>
<line x1="538" y1="617.2" x2="538" y2="614.2" stroke="#555" stroke-width="0.8"/>
<line x1="576.4" y1="617.2" x2="576.4" y2="615.4" stroke="#555" stroke-width="0.8"/>
<line x1="614.8" y1="617.2" x2="614.8" y2="614.2" stroke="#555" stroke-width="0.8"/>
<line x1="231" y1="617.2" x2="234" y2="617.2" stroke="#555" stroke-width="0.8"/>
<line x1="231" y1="603.1" x2="232.8" y2="603.1" stroke="#555" stroke-width="0.8"/>
<line x1="231" y1="589" x2="234" y2="589" stroke="#555" stroke-width="0.8"/>
<line x1="231" y1="575" x2="232.8" y2="575" stroke="#555" stroke-width="0.8"/>
<line x1="231" y1="560.9" x2="234" y2="560.9" stroke="#555" stroke-width="0.8"/>
<line x1="231" y1="546.8" x2="232.8" y2="546.8" stroke="#555" stroke-width="0.8"/>
<line x1="231" y1="532.7" x2="234" y2="532.7" stroke="#555" stroke-width="0.8"/>
<line x1="231" y1="518.6" x2="232.8" y2="518.6" stroke="#555" stroke-width="0.8"/>
<line x1="231" y1="504.6" x2="234" y2="504.6" stroke="#555" stroke-width="0.8"/>
<text x="231" y="629.9" font-size="11" fill="#1a1a1a" stroke="#1a1a1a" stroke-width="0.28" text-anchor="middle" >30</text>
<text x="307.8" y="629.9" font-size="11" fill="#1a1a1a" stroke="#1a1a1a" stroke-width="0.28" text-anchor="middle" >40</text>
<text x="384.5" y="629.9" font-size="11" fill="#1a1a1a" stroke="#1a1a1a" stroke-width="0.28" text-anchor="middle" >50</text>
<text x="461.2" y="629.9" font-size="11" fill="#1a1a1a" stroke="#1a1a1a" stroke-width="0.28" text-anchor="middle" >60</text>
<text x="538" y="629.9" font-size="11" fill="#1a1a1a" stroke="#1a1a1a" stroke-width="0.28" text-anchor="middle" >70</text>
<text x="614.8" y="629.9" font-size="11" fill="#1a1a1a" stroke="#1a1a1a" stroke-width="0.28" text-anchor="middle" >80</text>
<text x="228.6" y="621.2" font-size="11" fill="#1a1a1a" stroke="#1a1a1a" stroke-width="0.28" text-anchor="end" >0</text>
<text x="228.6" y="593" font-size="11" fill="#1a1a1a" stroke="#1a1a1a" stroke-width="0.28" text-anchor="end" >2</text>
<text x="228.6" y="564.8" font-size="11" fill="#1a1a1a" stroke="#1a1a1a" stroke-width="0.28" text-anchor="end" >4</text>
<text x="228.6" y="536.7" font-size="11" fill="#1a1a1a" stroke="#1a1a1a" stroke-width="0.28" text-anchor="end" >6</text>
<text x="228.6" y="508.5" font-size="11" fill="#1a1a1a" stroke="#1a1a1a" stroke-width="0.28" text-anchor="end" >8</text>
<text x="428.2" y="639.7" font-size="11.4" fill="#1a1a1a" stroke="#1a1a1a" stroke-width="0.28" text-anchor="middle" >Displacement (mm)</text>
<text transform="translate(211.2,556.6) rotate(-90)" font-size="11.5" fill="#1a1a1a" stroke="#1a1a1a" stroke-width="0.28" text-anchor="middle" dominant-baseline="central">Loading (N)</text>
<g clip-path="url(#clipk)">
<polyline points="231,551.2 232.2,554.3 233.5,556.3 234.7,555.7 236,554.9 237.2,552.7 238.5,552.8 239.7,555.3 241,554.8 242.2,553.7 243.5,554.6 244.7,554 246,556.8 247.2,558.2 248.5,558.6 249.7,554.9 251,553.2 252.2,551.6 253.5,551.5 254.7,555 256,555.1 257.2,551.7 258.5,551 259.7,549.2 261,546.4 262.2,543.4 263.5,543.1 264.7,545.2 266,546.1 267.2,546.2 268.5,545.6 269.7,547.9 271,548.8 272.2,551.5 273.5,554.1 274.7,558.5 276,561.8 277.2,561.2 278.5,561.8 279.7,562.2 281,564.5 282.2,564.3 283.5,565.4 284.7,565.5 286,566.5 287.2,566.5 288.5,565.2 289.7,564.6 291,563.7 292.2,563.6 293.5,562.7 294.7,562.6 296,562 297.2,561.7 298.5,560.4 299.7,558.3 301,558.9 302.2,559.8 303.5,560.5 304.7,560.3 306,561 307.2,559.7 308.5,560.5 309.7,559.9 311,558.8 312.2,558.8 313.5,561.4 314.7,563.3 316,562.3 317.2,564.7 318.5,565.3 319.7,565.6 321,565.6 322.2,566.8 323.5,567.5 324.7,565.7 326,567.5 327.2,565.6 328.5,566.1 329.7,564.9 331,567.3 332.2,569.2 333.5,569.5 334.7,571.6 336,570.8 337.2,570.4 338.5,571.9 339.7,570.9 341,569 342.2,567.7 343.5,566.5 344.7,563.7 346,561.3 347.2,561.9 348.5,560.8 349.7,561.9 351,561.9 352.2,560.4 353.5,559.9 354.7,559.6 356,559.7 357.2,559 358.5,558.1 359.7,557.4 361,559.4 362.2,560.5 363.5,563.4 364.7,567.7 366,568.3 367.2,567.4 368.5,568.1 369.7,566.6 371,565.5 372.2,563.2 373.5,562.8 374.7,562.4 376,560.3 377.2,560.4 378.5,559.9 379.7,557.7 381,558 382.2,558.3 383.5,559.1 384.7,558.7 386,559.4 387.2,559.1 388.5,556.8 389.7,555.7 391,557.1 392.2,559.3 393.5,558.8 394.7,559.8 396,560.9 397.2,561 398.5,561.5 399.7,562 401,562.7 402.2,563.9 403.5,564 404.7,564.7 406,565.8 407.2,564.2 408.5,565.1 409.7,565.8 411,563.2 412.2,560.8 413.5,561.8 414.7,560.5 416,559.7 417.2,560 418.5,561.4 419.7,560.8 421,561.6 422.2,562.2 423.5,563.8 424.7,563.6 426,564.7 427.2,563 428.5,561.3 429.7,560.5 431,559.8 432.2,558.8 433.5,559.2 434.7,559.7 436,561.5 437.2,561.9 438.5,564.1 439.7,565.8 441,565.6 442.2,565.3 443.5,565.9 444.7,565.3 446,565.1 447.2,563 448.5,560.8 449.7,559.7 451,559.7 452.2,558.2 453.5,557.4 454.7,560 456,562.5 457.2,562.9 458.5,564.6 459.7,563.3 461,561.2 462.2,562 463.5,561.2 464.7,560.3 466,558.7 467.2,559.1 468.5,559 469.7,558.6 471,560.6 472.2,562.3 473.5,561.7 474.7,560 476,558 477.2,557.2 478.5,557.7 479.7,558 481,560 482.2,559.3 483.5,560.1 484.7,558.2 486,559.1 487.2,558.3 488.5,558 489.7,557.3 491,556.5 492.2,554.9 493.5,551.3 494.7,550.6 496,550.8 497.2,553.6 498.5,557.7 499.7,561.5 501,564.6 502.2,567.7 503.5,569.2 504.7,567.8 506,566.5 507.2,567 508.5,566.3 509.7,567.2 511,566.6 512.2,566.2 513.5,567.1 514.7,567.4 516,565.5 517.2,566 518.5,566.1 519.7,565.3 521,564.5 522.2,561.6 523.5,561.8 524.7,562.6 526,560.9 527.2,560.9 528.5,560.3 529.7,560.4 531,559.7 532.2,559.2 533.5,559.4 534.7,557.3 536,556.5 537.2,556.1 538.5,556.4 539.7,556.7 541,559.3 542.2,560.2 543.5,558.7 544.7,559.5 546,559.5 547.2,559.7 548.5,560.6 549.7,562.2 551,563.1 552.2,562.3 553.5,560.9 554.7,560.2 556,559 557.2,559.6 558.5,560 559.7,559.1 561,557.9 562.2,558.4 563.5,559.7 564.7,561.2 566,562.2 567.2,561.1 568.5,561.4 569.7,560.9 571,560 572.2,559.4 573.5,559.2 574.7,559.5 576,558.2 577.2,557.4 578.5,555.8 579.7,554.1 581,555 582.2,556 583.5,555.1 584.7,555.9 586,556.5 587.2,558.1 588.5,559 589.7,558.2 591,559.6 592.2,560 593.5,558.4 594.7,558.1 596,556.9 597.2,558.1 598.5,558.5 599.7,559.9 601,560.7 602.2,561.1 603.5,560.7 604.7,559.9 606,558.2 607.2,559.2 608.5,558.4 609.7,558.7 611,560.3 612.2,558.7 613.5,557.9" fill="none" stroke="#ef9a30" stroke-width="1.15" stroke-linejoin="round" />
<polyline points="231,575.4 232.2,580.9 233.5,582.8 234.7,584.7 236,584.1 237.2,584.5 238.5,584.5 239.7,580.9 241,579.8 242.2,578.7 243.5,577.8 244.7,577.8 246,578.7 247.2,581.9 248.5,580.7 249.7,579 251,576.8 252.2,575.7 253.5,575.1 254.7,576.1 256,574.6 257.2,572.9 258.5,571.9 259.7,572.7 261,569.6 262.2,568.3 263.5,565.4 264.7,564.9 266,563.4 267.2,563.3 268.5,562.6 269.7,562.5 271,562.9 272.2,562.9 273.5,562.1 274.7,563.2 276,566.9 277.2,564.6 278.5,576.9 279.7,580.5 281,582.3 282.2,586.3 283.5,589.2 284.7,585.8 286,583.7 287.2,583.4 288.5,580.1 289.7,579.3 291,575.4 292.2,574.4 293.5,573.2 294.7,572.3 296,570.2 297.2,566.8 298.5,563.1 299.7,560 301,558.4 302.2,556.6 303.5,553.6 304.7,560.2 306,566.6 307.2,565.3 308.5,560.3 309.7,563.8 311,568 312.2,570.2 313.5,571.5 314.7,575 316,578 317.2,577.2 318.5,575.7 319.7,571.6 321,567.3 322.2,562.4 323.5,567.2 324.7,565.7 326,569.2 327.2,563.7 328.5,561.3 329.7,558.9 331,564.4 332.2,567.3 333.5,566 334.7,566.1 336,566.9 337.2,568.4 338.5,569.3 339.7,569.4 341,568.7 342.2,566.7 343.5,564.7 344.7,564.1 346,565.3 347.2,568.2 348.5,570.6 349.7,572.4 351,570.5 352.2,569.3 353.5,568.7 354.7,566.9 356,567.9 357.2,568.1 358.5,568.2 359.7,570.6 361,573.8 362.2,575 363.5,578.3 364.7,579 366,583.7 367.2,588.4 368.5,585.8 369.7,583.1 371,584.4 372.2,583.9 373.5,583.9 374.7,581.7 376,578.9 377.2,578.1 378.5,575.4 379.7,575.3 381,576.4 382.2,572.7 383.5,570.6 384.7,571.5 386,571.7 387.2,570.9 388.5,570.4 389.7,570.7 391,573.7 392.2,578.5 393.5,578.6 394.7,574.3 396,573 397.2,574 398.5,573.2 399.7,571.7 401,571.1 402.2,569.1 403.5,575.5 404.7,582.8 406,582.5 407.2,578.9 408.5,579.6 409.7,580.5 411,578.6 412.2,579.5 413.5,578.4 414.7,576.6 416,577.5 417.2,577.1 418.5,579.9 419.7,582.7 421,580.4 422.2,577.4 423.5,573.2 424.7,572.1 426,572 427.2,572 428.5,575 429.7,576.4 431,573.1 432.2,571.6 433.5,571.5 434.7,572.3 436,570.5 437.2,571.9 438.5,573 439.7,573.1 441,574 442.2,574.6 443.5,573.5 444.7,571.1 446,571.2 447.2,569.1 448.5,568.4 449.7,569.4 451,569.1 452.2,567.9 453.5,567.7 454.7,568.7 456,569.9 457.2,569.1 458.5,569.1 459.7,568.2 461,567.8 462.2,567.6 463.5,567 464.7,568.1 466,570.2 467.2,571 468.5,572.5 469.7,569.5 471,566.9 472.2,566.7 473.5,564.5 474.7,563.4 476,561.4 477.2,562.9 478.5,564.4 479.7,566.5 481,566 482.2,563.7 483.5,564.8 484.7,569.2 486,571.3 487.2,571.3 488.5,569.7 489.7,567 491,565.6 492.2,562.9 493.5,563.3 494.7,562.5 496,563.6 497.2,563.8 498.5,565.8 499.7,567.6 501,568.4 502.2,570.5 503.5,566.6 504.7,563 506,561.8 507.2,561 508.5,558.6 509.7,558.5 511,557.7 512.2,555.5 513.5,558.1 514.7,561.5 516,564.1 517.2,564.2 518.5,561.1 519.7,560.9 521,561.7 522.2,562.3 523.5,562.1 524.7,561.8 526,566 527.2,568.6 528.5,570.3 529.7,571.2 531,573.8 532.2,575.8 533.5,576.2 534.7,573.7 536,570.7 537.2,568.3 538.5,565.5 539.7,562.5 541,560.1 542.2,557.4 543.5,558.2 544.7,557.6 546,558.6 547.2,560.2 548.5,562.3 549.7,561.5 551,561.4 552.2,558.6 553.5,560.8 554.7,566.6 556,570 557.2,570.2 558.5,567.7 559.7,565.8 561,557.8 562.2,558.6 563.5,561.6 564.7,563.6 566,563.9 567.2,564.3 568.5,563.5 569.7,562 571,562 572.2,563 573.5,563.6 574.7,561.9 576,557.2 577.2,554.4 578.5,553.4 579.7,554.9 581,558.4 582.2,559 583.5,562.9 584.7,564.8 586,566.9 587.2,568.4 588.5,571.7 589.7,573.3 591,575.4 592.2,573.6 593.5,571 594.7,569.5 596,566.3 597.2,563.4 598.5,562.4 599.7,560.2 601,558.1 602.2,557.6 603.5,556.1 604.7,553.3 606,553.3 607.2,551.2 608.5,553.5 609.7,555.2 611,558.6 612.2,558.6 613.5,557.3" fill="none" stroke="#1f8a1f" stroke-width="1.15" stroke-linejoin="round" />
</g>
<rect x="231" y="504.6" width="384" height="112.6" fill="none" stroke="#555" stroke-width="1" />
<line x1="477.4" y1="514.7" x2="491.5" y2="514.7" stroke="#ef9a30" stroke-width="1.2"/>
<line x1="477.4" y1="527.1" x2="491.5" y2="527.1" stroke="#1f8a1f" stroke-width="1.2"/>
<text x="494.3" y="518" font-size="10.28" fill="#1a1a1a" stroke="#1a1a1a" stroke-width="0.28" text-anchor="start" >Mo current collector</text>
<text x="494.3" y="530.6" font-size="10.28" fill="#1a1a1a" stroke="#1a1a1a" stroke-width="0.28" text-anchor="start" >ITO/PET current collector</text>
</svg>
</body></html>
